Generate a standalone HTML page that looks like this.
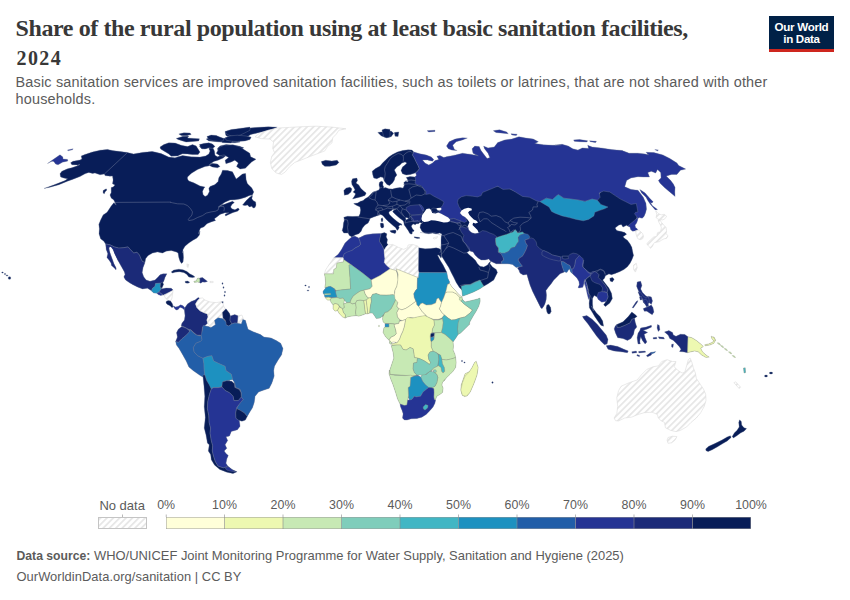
<!DOCTYPE html>
<html><head><meta charset="utf-8">
<style>
html,body{margin:0;padding:0;background:#fff;}
body{width:850px;height:600px;position:relative;overflow:hidden;font-family:"Liberation Sans",sans-serif;}
.t{position:absolute;white-space:nowrap;}
#title{left:15.500px;top:15.200px;font-family:"Liberation Serif",serif;font-weight:bold;font-size:24px;line-height:26px;color:#383838;letter-spacing:-0.4px;}
#title2{left:16.500px;top:46.750px;font-family:"Liberation Serif",serif;font-weight:bold;font-size:20px;line-height:22px;color:#383838;letter-spacing:1.4px;}
#sub{left:15.500px;top:74.200px;font-size:14.45px;line-height:17.3px;color:#5b5b5b;letter-spacing:0.18px;}
#logo{position:absolute;left:769px;top:16px;width:65px;height:33px;background:#002147;border-bottom:3px solid #ce261e;color:#fff;font-weight:bold;font-size:11.6px;line-height:12.1px;text-align:center;}
#logo div{margin-top:4.500px;letter-spacing:-0.3px}
.lg{position:absolute;font-size:12.4px;line-height:15px;color:#5b5b5b;top:498.300px;white-space:nowrap;}
.ft{position:absolute;left:16.500px;font-size:12.9px;line-height:15px;color:#5b5b5b;white-space:nowrap;}
</style></head><body>
<div id="title" class="t">Share of the rural population using at least basic sanitation facilities,</div>
<div id="title2" class="t">2024</div>
<div id="sub" class="t">Basic sanitation services are improved sanitation facilities, such as toilets or latrines, that are not shared with other<br>households.</div>
<div id="logo"><div>Our World<br>in Data</div></div>
<svg width="850" height="600" viewBox="0 0 850 600" style="position:absolute;left:0;top:0">
<defs>
<pattern id="h" width="4.5" height="4.5" patternUnits="userSpaceOnUse" patternTransform="rotate(45)"><rect width="4.5" height="4.5" fill="#fff"/><rect x="0" y="0" width="1.7" height="4.5" fill="#e6e6e6"/></pattern>
</defs>
<g id="map">
<path d="M769.4,373.0 770.2,373.8 771.8,373.8 772.6,373.0 771.8,372.2 770.2,372.2ZM764.6,376.0 765.3,376.9 766.7,376.9 767.4,376.0 766.7,375.1 765.3,375.1ZM732.4,436.6 733.4,437.8 736.8,435.6 736.8,435.6 740.4,432.9 740.4,432.9 740.5,432.8 743.9,431.2 746.3,428.7 744.1,427.9 744.0,427.9 744.0,427.8 743.9,427.8 743.8,427.7 743.8,427.7 741.7,425.3 741.7,425.3 741.6,425.2 741.6,425.1 741.6,425.1 741.5,425.0 741.5,424.9 741.2,421.7 739.7,420.1 738.9,422.4 739.3,426.7 739.3,426.7 739.3,426.8 739.3,426.9 739.3,427.0 739.3,427.0 739.2,427.1 739.2,427.2 737.1,430.4 737.0,430.5 737.0,430.5 734.4,433.1ZM743.7,368.1 744.1,372.8 745.4,372.5 745.1,367.9ZM705.9,449.0 706.1,450.6 708.1,451.4 712.1,449.7 712.1,449.7 717.4,446.7 717.4,446.7 722.7,443.5 722.7,443.5 727.1,440.9 727.1,440.9 727.1,440.9 730.9,437.5 730.3,435.9 727.3,437.0 727.3,437.0 727.3,437.0 722.0,440.2 721.9,440.2 714.9,443.7 714.8,443.7 708.8,446.4ZM704.8,344.9 705.3,345.6 709.6,345.0 709.6,345.0 709.6,345.0 713.7,343.3 715.2,340.6 715.2,340.6 715.3,340.5 715.3,340.4 715.4,340.4 715.4,340.4 715.4,340.3 715.4,340.2 715.4,340.2 713.9,337.1 712.9,337.1 712.9,337.1 712.8,337.1 712.7,337.1 712.7,337.1 712.6,337.1 711.4,336.5 711.9,338.4 713.5,340.3 713.5,340.4 713.5,340.5 713.6,340.5 713.6,340.6 713.6,340.7 713.6,340.8 713.6,340.8 713.6,340.9 713.6,341.0 713.6,341.1 713.6,341.1 713.5,341.2 713.0,342.0 713.0,342.1 712.9,342.1 712.9,342.2 712.8,342.2 712.8,342.3 712.7,342.3 708.8,344.0 708.7,344.0 708.7,344.1ZM664.8,332.1 668.1,334.9 668.2,335.0 668.2,335.0 668.3,335.1 668.3,335.1 669.9,338.5 673.4,340.2 673.4,340.3 673.5,340.3 673.6,340.4 676.1,342.9 676.1,342.9 679.3,346.4 679.3,346.4 679.4,346.5 680.9,348.8 680.9,348.9 681.0,348.9 681.0,349.0 681.0,349.1 681.0,349.1 681.0,349.2 681.0,349.3 681.0,349.3 681.0,349.4 681.0,349.5 680.9,349.6 680.9,349.6 679.8,351.4 683.1,351.6 683.2,351.7 687.5,352.5 691.0,351.7 691.0,351.7 694.4,350.9 694.5,350.9 694.6,350.9 694.6,350.9 694.7,350.9 694.8,350.9 698.0,351.6 698.1,351.6 698.1,351.7 698.2,351.7 698.3,351.7 698.3,351.8 701.7,354.9 701.7,354.9 701.7,354.9 706.0,357.3 708.8,357.0 706.0,355.2 705.9,355.1 705.9,355.1 702.5,352.0 702.4,351.9 702.4,351.9 702.4,351.8 702.3,351.8 700.8,348.8 700.8,348.8 700.8,348.7 700.7,348.6 700.7,348.6 700.7,348.5 700.7,348.4 700.7,348.3 700.8,348.3 700.8,348.2 700.8,348.1 700.9,348.1 700.9,348.0 700.9,348.0 701.0,347.9 701.1,347.9 703.2,346.5 700.6,344.0 700.6,344.0 696.2,340.5 696.2,340.5 691.8,337.8 688.1,337.0 688.0,337.0 687.9,336.9 687.9,336.9 687.8,336.9 684.7,334.6 680.4,334.4 676.3,336.3 676.3,336.3 676.2,336.4 676.1,336.4 676.0,336.4 676.0,336.4 675.9,336.4 675.8,336.4 675.7,336.3 675.7,336.3 673.6,335.3 673.5,335.3 673.4,335.3 673.4,335.2 673.3,335.2 673.3,335.1 673.2,335.0 673.2,335.0 673.2,334.9 672.4,332.5 668.9,330.8ZM323.2,291.3 323.2,293.1 324.5,294.8 324.5,294.9 324.5,294.9 324.6,295.0 324.6,295.1 324.9,296.8 325.0,296.9 325.0,296.9 325.1,297.0 325.1,297.0 325.1,297.1 325.1,297.2 325.2,297.3 325.2,297.3 325.2,297.4 325.2,297.5 327.6,300.0 329.6,299.9 329.7,299.9 329.7,299.9 329.8,299.9 329.9,299.9 329.9,299.9 330.0,300.0 330.1,300.0 330.1,300.1 330.2,300.1 330.2,300.2 330.3,300.2 330.3,300.3 331.3,302.4 331.3,302.4 331.3,302.4 333.1,304.7 333.1,304.8 333.2,304.9 333.2,304.9 333.2,305.0 333.2,305.1 333.2,305.1 333.2,305.2 333.2,308.7 335.1,311.0 337.0,310.6 337.1,310.5 337.2,310.5 337.3,310.5 337.3,310.5 337.4,310.6 337.5,310.6 337.5,310.6 337.6,310.6 337.7,310.7 337.7,310.7 337.8,310.8 337.8,310.8 337.9,310.9 339.5,313.7 342.6,316.8 345.2,317.9 347.4,316.8 347.4,316.8 347.5,316.8 347.6,316.7 351.2,316.1 351.2,316.0 356.1,315.5 356.1,315.5 356.2,315.5 356.3,315.5 356.3,315.5 358.8,316.0 362.4,314.9 362.5,314.9 365.4,313.7 365.5,313.7 365.6,313.7 365.6,313.7 365.7,313.7 367.8,313.7 369.7,313.0 369.7,313.0 369.8,313.0 369.9,313.0 372.2,313.0 372.3,313.0 372.4,313.0 372.4,313.0 372.5,313.0 372.6,313.0 372.6,313.1 372.7,313.1 372.8,313.2 372.8,313.2 374.5,315.5 374.5,315.5 376.3,318.3 379.9,318.0 381.7,316.6 381.7,316.6 381.8,316.6 381.9,316.5 382.0,316.5 382.0,316.5 382.1,316.5 382.2,316.5 382.2,316.5 382.3,316.5 382.4,316.5 382.5,316.5 382.5,316.6 382.6,316.6 382.6,316.7 382.7,316.7 382.7,316.8 382.8,316.8 382.8,316.9 382.8,317.0 382.9,317.0 382.9,317.1 382.9,317.2 382.9,317.3 382.9,317.3 382.7,318.8 383.2,321.8 384.9,323.2 385.0,323.3 385.0,323.3 385.1,323.4 385.1,323.5 385.1,323.5 385.2,323.6 385.2,323.7 385.2,323.8 385.2,323.8 385.2,323.9 385.2,324.0 385.1,324.0 385.1,326.5 385.1,326.5 385.1,326.6 385.1,326.7 385.1,326.7 385.1,326.8 385.0,326.9 385.0,326.9 385.0,327.0 384.9,327.0 384.9,327.0 383.9,328.2 383.3,332.5 385.7,336.8 388.9,339.9 388.9,339.9 389.6,340.7 389.7,340.7 389.7,340.8 389.8,340.8 389.8,340.9 389.8,341.0 389.8,341.1 389.8,341.1 389.8,341.2 389.8,341.3 389.6,343.1 390.6,344.2 390.6,344.1 390.6,344.1 390.7,344.0 390.8,344.0 390.8,344.0 390.9,343.9 391.0,343.9 391.0,343.9 391.1,343.9 391.2,343.9 391.3,343.9 391.3,343.9 391.4,343.9 391.5,344.0 391.5,344.0 391.6,344.0 391.7,344.1 391.7,344.1 392.0,344.5 392.1,344.5 392.1,344.6 392.1,344.6 392.2,344.7 392.2,344.8 392.2,344.8 392.2,344.9 392.2,345.0 392.2,345.1 392.2,345.1 392.2,345.2 392.2,345.3 392.1,345.3 392.1,345.4 392.0,345.4 392.0,345.5 391.9,345.6 391.9,345.6 391.8,345.6 391.8,345.7 391.7,345.7 391.6,345.7 391.5,345.7 391.4,345.7 392.0,348.1 392.0,348.1 393.2,352.4 393.3,352.5 393.9,357.9 393.9,358.0 393.9,358.1 393.9,358.1 393.9,358.2 393.9,358.3 392.0,363.8 392.0,363.8 390.1,369.6 390.1,369.7 390.0,369.8 390.0,369.8 389.9,369.9 389.9,369.9 389.8,370.0 389.8,370.0 389.7,370.1 389.6,370.1 389.6,370.1 389.5,370.1 389.2,373.8 390.7,378.7 390.7,378.8 393.2,384.9 393.2,385.0 395.7,392.4 395.7,392.5 397.6,398.7 397.6,398.7 397.6,398.7 400.1,403.9 400.1,404.0 400.2,404.0 400.7,406.9 400.7,406.9 400.7,406.9 402.0,409.9 402.1,410.0 403.2,413.6 403.2,413.7 403.2,413.8 403.2,413.8 403.2,413.9 403.2,414.0 402.7,418.0 404.5,419.9 406.9,419.9 411.1,418.7 411.2,418.7 411.3,418.6 416.9,418.4 416.9,418.4 416.9,418.4 421.8,417.1 426.1,414.3 426.1,414.3 426.1,414.3 429.9,410.5 429.9,410.5 433.0,406.8 433.0,406.8 433.0,406.8 434.9,403.1 435.4,400.0 435.4,400.0 435.4,400.0 435.4,399.9 435.4,399.8 435.4,399.7 435.4,399.7 435.4,399.6 435.4,399.5 435.4,399.4 435.4,399.4 435.5,399.3 435.5,399.3 436.7,396.3 436.7,396.3 436.7,396.2 436.8,396.2 436.8,396.1 436.9,396.0 436.9,396.0 437.0,396.0 439.9,394.3 439.9,394.3 442.4,392.4 442.9,388.1 441.8,385.2 441.8,385.2 441.8,385.1 441.8,385.0 441.8,384.9 441.8,384.9 441.8,384.8 442.3,382.6 442.3,382.5 442.4,382.5 442.4,382.4 442.4,382.4 442.5,382.3 443.3,381.3 443.3,381.3 443.4,381.2 443.4,381.2 443.5,381.1 443.6,381.1 443.6,381.1 443.7,381.1 443.7,381.1 446.1,378.0 446.1,378.0 449.9,374.3 449.9,374.3 453.0,371.1 453.0,371.1 453.0,371.1 455.5,367.4 456.0,362.5 456.0,362.5 456.0,362.5 455.5,357.5 455.5,357.5 455.5,357.5 455.4,357.5 454.9,354.4 454.9,354.4 454.9,354.4 453.0,350.2 453.0,350.1 453.0,350.1 453.0,350.0 453.0,349.9 453.0,349.8 453.3,346.2 453.3,346.2 453.3,346.2 453.0,342.1 453.0,342.1 453.0,342.0 453.0,341.9 453.0,341.8 453.0,341.8 453.1,341.7 453.1,341.6 456.1,337.4 456.1,337.4 457.9,334.5 457.9,334.4 458.0,334.4 458.0,334.3 458.1,334.3 458.1,334.2 458.2,334.2 460.5,333.0 464.9,328.7 469.7,323.9 469.7,323.9 469.6,323.9 469.6,323.8 469.5,323.8 469.4,323.7 469.4,323.7 469.4,323.6 469.3,323.6 469.3,323.5 469.3,323.4 469.2,323.4 469.2,323.3 469.2,323.2 469.2,323.1 469.2,323.1 469.2,323.0 469.3,322.9 469.3,322.9 470.5,320.5 470.5,320.5 473.0,316.1 473.0,316.1 476.1,311.1 476.1,311.1 478.7,306.1 478.7,306.1 478.7,306.1 480.0,301.2 479.9,298.3 477.6,299.1 477.5,299.2 471.2,300.7 471.2,300.7 465.3,302.0 465.3,302.0 465.2,302.0 465.1,302.0 465.1,302.0 465.0,302.0 464.9,301.9 464.8,301.9 464.8,301.9 464.7,301.8 464.7,301.8 462.5,299.6 462.5,299.6 462.4,299.5 462.4,299.5 462.4,299.4 462.3,299.3 462.3,299.3 461.8,297.0 461.7,296.9 461.7,296.9 461.7,296.8 461.6,296.8 461.5,296.8 461.5,296.7 461.4,296.7 458.7,294.6 458.7,294.5 458.7,294.5 454.9,290.1 454.9,290.1 451.8,287.1 451.8,287.0 451.7,286.9 449.7,283.6 449.6,283.6 449.6,283.6 449.5,283.5 449.5,283.5 449.4,283.4 449.3,283.4 449.3,283.3 449.3,283.3 449.2,283.2 449.2,283.1 449.2,283.1 449.2,283.0 449.2,282.9 449.2,282.8 449.2,282.8 449.2,282.7 449.2,282.6 449.3,282.5 449.3,282.5 449.4,282.4 449.4,282.4 449.6,282.2 447.7,278.2 447.7,278.2 447.7,278.1 447.6,278.0 446.8,272.8 446.7,272.8 446.7,272.7 446.7,272.7 446.7,272.6 446.7,272.5 446.7,272.5 444.9,268.9 444.9,268.9 443.0,265.1 443.0,265.1 439.9,260.1 439.9,260.0 437.9,256.1 437.8,256.0 437.8,255.9 437.8,255.9 437.8,255.8 437.8,255.7 437.8,255.6 437.8,255.6 437.8,255.5 437.9,255.4 437.9,255.4 437.9,255.3 438.0,255.3 438.0,255.2 438.1,255.1 438.1,255.1 438.2,255.1 438.3,255.0 438.3,255.0 438.4,255.0 438.5,255.0 438.6,255.0 438.6,255.0 438.7,255.0 438.8,255.0 438.9,255.0 439.0,255.1 439.0,255.1 439.1,255.1 439.1,255.2 439.2,255.2 439.2,255.3 439.3,255.3 440.8,257.7 440.9,257.2 440.9,257.1 440.9,257.0 441.0,257.0 441.0,256.9 441.0,256.8 441.1,256.8 441.1,256.7 441.2,256.7 441.3,256.6 441.3,256.6 441.4,256.6 441.5,256.6 441.6,256.6 441.6,256.5 441.7,256.5 441.8,256.6 441.8,256.6 441.9,256.6 442.0,256.6 442.0,256.7 442.1,256.7 442.2,256.8 442.2,256.8 442.3,256.9 442.6,257.4 442.6,257.4 445.7,262.4 445.7,262.4 448.9,267.4 449.0,267.5 451.3,272.4 451.3,272.4 453.9,277.4 453.9,277.4 456.3,282.4 456.3,282.4 459.5,287.4 459.5,287.4 459.5,287.4 461.7,289.6 461.7,289.6 461.8,289.7 461.8,289.7 461.8,289.8 461.8,289.8 461.9,289.9 461.9,290.0 462.0,291.2 462.0,291.2 462.6,296.0 467.4,294.3 467.5,294.3 473.7,291.8 473.7,291.8 479.9,288.7 479.9,288.7 483.7,286.1 483.8,286.1 488.0,283.7 488.0,283.7 491.8,281.1 491.8,281.1 493.7,279.9 495.5,276.1 495.5,276.1 497.3,272.5 496.1,269.5 492.5,267.1 492.4,267.0 492.4,267.0 492.3,266.9 490.1,264.1 490.0,264.1 490.0,264.0 490.0,263.9 489.9,263.9 489.9,263.8 489.9,263.7 489.9,263.6 489.9,263.6 489.9,263.5 490.3,261.9 490.3,261.8 490.3,261.7 490.4,261.7 490.4,261.6 490.5,261.6 490.5,261.5 490.6,261.5 490.6,261.4 490.7,261.4 490.8,261.4 490.8,261.3 490.9,261.3 491.0,261.3 491.0,261.3 491.1,261.3 491.2,261.3 491.3,261.3 491.3,261.4 496.2,263.7 507.5,263.7 507.6,263.7 512.3,264.2 512.4,264.2 512.5,264.3 512.5,264.3 512.6,264.3 512.7,264.4 512.7,264.4 516.2,267.3 517.1,267.2 517.2,267.2 517.3,267.2 517.3,267.2 517.4,267.2 517.5,267.2 517.6,267.2 517.6,267.3 517.7,267.3 517.7,267.3 517.8,267.4 517.8,267.4 517.9,267.5 517.9,267.6 518.0,267.6 518.0,267.7 518.0,267.8 518.0,267.8 518.0,267.9 518.0,268.0 518.0,268.1 518.0,268.1 518.0,268.2 517.9,268.3 517.9,268.3 517.9,268.4 517.8,268.4 517.8,268.5 517.7,268.5 518.8,269.7 518.8,269.8 518.9,269.8 518.9,269.9 518.9,269.9 520.1,273.0 523.1,274.8 526.3,274.3 526.4,274.3 526.5,274.3 526.6,274.3 526.6,274.3 526.7,274.4 526.8,274.4 526.8,274.4 526.9,274.5 527.0,274.5 527.0,274.6 527.1,274.6 527.1,274.7 527.1,274.7 527.2,274.8 527.2,274.9 528.2,278.8 528.2,278.8 530.1,284.9 530.1,285.0 532.6,291.1 532.6,291.1 535.7,297.4 540.7,307.4 541.9,308.6 543.7,306.1 543.7,306.1 543.7,306.1 544.9,303.7 544.9,303.7 544.9,303.7 546.1,299.4 546.1,299.4 546.1,299.4 546.3,295.0 546.3,295.0 546.3,295.0 545.9,290.8 545.9,290.8 545.9,290.7 545.9,290.6 545.9,290.5 545.9,290.5 546.0,290.4 546.0,290.3 548.0,287.4 548.0,287.4 551.1,283.7 551.1,283.7 553.6,280.0 553.7,279.9 553.7,279.9 556.8,276.8 559.8,273.8 559.9,273.7 559.9,273.7 560.0,273.6 560.1,273.6 562.4,272.7 562.4,272.7 564.1,271.9 564.2,271.8 564.3,271.8 564.4,271.8 564.4,271.8 564.5,271.8 564.6,271.8 564.6,271.8 566.8,272.3 568.0,270.5 568.0,270.5 568.6,269.6 568.7,269.6 568.7,269.5 568.8,269.5 568.8,269.4 568.9,269.4 569.0,269.3 569.0,269.3 569.1,269.3 569.2,269.3 569.3,269.3 569.3,269.3 569.4,269.3 569.5,269.3 569.5,269.4 569.6,269.4 569.7,269.4 569.7,269.5 569.8,269.5 569.8,269.6 569.9,269.6 569.9,269.7 569.9,269.8 570.7,271.8 572.6,273.7 574.5,275.5 574.5,275.5 577.0,277.9 577.0,278.0 577.1,278.1 578.9,281.0 578.9,281.1 578.9,281.1 579.0,281.2 579.0,281.3 579.5,284.2 579.5,284.3 579.5,284.3 579.5,284.4 579.5,284.5 579.5,284.6 579.5,284.6 578.3,287.4 578.9,287.8 582.8,287.1 584.4,280.9 584.4,280.9 584.4,280.8 584.5,280.7 584.5,280.7 584.6,280.6 584.6,280.6 584.7,280.5 584.7,280.5 584.8,280.4 584.9,280.4 584.9,280.4 585.0,280.4 585.1,280.4 585.2,280.4 585.2,280.4 585.3,280.4 585.4,280.4 585.4,280.5 585.5,280.5 585.6,280.5 585.6,280.6 585.7,280.6 585.7,280.7 585.8,280.8 585.8,280.8 585.8,280.9 587.3,285.3 587.3,285.4 587.4,285.4 588.7,293.3 588.7,293.3 589.6,299.4 589.6,299.5 589.6,299.5 589.6,299.6 589.3,303.3 589.3,303.3 589.3,303.3 589.5,307.7 592.2,312.0 592.2,312.0 594.8,316.4 594.8,316.4 598.4,321.7 598.4,321.7 601.0,325.2 603.4,326.0 602.6,321.0 599.9,316.6 599.9,316.6 599.9,316.6 596.4,313.1 596.4,313.1 596.4,313.0 593.8,309.5 593.8,309.5 593.0,308.4 592.9,308.4 592.9,308.3 592.9,308.3 592.8,308.2 592.8,308.1 592.8,308.1 592.4,303.9 592.4,303.9 592.4,298.8 592.4,298.7 592.4,298.6 592.4,298.5 592.4,298.5 592.4,298.4 593.8,295.9 593.8,295.9 593.9,295.8 593.9,295.8 594.0,295.7 594.0,295.7 594.1,295.6 594.2,295.6 594.2,295.6 594.3,295.6 594.4,295.5 594.4,295.5 594.5,295.5 594.6,295.6 594.6,295.6 594.7,295.6 594.8,295.6 596.9,296.7 596.9,296.7 597.0,296.7 597.1,296.8 597.1,296.8 597.2,296.9 597.2,297.0 597.2,297.0 598.4,299.4 601.8,302.0 604.6,301.5 604.7,301.5 604.8,301.5 604.8,301.5 604.9,301.5 605.0,301.5 605.1,301.5 605.1,301.5 605.2,301.6 605.2,301.6 605.3,301.7 605.4,301.7 605.4,301.8 605.4,301.8 605.5,301.9 605.5,302.0 605.5,302.0 605.5,302.1 605.5,302.2 605.5,302.2 605.5,302.3 605.5,302.4 605.5,302.5 605.5,302.5 605.4,302.6 605.4,302.6 603.8,304.8 605.4,306.4 609.7,303.0 612.2,298.6 611.4,293.3 608.8,288.1 608.8,288.1 608.8,288.1 605.3,283.7 605.3,283.7 602.9,280.6 602.9,280.6 602.8,280.5 602.8,280.4 602.8,280.4 602.8,280.3 602.7,280.2 602.7,280.1 602.8,280.1 602.8,280.0 602.8,279.9 602.8,279.9 602.8,279.8 602.9,279.7 602.9,279.7 603.0,279.6 604.4,278.2 605.2,275.9 605.2,275.8 605.2,275.7 605.3,275.7 605.3,275.6 605.4,275.6 605.4,275.5 605.5,275.5 605.5,275.5 608.6,273.9 608.7,273.9 608.7,273.8 608.8,273.8 608.9,273.8 609.0,273.8 609.0,273.8 609.1,273.8 609.2,273.8 611.5,274.6 615.0,273.5 615.1,273.5 619.4,271.7 619.4,271.7 623.8,269.4 623.8,269.4 623.8,269.4 627.3,266.7 630.0,263.2 630.0,263.2 630.0,263.2 631.8,259.7 631.8,259.7 633.4,255.4 632.6,251.9 632.5,251.8 631.8,247.4 630.0,244.0 630.0,244.0 630.0,244.0 627.3,240.4 624.8,238.8 624.7,238.7 624.7,238.7 623.4,237.4 623.3,237.4 623.3,237.3 623.3,237.2 623.2,237.2 623.2,237.1 623.2,237.0 623.2,237.0 623.2,236.9 623.2,236.8 623.2,236.7 623.2,236.7 623.2,236.6 623.3,236.5 623.3,236.5 623.3,236.4 623.4,236.4 623.4,236.3 623.5,236.3 626.4,234.2 624.7,232.5 621.3,231.6 621.3,231.6 617.0,230.8 616.9,230.8 616.9,230.8 616.8,230.7 616.7,230.7 616.7,230.6 616.6,230.6 616.6,230.5 616.5,230.5 615.3,228.5 615.2,228.5 615.2,228.4 615.2,228.3 615.2,228.3 615.2,228.2 615.2,228.1 615.2,228.0 615.2,228.0 615.2,227.9 615.2,227.8 615.3,227.8 615.3,227.7 615.3,227.6 615.4,227.6 615.4,227.5 618.4,225.2 618.5,225.2 618.6,225.2 618.6,225.1 620.8,224.4 620.9,224.4 620.9,224.4 621.0,224.4 621.1,224.4 621.2,224.4 621.2,224.4 621.3,224.4 621.4,224.4 621.4,224.5 621.5,224.5 621.5,224.6 621.6,224.6 621.6,224.7 621.7,224.7 623.1,226.9 626.2,225.3 626.3,225.3 626.4,225.3 626.4,225.3 626.5,225.2 626.6,225.2 626.6,225.2 626.7,225.3 626.8,225.3 626.8,225.3 626.9,225.3 627.0,225.4 628.0,226.0 628.1,226.0 628.1,226.1 628.2,226.1 628.3,226.1 628.3,226.1 628.4,226.1 629.7,226.8 629.8,226.8 629.9,226.8 629.9,226.9 630.0,226.9 630.0,227.0 630.1,227.1 630.1,227.1 630.1,227.2 630.9,229.7 632.7,231.0 635.5,230.7 635.5,230.7 635.5,230.7 637.7,229.9 637.3,229.0 635.6,227.8 635.6,227.7 635.5,227.7 635.5,227.6 635.4,227.6 635.4,227.5 635.3,227.4 635.3,227.4 635.3,227.3 635.0,225.4 635.0,225.3 635.0,225.2 635.0,225.2 635.0,225.1 635.0,225.0 635.1,224.9 635.1,224.9 635.1,224.8 636.4,223.1 637.3,220.9 637.3,220.9 637.3,220.9 637.7,218.7 637.7,218.6 637.7,218.6 637.8,218.5 637.8,218.4 637.9,218.4 637.9,218.3 638.0,218.3 638.0,218.2 639.0,217.6 639.1,217.6 639.1,217.5 639.2,217.5 639.3,217.5 639.4,217.5 639.4,217.5 639.5,217.5 639.6,217.5 642.1,218.1 643.9,216.5 645.4,212.9 645.4,212.8 646.3,209.2 645.9,203.5 643.2,197.4 643.2,197.4 643.2,197.4 637.9,190.4 631.1,189.6 631.0,189.5 630.9,189.5 630.9,189.5 625.2,187.0 625.2,187.0 625.1,187.0 625.0,186.9 625.0,186.9 624.9,186.8 624.9,186.8 624.9,186.7 624.8,186.6 624.8,186.6 624.8,186.5 624.8,186.4 624.8,186.4 624.8,186.3 624.8,186.2 624.8,186.2 626.4,180.7 626.4,180.6 626.4,180.6 626.5,180.5 626.5,180.4 626.6,180.4 626.6,180.3 626.7,180.3 626.7,180.2 630.8,177.8 630.9,177.8 631.0,177.8 631.0,177.7 631.1,177.7 637.9,176.6 638.0,176.6 638.1,176.6 643.3,176.8 643.3,176.8 649.3,176.8 647.9,173.2 647.9,173.2 647.8,173.1 647.8,173.0 647.8,172.9 647.8,172.9 647.8,172.8 647.9,172.7 647.9,172.6 647.9,172.6 648.0,172.5 648.0,172.5 648.1,172.4 648.1,172.4 648.2,172.3 648.2,172.3 648.3,172.2 651.0,171.2 651.1,171.2 651.2,171.2 651.2,171.2 651.3,171.2 651.4,171.2 651.4,171.2 651.5,171.2 651.6,171.2 655.6,172.9 657.0,170.2 657.0,170.2 657.1,170.1 657.1,170.1 657.2,170.0 657.2,170.0 657.3,169.9 657.4,169.9 657.4,169.9 657.5,169.8 657.6,169.8 657.7,169.8 657.7,169.8 657.8,169.8 657.9,169.9 657.9,169.9 658.0,169.9 658.1,169.9 658.1,170.0 658.2,170.0 660.6,172.3 660.7,172.4 660.7,172.4 660.8,172.5 660.8,172.6 660.8,172.6 660.8,172.7 660.9,172.8 660.9,172.8 661.1,177.6 661.1,177.7 661.1,177.8 661.1,177.8 661.1,177.9 661.1,178.0 661.0,178.0 661.0,178.1 661.0,178.1 660.9,178.2 658.6,180.5 660.2,183.1 660.2,183.1 660.2,183.1 664.6,187.5 664.6,187.5 669.9,191.9 674.9,196.1 674.7,192.1 674.7,191.9 674.9,187.6 673.3,184.2 673.3,184.2 673.3,184.2 670.6,180.6 670.6,180.6 666.9,176.9 666.8,176.8 666.8,176.8 666.8,176.7 666.7,176.7 666.7,176.6 666.7,176.5 666.7,176.4 666.7,176.4 666.7,176.3 666.7,176.2 666.7,176.2 666.7,176.1 666.8,176.0 666.8,176.0 666.8,175.9 666.9,175.8 666.9,175.8 667.0,175.8 667.1,175.7 667.1,175.7 667.2,175.7 671.5,174.3 671.5,174.3 671.6,174.3 671.7,174.2 676.8,174.2 680.2,170.4 680.2,170.3 680.3,170.3 680.3,170.2 680.4,170.2 680.4,170.2 680.5,170.1 680.6,170.1 685.3,169.0 678.8,165.7 678.7,165.7 678.6,165.6 678.6,165.6 678.5,165.5 678.5,165.5 676.8,163.0 669.7,158.6 669.7,158.6 662.7,155.0 662.7,155.0 662.7,155.0 653.9,152.8 653.9,152.7 653.9,152.7 646.4,152.5 647.2,153.2 647.2,153.3 647.2,153.4 647.3,153.4 647.3,153.5 647.3,153.5 647.4,153.6 647.4,153.7 647.4,153.8 647.4,153.8 647.4,153.9 647.3,154.0 647.3,154.0 647.3,154.1 647.3,154.2 647.2,154.2 647.2,154.3 647.1,154.3 647.1,154.4 647.0,154.4 646.9,154.5 646.9,154.5 646.8,154.5 646.7,154.5 646.7,154.5 646.6,154.5 646.5,154.5 646.4,154.5 645.1,154.2 645.1,154.1 638.0,153.4 638.0,153.3 629.3,153.3 629.2,153.3 629.2,153.3 629.1,153.3 629.0,153.3 622.1,150.6 611.5,149.8 611.5,149.7 600.9,148.0 600.9,148.0 592.2,147.2 592.1,147.1 592.0,147.1 592.0,147.1 587.9,145.5 588.5,147.5 588.5,147.6 588.5,147.7 588.5,147.7 588.5,147.8 588.5,147.9 588.5,148.0 588.5,148.0 588.4,148.1 588.4,148.2 588.4,148.2 588.3,148.3 588.3,148.3 588.2,148.4 588.1,148.4 588.1,148.4 588.0,148.4 587.9,148.5 587.9,148.5 587.8,148.5 587.7,148.5 582.4,148.1 578.3,150.1 578.2,150.2 578.1,150.2 578.0,150.2 578.0,150.2 577.9,150.2 577.8,150.2 577.7,150.2 572.7,148.9 572.7,148.8 572.6,148.8 572.6,148.8 568.2,146.2 562.1,144.5 556.4,145.2 556.4,145.2 552.5,145.3 552.5,145.3 543.7,145.0 543.6,144.9 536.7,143.9 536.6,143.8 536.6,143.8 536.5,143.8 536.4,143.8 536.4,143.7 536.3,143.7 536.3,143.6 536.2,143.6 536.2,143.5 536.1,143.4 536.1,143.4 536.1,143.3 536.1,143.2 536.1,143.1 536.1,143.1 536.1,143.0 536.1,142.9 536.1,142.9 536.1,142.8 536.2,142.7 536.2,142.7 536.3,142.6 536.3,142.6 536.4,142.5 536.4,142.5 536.5,142.4 538.1,141.7 533.1,139.1 526.0,138.3 526.0,138.2 518.9,136.9 512.0,139.1 511.9,139.1 511.9,139.2 504.8,140.0 504.8,140.0 504.8,140.0 497.8,142.7 494.5,146.9 494.4,147.0 494.4,147.0 494.3,147.1 494.3,147.1 494.2,147.1 494.1,147.1 494.1,147.2 494.0,147.2 488.2,148.0 488.1,148.0 488.0,148.0 487.9,148.0 487.9,148.0 487.8,148.0 483.9,146.4 484.6,148.6 488.1,153.0 488.1,153.1 488.1,153.2 488.2,153.2 489.7,156.9 489.7,157.0 489.7,157.1 489.7,157.2 489.8,157.2 489.7,157.3 489.7,157.4 489.7,157.4 489.7,157.5 489.7,157.6 489.6,157.6 489.6,157.7 489.5,157.8 489.5,157.8 489.4,157.8 489.4,157.9 489.3,157.9 489.2,157.9 487.6,158.5 487.5,158.5 487.4,158.5 487.3,158.5 487.3,158.5 487.2,158.5 487.1,158.5 487.1,158.5 487.0,158.5 486.9,158.4 486.9,158.4 486.8,158.4 486.8,158.3 486.7,158.3 483.5,154.1 483.5,154.1 480.9,150.6 480.9,150.6 480.8,150.5 479.1,146.7 474.9,146.3 472.3,148.8 473.1,153.1 474.3,153.7 474.3,153.7 474.4,153.7 474.5,153.8 474.5,153.8 474.5,153.9 474.6,154.0 474.6,154.0 474.6,154.1 474.7,154.2 474.7,154.2 474.7,154.3 474.7,154.4 474.7,154.5 474.7,154.5 474.6,154.6 474.6,154.7 474.6,154.7 474.5,154.8 474.5,154.9 474.4,154.9 474.4,154.9 474.3,155.0 474.2,155.0 474.2,155.0 474.1,155.1 474.0,155.1 473.9,155.1 473.9,155.1 473.8,155.1 471.2,154.5 471.2,154.5 462.4,153.4 453.7,155.5 453.6,155.6 446.5,156.8 446.5,156.8 444.1,157.6 444.0,157.6 443.9,157.6 443.9,157.6 443.8,157.6 443.7,157.6 443.7,157.6 443.6,157.6 443.5,157.5 440.0,155.8 437.1,156.3 438.5,158.7 438.6,158.7 438.6,158.8 438.6,158.9 438.6,159.0 438.6,159.0 438.6,159.1 438.6,159.2 438.6,159.3 438.6,159.3 438.6,159.4 438.5,159.5 438.5,159.5 438.4,159.6 438.4,159.6 438.3,159.7 438.3,159.7 438.2,159.7 438.1,159.8 435.1,160.7 432.7,163.1 432.6,163.2 432.6,163.2 432.5,163.3 429.1,165.0 429.1,165.0 429.0,165.0 428.9,165.1 428.9,165.1 428.8,165.1 428.7,165.1 428.7,165.1 428.6,165.0 428.5,165.0 428.5,165.0 425.0,163.3 425.0,163.3 424.9,163.2 424.9,163.2 424.8,163.1 423.2,161.1 423.1,161.0 423.1,160.9 423.1,160.9 423.0,160.8 423.0,160.7 423.0,160.7 423.0,160.6 423.0,160.5 423.0,160.4 423.0,160.4 423.1,160.3 423.1,160.2 423.1,160.2 423.2,160.1 423.2,160.1 423.3,160.0 423.3,160.0 423.4,159.9 423.5,159.9 423.5,159.9 423.6,159.9 423.7,159.9 423.8,159.8 427.4,159.8 427.5,159.9 427.6,159.9 432.4,161.0 433.6,159.4 431.1,157.0 426.2,155.1 426.2,155.1 426.2,155.1 420.0,154.0 419.9,153.9 413.9,152.1 413.8,152.1 413.8,152.0 413.7,152.0 413.6,151.9 413.6,151.9 411.8,150.1 408.1,150.0 408.1,150.0 408.1,150.0 402.5,150.7 402.5,150.8 397.6,152.0 397.6,152.0 397.5,152.0 392.6,154.5 392.6,154.5 388.9,157.0 388.9,157.0 388.9,157.0 385.7,160.1 385.7,160.1 382.6,163.2 382.6,163.2 380.2,166.0 380.1,166.1 380.1,166.1 380.0,166.2 375.7,168.6 375.7,168.6 375.7,168.6 372.4,171.3 372.9,175.0 372.9,175.0 372.9,175.0 373.9,178.0 376.9,178.6 380.3,176.9 380.4,176.8 380.5,176.8 380.5,176.8 380.6,176.8 380.7,176.8 380.8,176.8 380.9,176.8 382.8,177.3 382.9,177.3 383.0,177.3 383.0,177.4 383.1,177.4 383.1,177.5 383.2,177.5 383.2,177.6 383.3,177.6 383.3,177.7 383.3,177.8 384.5,181.1 387.0,184.3 389.4,185.4 392.4,183.0 394.3,179.9 394.8,177.6 394.8,177.5 394.9,177.4 394.9,177.4 395.0,177.3 396.7,175.0 395.5,172.6 395.5,172.6 394.4,170.4 394.4,170.3 394.4,170.3 394.4,170.2 394.4,170.1 394.4,170.0 394.4,170.0 394.4,169.9 394.4,169.8 394.4,169.7 394.5,169.7 394.5,169.6 396.7,166.9 396.8,166.8 396.8,166.8 396.9,166.7 399.9,164.9 399.9,164.9 399.9,164.9 401.7,163.1 401.8,163.0 401.8,163.0 401.9,162.9 402.0,162.9 404.7,161.9 404.7,161.8 404.8,161.8 404.9,161.8 405.0,161.8 405.0,161.8 405.1,161.8 405.2,161.9 405.3,161.9 405.3,161.9 406.3,162.6 406.4,162.6 406.5,162.7 406.5,162.7 406.6,162.8 406.6,162.8 406.6,162.9 406.7,163.0 406.7,163.0 406.7,163.1 406.7,163.2 406.7,163.3 406.7,163.3 406.7,163.4 406.6,163.5 406.6,163.6 406.6,163.6 406.5,163.7 406.5,163.7 405.1,165.1 405.1,165.1 402.6,167.0 401.2,170.6 402.6,173.7 406.2,174.8 410.6,174.3 410.6,174.3 410.6,174.3 414.9,173.0 414.9,173.0 415.0,172.9 415.1,172.9 415.2,172.9 415.2,172.9 415.3,172.9 415.4,172.9 415.5,173.0 415.5,173.0 415.6,173.0 415.7,173.1 415.7,173.1 415.8,173.2 415.8,173.2 415.8,173.3 415.9,173.4 416.5,174.8 416.5,174.9 416.5,174.9 416.5,175.0 416.5,175.1 416.5,175.2 416.5,175.2 416.5,175.3 416.5,175.4 416.5,175.5 416.4,175.5 416.4,175.6 415.3,176.8 415.3,176.8 415.2,176.9 415.1,176.9 415.1,177.0 415.0,177.0 414.9,177.0 414.8,177.0 414.8,177.0 414.7,177.0 410.0,176.7 406.4,177.6 407.6,179.2 407.6,179.3 407.6,179.3 407.7,179.4 407.7,179.5 408.0,180.9 408.0,180.9 408.0,181.0 408.0,181.1 408.0,181.2 408.0,181.2 408.0,181.3 408.0,181.4 407.9,181.4 407.9,181.5 407.8,181.6 407.8,181.6 407.7,181.7 407.7,181.7 407.6,181.7 407.5,181.8 407.4,181.8 407.4,181.8 407.3,181.8 407.2,181.8 407.1,181.8 407.1,181.8 405.6,181.4 404.0,182.6 404.5,184.8 404.5,184.9 404.5,184.9 404.5,185.0 404.5,185.1 404.5,185.2 404.5,185.2 403.4,187.7 403.4,187.8 403.4,187.8 403.3,187.9 403.3,187.9 403.2,188.0 403.2,188.0 403.1,188.1 403.0,188.1 403.0,188.1 402.9,188.2 402.8,188.2 402.7,188.2 402.7,188.2 402.6,188.2 400.0,187.7 396.2,188.2 396.2,188.2 392.6,189.1 392.5,189.1 392.5,189.1 392.4,189.1 388.9,189.0 388.8,188.9 388.7,188.9 388.7,188.9 385.6,187.7 384.5,187.9 384.4,187.9 384.4,187.9 384.3,187.9 384.2,187.9 384.1,187.9 384.1,187.9 384.0,187.9 383.9,187.8 383.9,187.8 383.8,187.7 383.8,187.7 383.7,187.6 383.7,187.6 383.6,187.5 383.6,187.4 383.6,187.4 383.6,187.3 383.6,187.2 383.6,187.1 383.6,187.1 383.6,187.0 383.6,186.9 383.6,186.9 382.8,185.2 382.7,185.2 382.7,185.1 382.7,185.0 382.7,185.0 382.7,184.9 382.7,184.8 382.9,182.0 381.2,181.4 379.5,182.6 379.2,185.0 379.9,187.8 379.9,187.9 379.9,188.0 379.9,188.0 379.9,188.1 379.9,188.2 379.9,188.2 379.9,188.3 379.8,188.4 379.0,189.9 379.0,189.9 379.0,190.0 378.9,190.1 378.8,190.1 378.8,190.2 378.7,190.2 378.6,190.2 375.7,191.3 375.6,191.4 373.2,192.0 371.3,193.9 368.3,197.0 368.2,197.0 368.1,197.1 365.1,198.9 365.1,198.9 365.1,198.9 363.3,200.6 363.3,200.6 363.2,200.7 363.1,200.7 363.1,200.8 363.0,200.8 360.7,201.3 357.7,203.2 357.6,203.2 357.6,203.2 357.5,203.2 357.4,203.3 357.4,203.3 353.9,203.6 353.9,203.7 357.0,205.5 357.0,205.5 359.8,206.6 359.8,206.7 359.9,206.7 360.0,206.8 360.0,206.8 360.1,206.9 360.1,206.9 360.1,207.0 360.2,207.0 360.2,207.1 360.2,207.2 360.7,209.9 360.7,209.9 360.7,210.0 360.7,210.1 360.7,210.1 360.2,213.7 360.1,213.8 360.1,213.9 360.1,214.0 359.1,216.0 359.1,216.0 359.0,216.1 359.0,216.1 358.9,216.2 358.9,216.2 358.8,216.3 358.7,216.3 358.7,216.3 358.6,216.3 358.5,216.4 358.5,216.4 352.5,216.6 352.5,216.6 347.5,216.4 344.0,217.3 344.5,219.8 344.5,219.9 344.5,220.0 344.5,220.0 344.5,220.1 344.5,220.2 343.6,223.1 343.6,223.1 343.6,223.1 343.3,226.9 343.2,227.0 342.4,230.6 343.9,232.9 347.7,232.9 347.8,233.0 347.9,233.0 348.0,233.0 348.0,233.0 348.1,233.0 348.2,233.1 348.2,233.1 348.3,233.2 348.3,233.2 348.4,233.3 348.4,233.4 349.5,235.5 351.2,236.3 351.2,236.4 351.3,236.4 351.3,236.5 351.4,236.5 351.4,236.6 351.5,236.7 351.5,236.7 351.5,236.8 351.5,236.9 351.6,236.9 351.6,237.0 351.6,237.1 351.5,237.2 351.5,237.2 351.5,237.3 351.5,237.4 351.4,237.4 351.4,237.5 351.3,237.5 351.3,237.6 348.9,239.5 348.9,239.5 345.1,243.2 342.0,248.9 342.0,248.9 341.3,250.1 341.3,250.1 338.3,254.4 338.2,254.5 338.2,254.5 338.1,254.6 334.2,257.7 342.6,257.7 342.7,257.7 342.8,257.7 342.8,257.7 342.9,257.7 343.0,257.7 343.0,257.8 343.1,257.8 343.1,257.9 343.2,257.9 343.2,258.0 343.3,258.0 343.3,258.1 343.3,258.2 343.4,258.2 343.6,259.3 343.6,259.4 343.6,259.5 343.6,261.4 343.6,261.5 343.6,261.5 343.6,261.6 343.6,261.7 343.6,261.8 343.5,261.8 343.5,261.9 343.4,261.9 343.4,262.0 343.3,262.0 343.2,262.1 343.2,262.1 343.1,262.1 343.0,262.1 340.0,262.6 340.0,262.6 337.0,263.2 336.4,267.8 336.4,267.9 336.4,268.0 336.3,268.0 336.3,268.1 336.3,268.1 336.2,268.2 336.2,268.3 336.1,268.3 336.1,268.3 336.0,268.4 333.9,269.5 333.7,273.3 333.7,273.3 333.7,273.4 333.6,273.5 333.6,273.5 333.6,273.6 333.5,273.7 333.5,273.7 333.4,273.8 333.4,273.8 333.3,273.9 333.2,273.9 333.2,273.9 333.1,273.9 333.0,273.9 332.9,273.9 324.6,273.9 325.3,278.0 325.4,278.1 325.7,283.0 325.7,283.1 325.7,283.1 325.7,283.2 325.0,287.4 325.0,287.4 325.1,287.4 325.1,287.4 325.2,287.4 325.3,287.5 325.3,287.5 325.4,287.6 325.4,287.6 325.5,287.7 325.5,287.8 325.5,287.8 325.5,287.9 325.6,288.0 325.6,288.0 325.6,288.1 325.6,288.2 325.6,288.2 325.5,288.3 325.5,288.4 325.5,288.4 325.5,288.5 325.4,288.6ZM470.1,250.9 472.9,251.7 473.0,251.7 473.0,251.7 473.1,251.8 473.2,251.8 473.2,251.9 473.3,251.9 473.3,252.0 473.3,252.0 475.1,254.9 475.1,254.9 475.1,254.9 478.2,258.0 478.2,258.0 478.2,258.0 481.2,259.9 485.0,259.9 488.4,259.0 488.5,258.9 488.5,258.9 488.6,258.9 488.7,258.9 488.7,258.9 488.8,259.0 488.9,259.0 488.9,259.0 489.0,259.1 489.1,259.1 489.1,259.2 489.2,259.2 490.4,260.7 490.4,260.8 490.5,260.8 490.5,260.9 490.5,260.9 490.5,261.0 490.5,261.1 490.6,261.2 490.5,261.2 490.5,261.3 490.5,261.4 490.5,261.4 490.5,261.5 490.4,261.6 490.4,261.6 490.3,261.7 488.9,263.2 488.9,263.2 488.9,263.2 487.7,265.0 487.7,265.0 487.6,265.1 487.6,265.1 487.5,265.2 487.4,265.2 484.1,266.9 484.0,267.0 483.9,267.0 483.9,267.0 483.8,267.0 483.7,267.0 483.6,267.0 483.6,267.0 480.1,266.4 480.1,266.4 480.0,266.3 479.9,266.3 479.9,266.3 479.8,266.2 479.8,266.2 477.5,264.0 477.4,263.9 477.4,263.9 477.3,263.8 475.5,260.7 472.4,257.6 472.4,257.6 469.3,255.1 469.3,255.1 467.3,253.1 467.2,253.1 467.2,253.0 467.2,252.9 467.1,252.9 467.1,252.8 467.1,252.7 467.1,252.7 467.1,252.6 467.1,252.5 467.1,252.4 467.1,252.4 467.1,252.3 467.2,252.2 467.2,252.2 467.2,252.1 467.3,252.1 467.3,252.0 467.4,252.0 469.1,250.7 469.1,250.7 469.2,250.7 469.3,250.6 469.3,250.6 469.4,250.6 469.5,250.6 469.5,250.6 469.6,250.6 469.7,250.6 469.8,250.6 469.8,250.7 469.9,250.7 469.9,250.7 470.0,250.8 470.1,250.8ZM354.9,236.3 354.9,236.3 354.8,236.3 354.8,236.3 354.7,236.2 354.7,236.2 354.6,236.1 354.5,236.1 354.5,236.0 354.5,236.0 354.4,235.9 354.4,235.8 354.4,235.7 354.4,235.7 354.4,235.6 354.4,235.5 354.4,235.4 354.4,235.4 354.5,235.3 354.5,235.2 354.5,235.2 354.6,235.1 354.6,235.1 354.7,235.0 354.7,235.0 354.9,234.9 354.9,234.9 355.0,234.8 358.7,233.7 361.1,231.1 362.3,228.1 362.4,228.1 362.4,228.0 362.4,227.9 364.8,225.0 364.9,224.9 364.9,224.9 365.0,224.8 368.0,223.0 369.3,220.5 369.3,220.5 369.3,220.5 369.8,218.7 369.8,218.7 369.8,218.6 369.9,218.5 369.9,218.5 370.0,218.4 370.0,218.4 370.1,218.3 370.1,218.3 370.2,218.3 373.7,216.8 373.8,216.8 373.8,216.7 374.9,216.5 375.0,216.5 377.7,215.5 377.8,215.5 380.3,214.5 380.4,214.4 380.4,214.4 380.5,214.4 380.6,214.4 380.6,214.4 380.7,214.4 380.8,214.4 380.8,214.5 380.9,214.5 382.8,215.4 382.8,215.5 382.9,215.5 382.9,215.5 383.0,215.6 384.6,217.3 384.6,217.3 386.4,219.4 386.4,219.4 388.5,221.5 388.5,221.5 391.0,223.6 391.0,223.6 393.4,225.7 393.4,225.7 395.5,227.4 395.6,227.5 395.6,227.5 395.6,227.6 395.7,227.6 396.6,229.2 396.6,229.2 396.6,229.2 397.1,229.8 397.2,229.9 397.2,230.0 397.3,230.0 397.3,230.1 397.4,230.2 398.5,228.8 399.1,227.2 398.7,226.8 398.7,226.7 398.6,226.7 398.6,226.6 398.6,226.5 398.6,226.5 398.5,226.4 398.5,226.3 398.5,226.2 398.5,226.2 398.6,226.1 398.6,226.0 398.6,226.0 398.6,225.9 398.7,225.8 398.7,225.8 398.8,225.7 398.8,225.7 399.8,225.0 399.8,224.9 399.9,224.9 400.0,224.8 400.0,224.8 400.1,224.8 400.2,224.8 400.3,224.8 400.3,224.8 400.4,224.8 401.6,225.1 401.6,224.2 399.3,223.2 399.2,223.1 399.2,223.1 397.1,221.7 397.1,221.7 395.0,219.9 395.0,219.9 392.9,218.2 392.9,218.2 391.1,216.4 391.1,216.4 389.5,214.7 389.4,214.6 389.4,214.6 389.3,214.5 389.3,214.5 388.8,213.1 388.7,213.0 388.7,213.0 388.7,212.9 388.7,212.8 388.7,212.8 388.7,212.7 388.7,212.6 388.8,212.6 388.8,212.5 389.3,211.5 389.3,211.5 389.3,211.4 389.4,211.4 389.4,211.3 389.5,211.3 389.5,211.2 389.6,211.2 389.7,211.2 391.5,210.5 392.5,209.7 392.6,209.6 392.6,209.6 392.7,209.5 392.8,209.5 392.8,209.5 392.9,209.5 393.0,209.5 393.1,209.5 393.1,209.5 393.2,209.5 393.3,209.5 393.3,209.6 393.4,209.6 393.5,209.6 393.5,209.7 393.6,209.7 393.6,209.8 393.6,209.9 393.7,209.9 393.7,210.0 393.7,210.1 393.7,210.1 393.7,210.2 393.7,210.3 393.7,210.4 393.7,210.4 393.7,210.5 393.7,210.6 393.6,210.6 393.6,210.7 392.8,211.7 394.5,213.4 394.5,213.4 396.3,215.1 396.3,215.1 398.4,216.9 400.5,218.7 400.5,218.7 402.5,220.0 402.6,220.1 402.6,220.1 402.7,220.2 403.6,221.4 403.7,221.4 403.7,221.5 403.7,221.6 403.8,221.7 403.8,221.7 404.0,223.3 404.0,223.3 404.4,225.0 405.8,226.8 405.8,226.8 407.2,228.9 408.6,231.0 408.6,231.1 409.7,233.1 411.3,234.1 412.2,233.2 412.1,232.4 412.1,232.3 412.1,232.3 412.1,232.2 412.1,232.1 412.1,232.1 412.1,232.0 412.1,231.9 412.2,231.9 412.2,231.8 412.3,231.7 412.3,231.7 412.4,231.6 412.4,231.6 412.5,231.6 412.6,231.5 412.7,231.5 413.4,231.4 414.0,230.4 412.8,229.5 412.8,229.4 412.7,229.4 412.6,229.3 412.6,229.2 412.0,228.0 412.0,228.0 411.3,226.5 411.3,226.5 411.2,226.4 411.2,226.3 411.2,226.3 411.2,226.2 411.2,226.1 411.2,226.1 411.3,226.0 411.3,225.9 411.3,225.9 411.9,224.9 411.9,224.8 412.0,224.8 412.0,224.7 412.1,224.7 412.1,224.6 412.2,224.6 413.2,224.1 413.3,224.1 413.3,224.0 413.4,224.0 413.5,224.0 413.5,224.0 413.6,224.0 413.7,224.0 413.7,224.0 413.8,224.1 415.2,224.6 416.3,223.7 416.4,223.7 416.5,223.6 416.5,223.6 416.6,223.6 416.7,223.6 416.7,223.6 416.8,223.5 418.3,223.5 419.5,222.7 419.5,222.6 419.6,222.6 419.7,222.5 419.7,222.5 419.8,222.5 419.9,222.5 420.0,222.5 420.0,222.5 420.1,222.5 421.0,222.7 421.0,222.7 421.1,222.7 421.2,222.8 421.2,222.8 421.3,222.9 421.3,222.9 421.4,223.0 421.4,223.0 421.5,223.1 421.5,223.2 421.5,223.2 421.5,223.3 421.5,223.4 421.5,223.5 421.5,223.5 421.5,223.6 421.5,223.7 421.5,223.8 421.4,223.8 421.4,223.9 421.3,223.9 421.3,224.0 420.7,224.5 420.2,227.5 422.0,231.1 424.5,233.0 428.8,233.6 432.3,233.0 432.4,233.0 432.5,233.0 432.6,233.0 432.7,233.0 436.2,233.8 439.6,233.0 439.6,233.0 439.7,233.0 439.8,233.0 439.8,233.0 439.9,233.0 440.0,233.0 440.0,233.0 441.5,233.7 441.6,233.7 441.6,233.7 441.7,233.8 441.7,233.8 441.8,233.9 441.8,234.0 441.9,234.0 441.9,234.1 441.9,234.2 441.9,234.2 441.9,234.3 441.9,234.4 441.9,234.5 441.9,234.5 441.3,236.9 441.3,236.9 441.3,236.9 441.2,240.0 441.2,240.0 441.3,248.7 441.3,248.8 441.3,248.9 441.2,248.9 441.2,249.0 441.2,249.1 441.2,249.1 441.1,249.2 441.1,249.3 441.0,249.3 441.0,249.4 440.9,249.4 440.8,249.4 440.8,249.5 440.7,249.5 440.6,249.5 440.5,249.5 440.5,249.5 440.4,249.5 440.3,249.5 440.3,249.4 440.2,249.4 440.1,249.4 438.9,248.6 436.2,248.0 431.2,248.6 431.2,248.7 425.1,248.9 425.0,248.9 424.9,248.9 418.9,248.0 418.7,270.0 418.7,270.0 418.7,270.0 419.1,272.4 419.1,272.5 419.1,272.5 419.1,272.6 418.7,277.0 418.7,277.1 418.7,277.2 418.7,277.2 418.6,277.3 418.6,277.4 418.6,277.4 418.5,277.5 418.5,277.5 418.4,277.6 418.3,277.6 418.3,277.6 418.2,277.7 418.1,277.7 418.1,277.7 418.0,277.7 417.9,277.7 417.8,277.7 417.8,277.7 417.7,277.6 396.4,269.1 396.6,269.7 396.7,269.7 396.7,269.8 396.7,269.9 396.7,270.0 396.7,270.0 396.7,270.1 396.6,270.2 396.6,270.2 396.6,270.3 396.5,270.4 396.5,270.4 396.4,270.5 396.4,270.5 396.3,270.6 396.2,270.6 396.2,270.6 396.1,270.6 396.0,270.6 396.0,270.6 395.9,270.6 395.8,270.6 395.7,270.6 390.4,269.1 390.3,269.0 390.3,269.0 390.2,269.0 390.1,268.9 390.1,268.9 390.0,268.8 390.0,268.8 389.9,268.7 389.9,268.6 389.9,268.6 389.9,268.5 389.9,268.4 389.9,268.3 389.9,268.2 386.9,265.8 386.8,265.7 386.7,265.6 384.5,262.8 384.4,262.7 384.4,262.7 384.3,262.6 384.3,262.6 384.3,262.5 384.3,262.4 384.3,262.4 384.3,262.3 384.3,262.2 384.8,258.8 384.3,253.8 383.9,250.6 383.9,250.6 383.9,250.5 383.9,250.4 383.9,250.4 383.9,250.3 383.9,250.2 384.0,250.2 384.0,250.1 384.1,250.0 384.1,250.0 384.2,249.9 384.3,249.9 384.3,249.9 386.0,246.9 386.1,246.8 386.1,246.8 386.1,246.7 387.9,245.0 386.9,243.4 386.9,243.3 386.8,243.2 386.8,243.2 386.8,243.1 386.8,243.0 386.8,242.9 386.8,242.9 387.3,239.4 386.2,237.2 386.1,237.1 386.1,237.0 386.1,237.0 386.1,236.9 386.1,236.8 386.1,236.7 386.1,236.7 386.7,233.9 384.4,232.7 381.3,233.6 381.2,233.7 381.2,233.7 381.1,233.7 381.0,233.8 381.0,233.8 380.9,233.8 380.8,233.8 380.7,233.8 380.7,233.8 380.6,233.8 380.0,233.7 372.5,233.9 372.5,234.0 365.0,235.1 359.1,238.1 359.1,238.1 359.0,238.2 358.9,238.2 358.8,238.2 358.8,238.2 358.7,238.2 358.6,238.2 358.5,238.1 358.5,238.1 354.9,236.3 354.9,236.3ZM433.5,371.3 433.5,371.3 433.5,371.4 433.5,371.5 433.4,371.5 433.4,371.6 433.3,371.6 433.3,371.7 433.2,371.7 433.2,371.8 433.1,371.8 433.0,371.8 433.0,371.8 432.9,371.9 432.8,371.9 432.7,371.9 432.7,371.8 432.0,371.7 432.0,371.7 431.9,371.7 431.8,371.7 431.8,371.6 431.7,371.6 431.7,371.5 431.6,371.5 431.6,371.4 431.5,371.4 431.5,371.3 431.5,371.2 431.4,371.2 431.4,371.1 431.4,371.0 431.4,370.9 431.4,370.9 431.5,370.8 431.5,370.7 431.5,370.7 431.5,370.6 431.6,370.5 431.6,370.5 431.7,370.4 431.7,370.4 431.8,370.3 431.9,370.3 431.9,370.3 432.0,370.3 432.8,370.1 432.8,370.1 432.9,370.1 433.0,370.1 433.0,370.1 433.1,370.1 433.2,370.1 433.3,370.1 433.3,370.2 433.4,370.2 433.4,370.3 433.5,370.3 433.5,370.4 433.6,370.4 433.6,370.5 433.6,370.6 433.7,370.6 433.7,370.7 433.7,370.8 433.7,370.8 433.7,370.9 433.7,371.0 433.6,371.1 433.6,371.1 433.6,371.2ZM421.0,375.0 421.1,375.0 421.2,375.0 421.2,375.0 421.3,375.1 421.4,375.1 421.4,375.2 421.5,375.2 421.5,375.3 421.6,375.3 421.6,375.4 421.6,375.5 421.6,375.5 421.7,375.6 421.7,375.7 421.7,375.7 421.7,375.8 421.7,375.9 421.6,376.0 421.6,376.0 421.6,376.1 421.5,376.1 421.5,376.2 421.5,376.3 421.0,376.7 421.0,376.7 420.9,376.8 420.8,376.8 420.8,376.9 420.7,376.9 420.6,376.9 420.6,376.9 420.5,376.9 420.4,376.9 420.4,376.9 420.3,376.9 420.2,376.9 420.1,376.8 419.0,376.3 418.9,376.2 418.9,376.2 418.8,376.1 418.8,376.1 418.7,376.0 418.7,376.0 418.7,375.9 418.6,375.8 418.6,375.8 418.6,375.7 418.6,375.6 418.6,375.5 418.6,375.5 418.6,375.4 418.6,375.3 418.7,375.3 418.7,375.2 418.8,375.1 418.8,375.1 418.9,375.0 418.9,375.0 419.0,374.9 419.1,374.9 419.1,374.9 419.2,374.9 419.3,374.9 419.3,374.9 420.0,374.9 420.1,374.9ZM409.4,399.2 409.4,399.3 409.4,399.4 409.4,399.5 409.4,399.5 409.4,399.6 409.4,399.7 409.3,399.8 409.3,399.8 409.2,399.9 409.2,399.9 409.1,400.0 409.1,400.0 409.0,400.1 409.0,400.1 408.9,400.1 408.8,400.1 408.7,400.1 408.7,400.1 408.5,400.1 408.4,400.1 408.4,400.1 408.3,400.1 408.2,400.1 408.2,400.1 408.1,400.0 408.0,400.0 408.0,399.9 407.9,399.9 407.9,399.8 407.9,399.8 407.8,399.7 407.8,399.6 407.8,399.6 407.8,399.5 407.8,399.4 407.8,399.4 407.8,399.3 407.8,398.8 407.8,398.8 407.9,398.7 407.9,398.6 407.9,398.6 408.0,398.5 408.0,398.4 408.1,398.4 408.1,398.3 408.2,398.3 408.3,398.3 408.3,398.2 408.4,398.2 408.5,398.2 408.6,398.2 408.6,398.2 408.7,398.2 408.8,398.2 408.8,398.3 408.9,398.3 409.0,398.3 409.0,398.4 409.1,398.4 409.1,398.5 409.2,398.5 409.2,398.6 409.3,398.7 409.3,398.7 409.3,398.8ZM391.4,342.8 391.4,342.7 391.4,342.6 391.4,342.6 391.5,342.5 391.5,342.5 391.5,342.4 391.6,342.3 391.7,342.3 391.7,342.3 391.8,342.2 391.8,342.2 391.9,342.2 393.6,341.8 393.7,341.8 393.8,341.8 393.8,341.8 393.9,341.8 394.0,341.8 394.5,341.9 394.5,342.0 394.6,342.0 394.7,342.0 394.7,342.1 394.8,342.1 394.8,342.2 394.9,342.2 394.9,342.3 394.9,342.4 395.0,342.4 395.0,342.5 395.0,342.6 395.0,342.7 395.0,342.7 395.0,342.8 395.0,342.9 394.9,342.9 394.9,343.0 394.9,343.1 394.8,343.1 394.8,343.2 394.7,343.2 394.7,343.3 394.6,343.3 394.5,343.4 394.5,343.4 394.4,343.4 392.2,343.8 392.1,343.8 392.0,343.8 392.0,343.8 391.9,343.8 391.8,343.8 391.7,343.7 391.7,343.7 391.6,343.6 391.5,343.6 391.5,343.5 391.4,343.5 391.4,343.4 391.4,343.4 391.3,343.3 391.3,343.2 391.3,343.1 391.3,343.1 391.3,343.0 391.3,342.9 391.3,342.8 391.3,342.8 391.4,342.8ZM346.4,302.0 346.4,302.1 346.5,302.1 346.5,302.2 346.5,302.3 346.6,302.3 346.6,302.4 346.6,302.5 346.6,302.6 346.6,302.6 346.6,302.7 346.5,302.8 346.5,302.8 346.5,302.9 346.4,303.0 346.4,303.0 346.3,303.1 346.3,303.1 346.2,303.2 346.1,303.2 346.1,303.2 344.8,303.6 344.7,303.7 344.6,303.7 344.6,303.7 344.5,303.7 344.4,303.7 344.3,303.7 344.3,303.6 344.2,303.6 344.1,303.6 344.1,303.5 344.0,303.5 344.0,303.4 343.9,303.4 343.9,303.3 343.9,303.2 343.8,303.2 343.8,303.1 343.8,303.0 343.8,303.0 343.8,302.9 343.8,302.8 344.1,301.2 344.1,301.2 344.1,301.1 344.1,301.0 344.2,301.0 344.2,300.9 344.2,300.8 344.3,300.8 344.4,300.7 344.4,300.7 344.5,300.7 344.5,300.6 344.6,300.6 344.7,300.6 344.8,300.6 344.8,300.6 344.9,300.6 345.0,300.6 345.1,300.6 345.1,300.7 345.2,300.7 345.2,300.7 345.3,300.8 345.4,300.8ZM671.8,344.5 671.8,346.8 672.9,347.2 673.2,344.1ZM658.6,337.0 659.3,338.5 664.2,338.9 663.5,337.4ZM657.3,328.0 658.4,331.2 659.6,329.8 659.1,325.4 657.6,324.7ZM640.2,189.8 641.7,192.8 646.0,197.1 646.1,197.2 646.1,197.2 646.2,197.3 647.9,200.5 647.9,200.5 650.2,203.8 650.2,203.8 653.0,207.1 653.0,207.1 655.4,209.7 657.2,209.5 655.7,208.3 655.7,208.3 652.5,206.0 652.4,205.9 652.4,205.9 652.4,205.8 652.3,205.8 651.1,204.0 651.1,203.9 651.0,203.8 651.0,203.8 651.0,203.7 651.0,203.6 651.0,203.5 651.0,203.5 651.0,203.4 651.0,203.3 651.0,203.3 651.1,203.2 651.1,203.1 651.1,203.1 651.2,203.0 651.2,203.0 651.3,202.9 651.4,202.9 651.4,202.9 651.5,202.8 651.6,202.8 651.6,202.8 651.7,202.8 651.8,202.8 651.9,202.8 651.9,202.8 652.0,202.8 652.9,201.8 651.9,200.7 651.9,200.7 650.3,199.2 650.3,199.2 645.0,193.0ZM653.2,337.8 653.5,338.9 656.7,338.7 656.5,337.5ZM646.5,355.7 647.7,356.6 651.2,354.9 651.4,354.2 651.4,354.1 651.5,354.1 651.5,354.0 651.5,354.0 651.6,353.9 651.6,353.9 651.7,353.8 651.8,353.8 651.8,353.7 654.7,352.6 655.3,351.7 652.6,352.4 652.5,352.4 652.4,352.4 652.3,352.4 652.3,352.4 652.2,352.4 652.2,352.4 650.5,352.8ZM636.8,286.3 638.1,289.7 638.1,289.7 638.7,290.9 638.7,290.9 638.8,291.0 638.8,291.1 638.8,291.1 638.8,291.2 638.8,291.3 638.8,291.4 638.8,291.4 638.7,291.5 638.7,291.6 638.7,291.6 638.6,291.7 638.6,291.7 638.5,291.8 638.5,291.8 638.4,291.9 638.3,291.9 638.3,291.9 638.2,291.9 639.9,296.1 639.9,296.2 640.0,296.2 640.0,296.3 640.0,296.4 640.0,296.4 640.0,296.5 639.9,296.6 639.9,296.6 639.9,296.7 639.9,296.8 639.8,296.8 639.8,296.9 639.7,296.9 639.7,297.0 640.3,299.9 641.8,299.6 641.9,299.6 641.9,299.6 641.9,299.5 642.0,299.5 642.1,299.5 642.2,299.5 642.2,299.5 642.3,299.5 642.4,299.5 642.5,299.6 642.5,299.6 642.6,299.6 642.6,299.7 642.7,299.7 642.7,299.8 642.8,299.9 642.8,299.9 642.8,300.0 642.9,300.1 643.4,302.3 645.1,303.9 645.2,304.0 645.2,304.0 645.2,304.1 646.5,306.5 646.6,306.6 646.6,306.7 646.6,306.8 646.6,306.8 646.6,306.9 646.6,307.0 646.6,307.0 646.6,307.1 646.6,307.2 646.5,307.3 646.5,307.3 646.5,307.4 646.4,307.4 646.3,307.5 646.3,307.5 646.2,307.6 646.2,307.6 643.5,308.7 644.3,311.1 646.7,311.1 646.8,311.1 646.9,311.1 646.9,311.1 647.0,311.1 647.1,311.1 647.1,311.2 649.6,312.9 649.6,312.9 652.2,314.5 653.7,312.1 652.9,307.8 651.2,305.1 651.2,305.1 651.2,305.2 651.1,305.2 651.1,305.3 651.0,305.3 651.0,305.3 649.5,306.1 649.4,306.1 649.4,306.1 649.3,306.1 649.2,306.2 649.1,306.2 649.1,306.1 649.0,306.1 648.9,306.1 648.9,306.1 648.8,306.1 648.7,306.0 648.7,306.0 648.6,305.9 648.6,305.9 648.5,305.8 648.5,305.8 648.5,305.7 648.4,305.6 648.4,305.6 648.1,304.0 648.1,303.9 648.1,303.9 648.1,303.8 648.1,303.7 648.1,303.6 648.1,303.6 648.2,303.5 648.2,303.4 648.3,303.4 648.3,303.3 648.4,303.3 648.4,303.2 648.5,303.2 648.5,303.2 648.6,303.2 648.6,303.1 649.3,302.9 649.4,302.9 649.5,302.9 649.5,302.9 649.6,302.9 649.7,302.9 649.8,302.9 649.8,302.9 649.9,302.9 650.0,303.0 650.0,303.0 650.1,303.1 651.2,304.1 651.2,304.2 651.2,304.2 652.3,300.9 651.2,297.0 648.4,296.4 648.4,296.4 648.3,296.5 648.3,296.5 648.2,296.6 648.2,296.6 648.1,296.7 648.1,296.7 648.0,296.7 647.9,296.8 647.9,296.8 647.8,296.8 647.7,296.8 647.6,296.8 647.6,296.8 647.5,296.8 647.4,296.7 646.1,296.2 646.0,296.2 645.9,296.1 645.9,296.1 645.8,296.0 642.5,292.7 642.4,292.6 642.4,292.5 642.3,292.5 640.7,289.2 640.6,289.1 640.6,289.1 640.6,289.0 640.6,288.9 640.6,288.8 640.6,288.8 640.6,288.7 640.6,288.6 641.7,285.4 640.6,281.5 637.3,282.0ZM637.3,337.7 638.1,343.8 640.1,343.8 639.7,341.3 639.7,341.3 639.7,341.2 639.7,341.1 639.7,341.1 640.2,338.5 640.2,338.5 640.2,338.4 640.3,338.3 640.3,338.3 640.4,338.2 640.4,338.1 640.5,338.1 640.5,338.1 640.6,338.0 640.7,338.0 640.7,338.0 640.8,337.9 640.9,337.9 640.9,337.9 641.0,337.9 641.1,338.0 641.2,338.0 641.2,338.0 641.3,338.0 641.4,338.1 641.4,338.1 641.5,338.2 641.5,338.2 641.6,338.3 641.6,338.4 642.5,340.3 642.5,340.3 642.5,340.3 645.1,343.7 646.7,342.1 645.0,337.8 644.9,337.7 644.2,334.7 644.2,334.6 644.2,334.6 644.2,334.5 644.2,334.4 644.2,334.3 644.2,334.3 644.2,334.2 644.2,334.1 644.3,334.1 644.3,334.0 644.4,334.0 644.4,333.9 644.5,333.9 644.6,333.8 647.4,332.4 644.6,331.1 644.6,331.1 644.5,331.0 644.4,331.0 644.4,330.9 644.3,330.9 644.3,330.8 644.3,330.7 644.2,330.7 644.2,330.6 644.2,330.5 644.2,330.4 644.2,330.4 644.2,330.3 644.2,330.2 644.3,330.1 644.3,330.1 644.3,330.0 644.4,330.0 644.4,329.9 644.5,329.8 644.5,329.8 644.6,329.8 644.7,329.7 644.7,329.7 646.8,329.1 646.9,329.1 651.4,327.0 651.2,325.5 646.1,327.2 646.0,327.2 646.0,327.3 640.8,328.1 640.0,330.6 639.9,330.6 639.9,330.7 639.9,330.7 638.1,333.4ZM638.8,351.6 639.0,352.7 645.4,352.1 645.0,351.2ZM632.4,307.6 633.2,307.8 637.0,302.6 637.0,302.6 637.0,302.6 637.7,300.9 636.4,301.6ZM614.4,328.9 615.7,333.2 615.7,333.3 617.8,337.6 623.0,338.4 623.0,338.5 623.1,338.5 627.4,340.2 630.9,338.5 633.5,334.1 634.3,329.9 634.3,329.8 634.4,329.8 634.4,329.7 634.4,329.6 634.5,329.6 636.6,327.1 635.3,322.8 635.2,322.7 634.4,318.7 634.4,318.6 634.4,318.6 634.4,318.5 634.4,318.4 634.4,318.4 634.5,318.3 634.5,318.2 634.5,318.2 634.6,318.1 634.6,318.0 634.7,318.0 634.7,318.0 636.9,316.5 635.3,314.8 635.3,314.8 635.3,314.8 631.8,312.3 628.4,316.6 628.4,316.6 623.2,321.8 623.1,321.9 623.1,321.9 623.0,322.0 623.0,322.0 616.9,324.6 615.2,326.3ZM632.0,351.9 632.3,353.1 636.6,352.6 636.2,351.2ZM606.4,345.8 608.1,349.1 614.2,350.9 614.2,350.9 614.2,350.9 621.2,351.6 621.2,351.7 627.3,352.5 628.1,351.1 623.8,349.3 623.8,349.3 617.7,346.6 617.7,346.6 617.7,346.6 610.6,345.3ZM610.0,278.4 610.2,280.9 612.3,281.7 614.0,279.2 612.4,277.6ZM582.6,316.6 584.2,319.1 584.2,319.1 587.8,323.5 587.8,323.5 592.2,329.7 596.6,335.8 596.6,335.8 601.0,341.1 601.0,341.1 604.5,344.6 607.0,343.8 607.8,339.5 606.1,335.2 601.7,329.9 597.3,324.6 597.3,324.6 592.0,319.3 592.0,319.3 592.0,319.3 586.8,315.8ZM589.9,141.0 590.4,141.6 595.5,142.4 596.2,141.4ZM573.8,140.0 574.5,141.2 579.7,141.5 579.7,141.6 586.7,141.8 587.4,140.9 579.7,139.7 579.7,139.7 579.7,139.7ZM546.4,308.1 547.0,311.8 548.2,313.8 549.9,313.7 551.0,311.2 550.5,307.6 548.7,304.6 547.0,305.1ZM511.3,133.9 512.0,134.9 516.2,135.3 516.9,134.3ZM493.7,130.8 496.1,132.4 503.0,133.1 507.9,133.5 506.5,132.1 499.5,129.9ZM461.0,390.0 461.5,391.8 461.5,391.9 462.0,394.3 462.2,394.5 462.3,394.5 462.3,394.6 462.4,394.6 462.4,394.7 462.4,394.8 462.4,394.8 462.6,395.4 463.3,395.5 463.4,395.5 463.4,395.5 463.5,395.6 463.6,395.6 463.6,395.7 464.4,396.3 465.6,396.0 465.6,396.0 465.7,396.0 465.8,396.0 465.8,396.0 465.9,396.0 466.2,396.0 466.3,395.9 466.4,395.8 466.4,395.8 466.5,395.8 466.6,395.7 466.6,395.7 467.4,395.5 468.7,393.6 468.7,393.6 468.8,393.5 469.9,392.4 473.7,383.8 473.7,383.7 476.9,375.0 476.9,375.0 476.9,375.0 478.0,367.5 476.1,361.4 474.6,362.6 472.1,367.5 472.1,367.6 469.7,371.4 469.6,371.5 469.6,371.6 469.5,371.6 469.4,371.7 469.4,371.7 465.1,373.9 463.9,377.5 463.9,377.6 461.3,385.0 461.2,388.9 461.2,388.9 461.2,389.0ZM446.7,146.1 448.4,148.6 451.8,150.0 456.0,150.3 454.7,149.8 454.6,149.8 454.6,149.8 454.5,149.7 454.5,149.7 454.4,149.6 454.4,149.6 454.3,149.5 454.3,149.5 454.3,149.4 452.7,145.6 452.7,145.6 452.7,145.5 452.7,145.4 452.7,145.3 452.7,145.3 452.7,145.2 452.7,145.1 452.7,145.1 452.7,145.0 452.8,144.9 452.8,144.9 452.9,144.8 456.0,141.7 456.0,141.7 456.1,141.6 456.2,141.6 456.2,141.5 456.3,141.5 462.3,139.8 462.4,139.8 466.6,138.2 462.4,138.0 462.4,138.0 462.4,138.0 455.3,139.1 449.3,141.8ZM396.0,230.9 395.1,230.3 392.6,230.4 392.6,230.5 390.1,230.9 391.0,232.1 393.0,232.8 395.0,233.4 395.7,232.4ZM427.5,130.8 428.8,131.8 434.9,131.3 434.9,130.4ZM414.4,237.0 414.6,237.7 417.3,238.3 419.6,238.2 419.4,237.6 416.6,237.2 416.6,237.2ZM378.1,132.5 381.4,135.8 383.5,136.5 383.6,136.5 383.7,136.6 383.7,136.6 383.8,136.7 383.8,136.7 383.9,136.8 383.9,136.8 386.9,137.6 388.6,137.1 388.7,137.1 391.0,136.7 393.4,133.4 393.5,133.4 393.5,133.3 393.5,133.3 393.5,133.3 393.4,133.2 393.4,133.2 393.3,133.2 391.0,131.2 390.7,131.2 390.6,131.2 390.5,131.2 390.4,131.2 390.4,131.2 390.3,131.1 390.2,131.1 390.2,131.1 390.1,131.0 390.1,131.0 390.0,130.9 390.0,130.9 389.9,130.8 389.9,130.7 389.9,130.7 389.9,130.6 389.9,130.5 389.9,130.4 389.9,129.5 385.0,129.0 382.1,130.1 382.4,131.1 382.4,131.2 382.4,131.3 382.4,131.3 382.4,131.4 382.4,131.5 382.3,131.6 382.3,131.6 382.3,131.7 382.2,131.8 382.2,131.8 382.1,131.9 382.1,131.9 382.0,132.0 381.9,132.0 381.9,132.0 381.8,132.0 381.7,132.1ZM394.3,133.2 394.3,133.2 394.4,133.2 394.5,133.3 394.5,133.3 394.6,133.4 394.6,133.4 394.7,133.5 394.7,133.6 394.7,133.6 394.7,133.7 394.8,133.8 395.1,136.1 398.0,136.3 398.6,132.1 394.6,132.6 394.6,132.7 394.5,132.7 394.5,132.8 394.5,132.9 394.5,132.9 394.4,133.0 394.4,133.1 394.4,133.1 394.3,133.2ZM380.5,223.4 380.7,226.2 381.5,227.8 383.0,227.8 383.6,226.2 383.4,223.8 382.1,223.2ZM381.2,218.9 381.5,221.4 382.5,221.4 382.7,219.5 382.3,218.0ZM351.7,181.2 352.0,184.3 353.9,187.4 353.9,187.5 355.0,189.6 355.0,189.6 355.0,189.7 355.0,189.8 355.0,189.8 355.0,189.9 355.0,190.0 355.0,190.0 355.0,190.1 355.0,190.2 354.9,190.2 354.9,190.3 354.9,190.4 354.8,190.4 353.3,191.9 355.3,193.4 355.4,193.4 355.4,193.5 355.4,193.5 355.5,193.6 355.5,193.7 355.6,193.7 355.6,193.8 355.6,193.9 355.6,194.0 355.6,194.0 355.6,194.1 355.6,194.2 355.5,194.2 355.5,194.3 354.6,196.2 354.5,196.3 352.8,198.8 356.2,198.0 356.2,198.0 360.6,196.8 360.6,196.8 364.9,195.5 366.0,193.1 363.0,190.7 363.0,190.7 360.5,188.3 360.5,188.2 360.5,188.2 360.4,188.1 358.7,185.1 356.4,183.5 356.3,183.5 356.3,183.4 356.2,183.4 356.2,183.3 356.1,183.3 356.1,183.2 356.1,183.1 356.1,183.0 356.1,183.0 356.1,182.9 356.1,182.8 356.1,182.7 356.1,182.7 356.1,182.6 356.2,182.5 357.3,180.6 356.8,178.3 352.6,178.9ZM344.0,190.7 344.5,195.0 348.0,194.3 350.9,191.8 351.7,188.9 350.0,187.4 346.3,188.2ZM321.5,161.6 322.3,164.1 324.9,166.2 330.1,166.2 330.1,166.1 330.1,166.1 336.2,165.0 338.7,162.4 337.1,160.5 332.0,161.1 331.9,161.1 331.8,161.1 325.7,160.5ZM166.2,302.9 167.6,304.4 170.0,305.6 170.1,305.7 170.1,305.7 170.2,305.7 171.9,307.4 173.0,306.9 173.1,306.8 173.2,306.8 173.2,306.8 173.3,306.8 173.4,306.8 173.4,306.8 173.5,306.8 173.6,306.8 173.7,306.9 173.7,306.9 173.8,306.9 173.8,307.0 173.9,307.0 173.9,307.1 174.0,307.1 174.0,307.2 174.5,308.1 176.2,309.9 178.0,309.4 179.6,307.4 179.7,307.4 179.7,307.3 179.8,307.3 179.8,307.3 179.9,307.2 180.0,307.2 180.0,307.2 180.1,307.2 180.2,307.2 180.3,307.2 180.3,307.2 180.4,307.2 180.5,307.2 182.4,308.0 182.5,308.0 182.6,308.1 182.6,308.1 182.7,308.2 184.4,309.8 184.4,309.9 184.4,310.0 184.5,310.0 184.5,310.1 184.5,310.2 184.6,310.2 184.6,310.3 185.1,315.7 185.1,315.8 185.1,315.9 184.6,320.0 184.6,320.0 184.5,320.1 184.5,320.2 184.5,320.2 184.5,320.3 184.4,320.3 182.0,323.3 181.4,325.7 181.4,325.7 181.4,325.8 181.5,325.8 181.6,325.9 181.6,325.9 181.6,326.0 181.7,326.0 181.7,326.1 181.7,326.2 181.7,326.3 181.7,326.3 181.7,326.4 181.7,326.5 181.7,326.5 181.7,326.6 181.7,326.7 181.6,326.7 181.6,326.8 181.6,326.9 181.5,326.9 181.5,327.0 178.4,329.3 176.7,332.7 177.5,336.9 177.5,337.0 177.5,337.0 177.5,337.1 177.5,337.2 177.5,337.3 177.5,337.3 175.8,341.5 176.6,345.0 179.2,348.5 179.2,348.6 182.8,354.7 182.8,354.7 186.3,360.9 186.3,361.0 189.0,367.0 193.4,370.6 193.4,370.6 199.6,375.0 199.6,375.0 202.9,376.9 202.9,376.9 203.0,377.0 203.0,377.0 203.1,377.1 203.1,377.1 203.1,377.2 203.2,377.3 203.2,377.3 203.2,377.4 203.2,377.5 204.0,385.6 204.0,385.6 204.9,396.1 204.9,396.3 204.4,406.8 204.4,406.8 204.4,406.8 205.4,417.3 205.4,417.4 205.4,417.5 204.4,428.0 206.1,435.0 206.2,435.1 207.5,442.9 209.1,444.5 209.1,444.5 209.2,444.6 209.2,444.7 209.3,444.7 209.3,444.8 209.3,444.9 209.3,445.0 209.3,445.0 209.3,445.1 208.5,451.0 210.6,454.3 210.7,454.4 210.7,454.4 210.7,454.5 210.8,454.6 210.8,454.6 211.4,459.7 214.6,465.0 219.9,469.4 226.8,472.1 226.9,472.1 233.0,473.4 236.7,471.8 232.1,469.7 232.0,469.6 231.9,469.6 227.7,466.2 227.6,466.1 227.6,466.1 227.5,466.0 226.0,463.6 226.0,463.5 225.9,463.5 225.9,463.4 225.9,463.3 225.9,463.3 225.9,463.2 225.9,463.1 225.9,463.0 226.6,458.9 226.7,458.9 226.7,458.8 228.1,455.4 226.0,453.8 225.9,453.7 225.9,453.7 225.8,453.6 224.4,451.5 224.3,451.4 224.3,451.4 224.3,451.3 224.2,451.2 224.2,451.1 224.2,451.1 224.2,451.0 224.2,450.9 224.3,450.9 224.3,450.8 224.3,450.7 224.3,450.7 224.4,450.6 224.4,450.5 226.6,448.3 225.1,445.2 225.1,445.1 225.1,445.0 225.0,444.9 225.0,444.9 225.0,444.8 225.0,444.7 225.1,444.7 225.1,444.6 225.1,444.5 225.1,444.4 227.5,440.4 226.2,437.5 226.2,437.5 226.1,437.4 226.1,437.3 226.1,437.3 226.1,437.2 226.1,437.1 226.1,437.0 226.2,437.0 226.2,436.9 226.2,436.8 226.3,436.8 226.3,436.7 226.4,436.7 226.4,436.6 226.5,436.6 226.6,436.5 226.6,436.5 226.7,436.5 229.4,435.9 231.1,431.7 231.1,431.7 231.1,431.6 231.2,431.5 231.2,431.5 231.3,431.4 231.3,431.4 231.4,431.3 231.5,431.3 231.5,431.3 237.3,429.7 239.9,426.2 239.2,421.4 239.2,421.3 239.2,421.3 239.2,421.2 239.3,421.1 239.3,421.0 239.3,421.0 239.3,420.9 239.4,420.9 239.4,420.8 239.5,420.7 239.5,420.7 239.6,420.7 239.7,420.6 239.7,420.6 239.8,420.6 239.9,420.6 239.9,420.5 240.0,420.5 240.1,420.5 240.1,420.6 240.2,420.6 241.9,421.1 245.3,420.0 247.1,416.5 247.1,416.4 249.7,412.0 249.7,412.0 252.4,407.6 252.4,407.6 252.4,407.6 254.1,402.5 254.1,402.5 254.1,402.5 254.9,396.4 254.9,396.4 255.0,396.3 255.0,396.2 255.0,396.1 255.1,396.1 258.4,391.9 258.4,391.9 258.5,391.8 258.5,391.8 258.6,391.8 258.7,391.7 258.7,391.7 263.9,390.0 269.1,388.2 271.8,382.9 271.8,382.9 271.8,382.9 274.0,376.0 273.6,370.8 273.6,370.7 273.6,370.7 273.6,370.6 274.3,366.4 274.3,366.3 274.4,366.3 274.4,366.2 274.4,366.1 278.0,360.0 278.0,360.0 281.5,354.7 282.8,348.6 280.6,343.4 276.2,340.7 276.2,340.7 271.0,338.1 264.0,337.3 264.0,337.3 263.9,337.2 263.8,337.2 263.7,337.2 263.7,337.1 260.3,334.6 253.3,332.0 253.2,331.9 248.2,329.5 248.1,329.4 248.0,329.4 248.0,329.3 247.9,329.3 247.9,329.2 247.8,329.1 247.8,329.1 247.8,329.0 247.1,326.5 247.1,326.5 245.3,320.4 242.8,319.6 241.6,323.4 241.6,323.5 241.5,323.6 241.5,323.6 241.5,323.7 241.4,323.7 241.4,323.8 241.3,323.8 241.2,323.9 241.2,323.9 241.1,323.9 241.0,324.0 241.0,324.0 240.9,324.0 240.8,324.0 240.8,324.0 238.3,323.5 238.2,323.5 238.2,323.5 238.1,323.5 238.0,323.4 238.0,323.4 237.9,323.3 237.9,323.3 237.8,323.2 237.8,323.2 237.8,323.1 237.7,323.0 237.7,323.0 237.7,322.9 237.7,322.8 237.7,322.7 238.1,316.0 234.8,314.7 231.0,315.9 230.9,315.9 230.9,315.9 230.8,315.9 230.7,315.9 230.6,315.9 230.6,315.9 230.5,315.9 230.4,315.8 230.4,315.8 230.3,315.7 230.3,315.7 230.2,315.6 230.2,315.6 230.1,315.5 230.1,315.5 230.1,315.4 229.4,313.4 226.0,309.0 222.6,312.5 223.1,317.7 223.1,317.7 223.2,317.7 223.2,317.8 223.2,317.9 223.2,317.9 223.2,318.0 223.2,318.1 223.2,318.2 223.2,318.2 223.2,318.3 223.1,318.4 223.1,318.4 223.1,318.5 223.0,318.5 223.0,318.6 222.9,318.6 222.8,318.7 222.8,318.7 222.7,318.7 222.6,318.7 222.6,318.8 222.5,318.8 222.4,318.8 222.3,318.7 218.0,317.9 214.7,320.4 215.5,324.3 215.5,324.3 215.5,324.4 215.5,324.5 215.5,324.5 215.4,324.6 215.4,324.7 215.4,324.7 215.4,324.8 215.3,324.9 215.3,324.9 215.2,325.0 215.2,325.0 215.1,325.0 211.2,327.4 211.2,327.4 211.1,327.4 211.0,327.5 210.9,327.5 210.9,327.5 210.8,327.5 210.7,327.5 210.7,327.5 210.6,327.5 208.3,326.6 208.3,326.6 208.3,326.6 205.9,326.2 205.8,326.2 205.8,326.2 205.7,326.2 205.6,326.1 205.6,326.1 205.5,326.0 205.5,326.0 205.4,325.9 205.4,325.9 205.4,325.8 205.3,325.7 205.3,325.7 205.3,325.6 205.3,325.5 205.3,325.4 205.3,325.4 205.3,325.3 205.3,325.2 205.4,325.2 205.4,325.1 205.5,325.0 205.5,325.0 207.3,323.2 206.8,320.3 206.8,320.2 206.8,320.2 206.8,320.1 206.8,320.0 206.8,320.0 206.8,319.9 207.9,317.0 207.4,314.0 203.8,312.8 203.7,312.7 200.0,311.0 200.0,311.0 199.9,310.9 199.9,310.9 199.8,310.8 196.9,307.8 196.8,307.7 196.8,307.7 196.7,307.6 196.7,307.5 195.6,304.2 195.5,304.1 195.5,304.1 195.5,304.0 195.5,303.9 195.5,303.9 195.5,303.8 195.6,303.7 195.6,303.6 195.6,303.6 197.3,300.8 197.4,300.7 197.4,300.7 199.5,298.3 198.1,297.8 195.2,300.2 195.1,300.2 195.1,300.2 195.0,300.3 194.9,300.3 191.3,301.5 187.6,304.0 185.4,307.3 185.4,307.3 185.3,307.4 185.3,307.4 185.2,307.5 185.1,307.5 185.1,307.5 185.0,307.6 184.9,307.6 184.9,307.6 184.8,307.6 184.7,307.6 184.7,307.6 184.6,307.6 184.5,307.5 184.4,307.5 184.4,307.5 184.3,307.4 184.3,307.4 184.2,307.3 183.0,305.9 180.6,305.0 178.3,306.5 178.2,306.5 178.1,306.5 178.0,306.6 175.8,307.1 175.8,307.1 175.7,307.1 175.6,307.1 175.6,307.1 175.5,307.1 175.4,307.1 175.3,307.0 173.1,305.9 173.0,305.9 172.9,305.9 172.9,305.8 172.8,305.8 172.8,305.7 172.7,305.6 172.7,305.6 172.7,305.5 172.6,305.4 172.4,304.0 170.5,301.1 168.1,300.7 166.3,301.5ZM231.7,381.3 230.5,381.2 230.4,381.2 230.3,381.2 230.3,381.2 230.2,381.1 230.1,381.1 230.1,381.1 230.0,381.0 230.0,380.9 229.9,380.9 229.9,380.8 229.9,380.8 229.8,380.7 229.8,380.6 229.8,380.5 229.8,380.5 229.8,380.4 229.8,380.3 229.8,380.3 229.9,380.2 229.9,380.1 229.9,380.1 230.0,380.0 230.0,379.9 230.1,379.9 230.2,379.8 230.2,379.8 230.3,379.8 230.4,379.8 230.4,379.7 232.1,379.4 232.2,379.4 232.2,379.4 232.3,379.4 232.4,379.4 232.4,379.4 232.5,379.5 232.6,379.5 232.6,379.5 232.7,379.6 232.8,379.6 232.8,379.7 232.8,379.8 234.1,381.7 234.1,381.7 234.2,381.8 234.2,381.9 234.2,381.9 234.2,382.0 234.2,382.1 234.2,382.2 234.2,382.2 234.2,382.3 234.2,382.4 234.1,382.4 234.1,382.5 234.0,382.6 234.0,382.6 233.9,382.7 233.9,382.7 233.8,382.7 233.8,382.8 233.7,382.8 233.6,382.8 233.5,382.8 233.5,382.8 233.4,382.8 233.3,382.8 233.2,382.8 233.2,382.8 233.1,382.7 233.0,382.7 233.0,382.6 232.9,382.6ZM206.5,139.1 208.9,140.8 215.0,141.4 215.0,141.4 220.0,141.9 220.0,142.0 221.8,142.0 221.9,142.1 221.9,142.1 222.0,142.1 222.1,142.1 222.1,142.1 222.2,142.2 222.2,142.2 222.3,142.3 222.5,142.5 231.1,142.9 231.2,142.8 231.3,142.8 231.3,142.7 231.4,142.7 231.4,142.6 231.5,142.6 231.6,142.6 231.6,142.5 231.7,142.5 231.8,142.5 231.9,142.5 235.0,142.6 235.0,142.6 235.0,142.6 239.8,142.0 239.8,141.9 239.8,141.9 239.8,141.8 239.8,141.7 239.8,141.6 239.9,141.6 239.9,141.5 239.9,141.4 240.0,141.4 240.0,141.3 240.1,141.3 240.1,141.2 240.2,141.2 240.3,141.2 240.3,141.1 240.4,141.1 240.5,141.1 245.0,140.8 245.0,140.8 245.0,140.8 249.9,139.5 251.0,137.2 249.3,136.9 249.2,136.9 249.2,136.8 249.1,136.8 249.0,136.8 249.0,136.7 248.9,136.7 248.9,136.6 248.8,136.6 248.8,136.5 248.8,136.4 248.7,136.4 248.7,136.3 248.7,136.2 248.7,136.1 248.7,136.1 248.7,136.0 248.7,135.9 248.8,135.9 248.8,135.8 248.8,135.7 248.9,135.7 248.9,135.6 249.0,135.6 249.0,135.5 250.5,134.5 250.6,134.5 250.7,134.5 250.8,134.4 261.3,131.9 271.8,129.2 271.9,129.2 276.5,127.3 268.3,126.9 268.3,126.9 256.0,127.6 250.7,128.0 250.6,128.0 250.5,128.0 250.4,128.0 250.4,128.0 250.3,128.0 250.2,127.9 250.2,127.9 250.1,127.9 250.1,127.8 250.0,127.8 250.0,127.7 249.9,127.6 249.9,127.6 249.9,127.5 249.9,127.4 249.9,127.4 249.8,127.3 249.8,127.3 240.0,128.5 231.2,129.7 231.2,129.7 231.2,129.7 225.2,131.6 225.2,131.6 225.2,131.7 225.3,131.7 225.3,131.8 225.3,131.9 225.3,131.9 225.3,132.0 226.0,135.4 227.0,135.9 227.0,135.9 227.1,135.9 227.2,136.0 227.2,136.0 227.2,136.1 227.3,136.2 227.3,136.2 227.4,136.3 227.4,136.4 227.4,136.4 227.4,136.5 227.4,136.6 227.4,136.6 227.4,136.7 227.4,136.8 227.3,136.8 227.3,136.9 227.3,137.0 227.2,137.0 227.2,137.1 227.1,137.1 227.0,137.2 227.0,137.2 226.9,137.2 225.1,137.9 225.1,138.0 225.1,138.0 225.0,138.1 225.0,138.1 225.0,138.2 224.9,138.3 224.8,138.3 224.8,138.3 224.7,138.4 224.6,138.4 224.6,138.4 224.5,138.4 223.9,138.5 223.8,138.5 223.8,138.5 223.7,138.5 223.6,138.5 223.6,138.5 220.0,137.2 219.9,137.2 216.2,135.6 211.2,135.2 207.1,136.6 207.8,137.7 207.8,137.7 207.9,137.8 207.9,137.9 207.9,138.0 207.9,138.0 207.9,138.1 207.9,138.2 207.9,138.3 207.9,138.3 207.8,138.4 207.8,138.5 207.8,138.5 207.7,138.6 207.6,138.6 207.6,138.7 207.5,138.7 207.5,138.8 207.4,138.8ZM46.0,187.9 50.0,187.1 50.0,187.1 58.7,184.7 58.8,184.7 67.4,181.1 67.5,181.1 72.4,179.3 72.4,179.3 79.9,176.4 79.9,176.4 84.9,173.7 84.9,173.7 85.0,173.6 88.6,172.4 88.6,172.4 88.7,172.4 88.8,172.4 88.9,172.4 88.9,172.4 89.0,172.4 92.5,173.3 94.8,173.0 94.9,173.0 95.0,173.0 95.0,173.0 95.1,173.0 95.2,173.0 100.0,174.6 103.9,173.9 104.0,173.9 104.0,173.9 104.1,173.9 104.2,173.9 104.2,174.0 104.3,174.0 104.4,174.0 104.4,174.1 104.5,174.1 104.6,174.2 104.6,174.2 104.7,174.3 104.7,174.3 104.7,174.4 105.1,175.5 110.0,176.0 110.0,176.0 110.0,176.0 111.9,175.9 112.0,175.9 112.1,175.9 112.2,175.9 112.2,175.9 112.3,176.0 112.4,176.0 112.4,176.0 112.5,176.1 112.5,176.1 112.6,176.2 112.6,176.3 112.7,176.3 112.7,176.4 112.7,176.5 112.7,176.5 113.2,179.9 113.2,180.0 113.2,180.0 113.2,180.1 112.7,183.7 114.3,184.5 114.4,184.5 114.4,184.6 114.5,184.6 114.5,184.7 114.6,184.7 114.6,184.8 114.7,184.9 114.7,184.9 114.7,185.0 114.7,185.1 114.7,185.2 114.7,185.2 114.7,185.3 114.7,185.4 114.7,185.5 114.6,185.5 114.6,185.6 114.6,185.6 114.5,185.7 113.3,186.9 113.3,187.0 113.2,187.0 113.1,187.0 113.1,187.1 113.0,187.1 111.4,187.6 111.4,192.4 111.3,192.4 111.3,192.5 111.3,192.6 111.3,192.6 111.3,192.7 110.2,195.0 111.3,198.0 113.8,199.8 113.8,199.8 113.9,199.9 113.9,199.9 114.0,200.0 114.0,200.1 115.0,202.1 115.0,202.2 115.0,202.3 115.1,202.3 115.1,202.4 115.1,202.5 115.1,202.6 115.0,202.6 115.0,202.7 115.0,202.8 115.0,202.8 114.9,202.9 114.9,203.0 114.8,203.0 114.8,203.1 114.7,203.1 114.6,203.1 114.6,203.2 114.5,203.2 114.4,203.2 114.3,203.2 114.3,203.2 114.2,203.2 114.1,203.2 114.1,203.2 114.0,203.1 113.9,203.1 113.9,203.1 113.8,203.0 111.1,206.4 111.1,206.4 107.3,212.2 107.2,212.2 107.2,212.3 107.1,212.3 107.1,212.4 103.2,215.1 100.7,220.1 100.7,220.1 99.0,224.4 99.5,228.7 99.5,228.8 99.5,228.9 99.2,233.8 100.7,238.7 103.8,241.0 103.9,241.1 103.9,241.1 103.9,241.2 104.0,241.2 105.7,243.8 105.7,243.9 105.7,243.9 105.7,244.0 105.8,244.1 105.8,244.1 106.3,249.4 106.3,249.4 106.3,249.4 107.9,253.6 107.9,253.6 107.9,253.7 107.9,253.8 107.9,253.9 107.9,253.9 107.9,254.0 107.1,257.5 109.1,259.9 109.1,260.0 111.1,262.9 111.1,263.0 111.1,263.0 111.2,263.1 111.2,263.2 111.6,265.5 114.5,268.0 114.5,268.0 114.5,268.0 115.9,269.6 116.0,268.1 113.9,263.9 113.8,263.8 112.1,258.9 110.5,254.5 110.5,254.4 109.3,250.7 109.3,250.6 109.2,250.6 108.9,248.0 108.9,247.9 108.9,247.8 108.9,247.8 108.9,247.7 109.0,247.6 109.0,247.6 109.0,247.5 109.1,247.4 109.1,247.4 109.1,247.3 109.2,247.3 109.3,247.3 109.3,247.2 109.4,247.2 110.2,246.9 110.2,246.9 110.3,246.9 110.4,246.9 110.5,246.9 110.5,246.9 110.6,246.9 110.7,246.9 110.7,246.9 110.8,247.0 110.9,247.0 110.9,247.1 111.0,247.1 112.8,249.2 112.9,249.3 112.9,249.3 113.0,249.4 113.0,249.5 114.5,253.7 114.5,253.8 117.0,258.7 117.0,258.7 119.5,263.0 119.5,263.0 124.5,271.8 124.5,271.8 124.5,271.9 124.6,271.9 125.1,274.2 125.1,274.2 125.1,274.3 125.1,274.4 125.1,274.4 125.1,274.5 125.1,274.6 125.0,274.7 124.0,276.9 125.7,279.9 130.1,283.0 130.1,283.0 132.6,284.4 132.6,284.4 137.6,286.9 137.6,286.9 142.5,288.7 147.3,288.1 147.3,288.1 147.4,288.1 147.5,288.1 147.6,288.1 147.6,288.1 147.7,288.2 147.8,288.2 151.3,290.5 151.4,290.6 151.4,290.6 151.5,290.7 151.5,290.7 151.6,290.8 151.6,290.8 151.6,290.9 151.6,290.9 153.9,292.9 156.7,293.0 156.7,293.0 156.8,293.1 156.9,293.1 156.9,293.1 157.0,293.1 157.1,293.2 157.1,293.2 157.2,293.3 158.2,294.4 160.6,295.3 162.7,295.0 162.7,295.0 162.8,294.9 162.8,294.9 162.9,294.8 163.0,294.8 163.0,294.8 163.1,294.7 163.2,294.7 163.3,294.7 163.3,294.7 163.4,294.7 163.5,294.8 163.5,294.8 163.6,294.8 163.7,294.8 163.8,294.9 166.1,293.8 169.9,291.9 169.9,291.9 172.9,290.1 171.1,288.3 166.2,288.2 166.2,288.2 166.2,288.2 162.8,288.8 162.7,288.8 162.6,288.8 162.5,288.8 162.5,288.8 162.4,288.7 162.3,288.7 162.3,288.7 162.2,288.7 162.1,288.6 162.1,288.6 162.0,288.5 162.0,288.4 162.0,288.4 161.9,288.3 161.9,288.2 161.9,288.2 161.9,288.1 161.9,288.0 161.9,287.9 161.9,287.9 161.9,287.8 161.9,287.7 163.3,284.5 162.8,282.7 162.8,282.6 162.8,282.5 162.8,282.5 162.8,282.4 162.8,282.3 162.8,282.2 162.9,282.2 162.9,282.1 162.9,282.1 163.0,282.0 163.7,281.1 164.8,277.5 164.9,277.4 164.9,277.4 166.7,273.9 163.1,273.9 160.1,274.9 158.2,277.0 158.2,277.0 155.2,280.0 155.2,280.0 155.1,280.1 155.1,280.1 155.0,280.1 154.9,280.2 154.9,280.2 150.2,281.3 150.1,281.3 150.1,281.3 150.0,281.3 149.9,281.3 149.9,281.3 149.8,281.3 146.3,280.2 146.3,280.2 146.2,280.1 146.1,280.1 146.1,280.1 146.0,280.0 146.0,279.9 143.7,277.1 143.7,277.0 143.7,276.9 143.6,276.9 142.1,272.7 142.1,272.6 142.1,272.6 142.1,272.5 142.1,272.4 142.1,272.3 142.9,267.5 143.0,267.5 143.0,267.4 144.9,262.5 144.9,262.5 145.4,258.9 145.4,258.9 145.5,258.8 145.5,258.7 145.5,258.6 145.6,258.6 147.9,255.6 148.0,255.5 148.0,255.5 148.1,255.5 148.1,255.4 152.4,253.0 152.4,253.0 152.5,253.0 152.5,252.9 157.3,251.8 157.4,251.8 157.5,251.8 157.5,251.8 157.6,251.8 157.7,251.8 162.5,252.9 166.0,251.1 166.1,251.1 166.2,251.1 166.2,251.0 166.3,251.0 171.1,250.5 171.1,250.5 171.2,250.5 171.3,250.5 171.3,250.5 176.1,251.7 176.2,251.8 176.3,251.8 176.4,251.8 178.0,252.8 178.0,252.9 178.1,252.9 178.1,253.0 178.2,253.0 178.2,253.1 178.2,253.1 178.3,253.2 178.3,253.3 178.3,253.3 178.9,257.5 178.9,257.5 178.9,257.5 180.1,261.1 181.5,263.3 183.0,261.8 183.3,257.5 183.3,257.5 183.3,257.5 183.0,251.3 182.9,251.2 182.9,251.2 182.8,251.1 182.8,251.1 182.8,251.0 182.8,250.9 182.7,250.8 182.7,250.8 182.7,250.7 182.7,250.6 182.9,249.5 182.9,249.4 183.0,249.4 183.0,249.3 183.0,249.2 184.8,246.2 184.9,246.2 184.9,246.1 184.9,246.1 185.0,246.0 188.7,243.0 188.7,243.0 192.4,240.5 192.4,240.5 196.8,238.0 199.3,234.9 199.8,231.3 199.8,231.3 199.7,231.3 199.7,231.2 199.6,231.2 199.5,231.1 199.5,231.1 199.4,231.0 199.4,231.0 199.4,230.9 199.4,230.8 199.3,230.8 199.3,230.7 199.3,230.6 199.3,230.6 199.3,230.5 199.3,230.4 199.4,230.3 199.4,230.3 200.4,228.3 200.4,228.2 200.4,228.1 200.5,228.1 200.5,228.0 200.6,228.0 200.6,227.9 200.7,227.9 200.8,227.9 203.7,226.8 206.7,223.8 206.8,223.7 206.8,223.7 206.9,223.6 206.9,223.6 211.1,221.8 211.2,221.7 215.4,220.5 214.6,219.4 214.5,219.3 214.5,219.2 214.5,219.1 214.5,219.1 214.5,219.0 214.5,218.9 214.5,218.8 214.5,218.8 214.5,218.7 214.5,218.6 214.6,218.6 214.6,218.5 214.6,218.4 214.7,218.4 214.8,218.3 216.8,216.8 216.8,216.8 219.8,214.4 219.9,214.3 219.9,214.3 220.0,214.2 220.1,214.2 224.9,212.7 224.9,212.7 225.0,212.7 225.1,212.7 225.8,212.7 225.9,212.7 226.0,212.7 226.0,212.7 226.1,212.7 226.2,212.7 226.2,212.8 226.3,212.8 226.4,212.9 226.4,212.9 226.5,213.0 226.5,213.0 226.5,213.1 226.5,213.2 226.6,213.3 226.6,213.3 226.6,213.4 226.6,213.5 226.6,213.5 226.5,213.6 226.5,213.7 226.5,213.8 226.5,213.8 226.4,213.9 226.4,213.9 226.3,214.0 226.2,214.0 226.2,214.1 226.1,214.1 225.2,214.5 225.7,215.8 228.7,214.3 228.8,214.3 232.4,212.7 232.5,212.6 237.4,211.1 239.2,209.4 238.1,208.3 235.3,209.8 235.2,209.8 235.2,209.9 235.1,209.9 235.0,209.9 234.9,209.9 234.9,209.9 234.8,209.9 234.7,209.9 232.0,209.0 232.0,209.0 231.9,209.0 231.9,208.9 231.8,208.9 231.8,208.8 231.7,208.8 231.7,208.7 230.7,207.3 230.6,207.2 230.6,207.2 230.6,207.1 230.6,207.0 230.6,206.9 230.5,206.9 230.6,206.8 230.6,206.7 230.6,206.6 230.6,206.6 230.6,206.5 231.7,204.5 231.7,204.4 231.8,204.3 231.9,204.3 231.9,204.2 234.1,202.5 232.5,201.4 223.7,204.7 223.6,204.7 223.5,204.8 223.4,204.8 223.4,204.8 223.3,204.8 223.2,204.8 223.2,204.7 223.1,204.7 223.0,204.7 223.0,204.6 222.9,204.6 222.9,204.5 222.8,204.5 222.8,204.4 222.7,204.4 222.7,204.3 222.7,204.2 222.7,204.2 222.6,204.1 222.6,204.0 222.6,203.9 222.7,203.9 222.7,203.8 222.7,203.7 222.7,203.7 222.8,203.6 222.8,203.5 222.9,203.5 222.9,203.4 223.0,203.4 224.9,202.1 224.9,202.1 225.0,202.0 229.8,199.9 229.9,199.9 230.0,199.9 230.0,199.9 230.1,199.8 235.0,199.7 235.0,199.6 240.0,198.9 240.0,198.8 244.9,197.4 245.0,197.4 249.3,195.5 249.4,195.5 249.4,195.4 250.4,195.2 250.5,195.2 250.6,195.2 250.6,195.2 250.7,195.2 250.8,195.2 250.8,195.2 250.9,195.2 251.0,195.3 251.0,195.3 251.1,195.3 251.2,195.4 251.2,195.4 251.2,195.5 251.3,195.6 251.3,195.6 251.3,195.7 251.3,195.8 251.4,195.9 251.4,195.9 251.4,196.0 251.3,196.1 251.3,196.1 251.3,196.2 251.3,196.3 251.2,196.3 251.2,196.4 251.1,196.4 251.1,196.5 251.0,196.5 251.0,196.6 250.1,197.0 246.3,200.7 246.3,200.7 242.8,204.9 245.0,205.4 247.1,204.9 247.2,204.9 247.3,204.9 247.4,204.9 247.4,204.9 247.5,204.9 247.6,205.0 247.7,205.0 247.7,205.0 247.8,205.1 247.8,205.1 249.4,206.7 251.4,206.2 251.5,206.2 251.6,206.2 251.6,206.1 251.7,206.2 251.8,206.2 251.9,206.2 251.9,206.2 252.0,206.2 252.1,206.3 252.1,206.3 252.2,206.4 252.2,206.4 252.3,206.5 253.2,207.9 254.9,207.4 255.8,205.0 255.5,202.0 253.2,200.8 253.1,200.8 253.0,200.7 253.0,200.7 252.9,200.6 252.9,200.6 251.9,199.1 251.9,199.0 251.8,199.0 251.8,198.9 251.8,198.8 251.8,198.7 251.8,198.7 251.8,198.6 251.8,198.5 252.3,195.6 252.3,195.6 252.3,195.5 252.2,195.4 252.2,195.4 252.2,195.3 252.2,195.2 252.2,195.1 252.2,195.1 252.2,195.0 252.2,194.9 252.3,194.9 252.3,194.8 252.4,194.7 252.4,194.7 253.6,191.9 251.8,188.2 247.5,184.0 247.4,184.0 247.4,183.9 247.4,183.8 247.3,183.8 247.3,183.7 246.1,180.1 246.1,180.0 246.0,179.9 245.5,173.6 242.6,174.1 236.9,178.7 236.8,178.7 236.7,178.7 236.7,178.8 236.6,178.8 236.5,178.8 236.5,178.8 236.4,178.8 236.3,178.8 236.2,178.8 236.2,178.8 236.1,178.8 236.0,178.7 236.0,178.7 235.9,178.6 235.9,178.6 235.8,178.5 235.8,178.5 235.7,178.4 232.4,171.9 227.5,170.6 227.5,170.6 227.5,170.6 222.6,170.4 221.4,174.0 221.3,174.1 221.3,174.1 218.9,177.9 218.3,181.3 218.3,181.4 218.2,181.5 218.2,181.6 218.2,181.6 218.1,181.7 218.1,181.7 215.2,184.6 215.1,184.7 215.1,184.7 215.0,184.8 214.9,184.8 210.1,186.6 209.0,188.4 209.5,191.3 209.5,191.3 209.5,191.4 209.5,191.5 209.5,191.6 209.5,191.6 209.5,191.7 209.4,191.8 207.7,195.1 207.7,195.2 207.6,195.2 207.6,195.3 207.5,195.3 207.5,195.4 207.4,195.4 205.5,196.4 205.4,196.5 205.3,196.5 205.3,196.5 205.2,196.5 205.1,196.5 205.0,196.5 205.0,196.5 204.9,196.5 204.8,196.5 204.8,196.4 204.7,196.4 204.6,196.3 204.6,196.3 203.1,194.8 203.1,194.8 203.0,194.7 203.0,194.7 203.0,194.6 202.9,194.5 202.9,194.4 202.4,191.7 202.4,191.6 202.4,191.6 202.4,191.5 202.4,191.4 202.4,191.3 202.4,191.3 203.6,188.4 203.6,188.4 203.7,188.3 203.7,188.3 203.8,188.2 204.7,187.2 200.0,186.1 199.9,186.0 199.9,186.0 193.7,182.9 193.7,182.9 188.9,181.1 188.9,181.1 188.8,181.0 188.7,181.0 188.7,180.9 188.6,180.9 188.6,180.8 187.5,179.2 187.4,179.2 187.4,179.1 187.4,179.0 187.4,179.0 187.4,178.9 187.3,178.8 187.3,177.3 187.4,177.3 187.4,177.2 187.4,177.1 187.4,177.1 187.4,177.0 187.5,176.9 187.5,176.9 187.6,176.8 191.0,173.3 191.1,173.3 191.2,173.2 197.4,169.5 197.4,169.5 197.5,169.4 204.9,166.4 205.0,166.4 205.0,166.3 208.7,165.8 208.7,165.8 208.8,165.7 208.8,165.6 208.9,165.6 208.9,165.5 209.0,165.5 209.0,165.5 209.1,165.4 209.2,165.4 209.3,165.4 209.3,165.4 209.4,165.4 209.5,165.4 209.6,165.4 209.6,165.5 209.7,165.5 212.5,167.0 217.5,167.6 219.7,166.5 217.4,164.1 212.8,163.6 212.7,163.6 212.6,163.6 212.6,163.5 212.5,163.5 212.4,163.5 212.4,163.4 212.3,163.4 212.3,163.3 212.2,163.2 212.2,163.2 212.2,163.1 212.1,163.0 212.1,163.0 212.1,162.9 212.1,162.8 212.1,162.8 212.1,162.7 212.1,162.6 212.2,162.5 212.2,162.5 212.2,162.4 212.3,162.4 212.3,162.3 212.4,162.3 212.4,162.2 213.6,161.4 213.7,161.4 213.8,161.4 213.8,161.3 218.0,160.1 218.1,160.1 223.0,157.9 225.3,156.0 225.4,156.0 225.4,155.9 225.5,155.9 225.6,155.9 225.6,155.8 225.7,155.8 225.8,155.8 225.8,155.8 225.9,155.8 226.0,155.8 226.0,155.9 226.1,155.9 226.2,155.9 227.9,157.0 228.0,157.0 228.0,157.1 228.1,157.1 228.1,157.2 228.2,157.3 228.2,157.3 228.2,157.4 228.3,157.5 228.3,157.5 228.3,157.6 228.3,157.7 228.3,157.8 228.3,157.8 228.2,157.9 228.2,158.0 228.2,158.0 228.1,158.1 228.1,158.2 228.0,158.2 228.0,158.2 225.3,160.3 226.0,163.6 231.1,161.9 231.2,161.9 234.4,160.2 234.5,160.2 234.5,160.2 234.6,160.2 234.7,160.2 234.8,160.2 234.8,160.2 234.9,160.2 235.0,160.2 235.1,160.2 235.1,160.3 235.2,160.3 238.0,162.5 238.1,162.5 238.1,162.6 238.2,162.6 238.2,162.7 238.2,162.8 238.3,162.8 238.3,162.9 238.3,163.0 238.3,163.1 238.3,163.1 238.3,163.2 238.3,163.3 238.2,163.3 238.2,163.4 236.7,166.4 240.1,168.9 245.3,168.1 247.9,165.4 247.9,165.4 251.4,161.9 251.5,161.9 251.6,161.8 255.7,159.3 250.9,157.0 250.8,156.9 250.8,156.9 250.7,156.8 250.7,156.8 250.6,156.7 250.6,156.7 250.5,156.6 250.5,156.5 250.5,156.5 249.7,153.3 245.3,150.6 245.3,150.6 243.2,149.2 243.1,149.2 243.0,149.1 243.0,149.1 243.0,149.0 242.9,148.9 242.9,148.9 242.9,148.8 242.8,148.7 242.8,148.6 242.8,148.6 242.8,148.5 242.8,148.4 242.9,148.3 242.9,148.3 242.9,148.2 243.0,148.1 243.0,148.1 243.1,148.0 243.1,148.0 243.2,147.9 243.2,147.9 243.4,147.8 238.8,146.0 235.3,145.7 235.3,145.7 235.2,145.6 233.0,145.0 229.9,145.1 229.8,145.1 226.2,144.8 220.1,146.0 217.7,148.5 218.0,150.4 218.0,150.5 218.0,150.6 218.0,150.6 218.0,150.7 218.0,150.8 217.9,150.8 217.9,150.9 217.9,151.0 216.4,153.2 219.1,155.1 219.2,155.2 219.2,155.2 219.3,155.3 219.3,155.3 219.4,155.4 219.4,155.5 219.4,155.5 219.4,155.6 219.4,155.7 219.4,155.8 219.4,155.8 219.4,155.9 219.4,156.0 219.4,156.0 219.3,156.1 219.3,156.2 219.2,156.2 219.2,156.3 219.1,156.3 219.1,156.4 219.0,156.4 218.9,156.4 217.8,156.8 217.8,156.9 217.7,156.9 217.6,156.9 217.5,156.9 217.5,156.9 217.4,156.9 217.3,156.8 217.2,156.8 217.2,156.8 215.2,155.5 215.1,155.4 215.0,155.4 215.0,155.3 214.9,155.3 214.9,155.2 214.9,155.2 214.8,155.1 214.8,155.0 214.8,154.9 214.3,150.9 213.1,148.6 213.0,148.5 213.0,148.4 213.0,148.3 213.0,148.3 213.0,148.2 213.0,148.1 213.0,148.0 213.0,148.0 213.0,147.9 213.1,147.8 213.1,147.8 213.2,147.7 213.2,147.7 213.3,147.6 214.8,146.5 212.4,144.1 208.8,143.0 203.8,143.5 203.8,143.6 199.6,144.7 200.0,145.5 200.0,145.6 200.1,145.7 200.1,145.7 200.1,145.8 200.1,145.9 200.1,145.9 200.1,146.0 200.0,146.1 200.0,146.2 200.0,146.2 199.9,146.3 199.9,146.3 199.8,146.4 199.8,146.4 199.7,146.5 199.7,146.5 200.8,147.5 200.9,147.5 200.9,147.6 201.0,147.6 201.0,147.7 201.1,147.7 201.3,148.3 201.8,148.3 201.8,148.4 201.9,148.4 202.0,148.4 202.0,148.4 202.1,148.5 202.5,148.8 203.6,148.7 203.7,148.7 203.8,148.7 203.9,148.7 205.0,148.8 208.0,147.9 208.1,147.9 208.2,147.9 208.2,147.9 208.3,147.9 208.4,147.9 208.4,147.9 208.5,147.9 208.6,147.9 208.6,148.0 208.7,148.0 208.8,148.1 208.8,148.1 208.9,148.2 208.9,148.2 208.9,148.3 208.9,148.4 210.0,150.6 210.1,150.7 210.1,150.7 210.1,150.8 210.1,150.9 210.1,151.0 210.1,151.0 210.1,151.1 210.0,151.2 209.0,153.9 209.0,153.9 209.0,154.0 208.9,154.0 208.9,154.1 208.8,154.2 208.8,154.2 208.7,154.2 205.8,156.0 205.7,156.0 205.6,156.0 205.5,156.1 200.1,157.2 200.0,157.2 199.9,157.2 191.2,157.0 191.1,156.9 182.5,155.7 179.0,156.7 178.9,156.7 178.9,156.8 178.8,156.8 178.7,156.8 178.6,156.7 178.6,156.7 178.5,156.7 178.4,156.7 178.4,156.6 178.3,156.6 178.3,156.5 178.2,156.5 178.2,156.4 178.1,156.4 178.1,156.3 178.1,156.2 178.0,156.2 178.0,156.1 178.0,156.0 178.0,155.9 178.0,155.9 178.1,155.8 178.1,155.7 178.1,155.7 178.2,155.6 178.2,155.5 178.2,155.5 178.3,155.4 178.4,155.4 178.4,155.4 178.5,155.3 182.3,153.7 182.4,153.7 182.5,153.7 182.6,153.7 182.6,153.7 187.5,153.8 187.5,153.9 192.5,154.4 192.5,154.4 198.0,154.4 199.8,152.1 196.1,146.0 192.5,144.8 187.7,146.6 187.6,146.6 187.6,146.6 187.5,146.6 187.4,146.6 187.4,146.6 187.3,146.6 181.2,145.4 181.1,145.3 175.0,143.1 168.8,143.0 163.9,144.7 163.9,144.7 163.9,144.7 160.2,147.2 160.7,148.9 163.9,150.8 163.9,150.8 168.8,153.8 168.9,153.9 168.9,153.9 171.3,156.1 171.3,156.0 171.4,156.0 177.1,155.8 177.2,155.8 177.2,155.8 177.3,155.8 177.4,155.8 177.5,155.8 177.5,155.9 177.6,155.9 177.6,156.0 177.7,156.0 177.7,156.1 177.8,156.1 177.8,156.2 177.8,156.3 177.9,156.4 177.9,156.4 177.9,156.5 177.9,156.6 177.9,156.6 177.9,156.7 177.8,156.8 177.8,156.9 177.8,156.9 177.7,157.0 177.7,157.0 177.6,157.1 177.6,157.1 177.5,157.2 177.4,157.2 177.4,157.2 175.2,157.9 175.1,157.9 175.0,157.9 174.9,157.9 174.9,157.9 171.3,157.5 171.3,157.5 171.2,157.5 171.1,157.5 171.1,157.5 171.1,157.5 171.0,157.5 170.9,157.5 170.8,157.5 168.9,157.3 168.8,157.2 168.7,157.2 168.6,157.2 161.2,153.7 161.2,153.7 161.1,153.7 155.0,152.2 152.1,151.6 142.4,152.5 142.4,152.5 133.7,154.0 133.7,154.0 133.6,154.0 133.5,154.0 133.4,154.0 127.5,152.7 127.5,152.6 120.0,151.6 120.0,151.6 112.5,150.8 112.4,150.7 107.5,149.6 100.0,150.3 100.0,150.4 92.6,152.0 92.5,152.0 85.1,154.5 85.0,154.5 81.4,156.1 81.9,158.5 82.0,158.6 82.0,158.7 82.0,158.7 81.9,158.8 81.9,158.9 81.9,159.0 81.9,159.0 81.8,159.1 81.8,159.2 81.7,159.2 81.7,159.3 81.6,159.3 81.6,159.3 80.2,160.1 80.1,160.1 80.0,160.1 79.9,160.2 73.2,161.3 70.8,162.8 72.0,164.7 76.4,164.8 76.5,164.8 76.5,164.8 76.6,164.9 76.7,164.9 76.7,164.9 76.8,165.0 76.9,165.0 76.9,165.1 77.0,165.1 77.0,165.2 77.0,165.2 77.1,165.3 77.1,165.4 77.1,165.5 77.1,165.5 77.1,165.6 77.1,165.7 77.1,165.7 77.1,165.8 77.0,165.9 77.0,166.0 77.0,166.0 76.9,166.1 76.8,166.1 76.8,166.2 76.7,166.2 76.7,166.2 76.6,166.3 72.6,167.6 72.5,167.7 67.6,168.9 67.5,168.9 67.5,168.9 62.0,171.3 60.2,173.8 60.7,176.8 63.8,178.0 63.8,178.0 63.8,178.0 66.2,178.4 66.2,178.4 66.3,178.4 66.4,178.5 66.4,178.5 66.5,178.5 66.5,178.6 66.6,178.6 66.6,178.7 66.7,178.8 66.7,178.8 66.7,178.9 66.7,179.0 66.8,179.0 66.8,179.1 66.8,179.2 66.8,179.3 66.7,179.3 66.7,179.4 66.7,179.5 66.7,179.5 66.6,179.6 66.6,179.6 66.5,179.7 66.5,179.7 65.2,180.7 65.1,180.7 65.0,180.7 65.0,180.8 55.1,184.5 55.1,184.5ZM194.0,281.5 194.5,282.2 197.4,281.9 197.4,281.9 197.5,281.9 197.6,281.9 197.7,281.9 199.7,282.4 199.8,282.4 199.9,282.5 199.9,282.5 200.0,282.6 200.6,283.0 202.3,282.0 202.3,281.9 202.4,281.9 202.4,281.9 202.5,281.9 202.6,281.9 202.6,281.9 202.7,281.9 205.0,282.0 207.2,281.3 202.5,277.8 199.8,278.1 199.8,278.1 199.8,278.2 199.8,278.2 199.7,278.2 199.6,278.2 199.5,278.2 199.5,278.2 199.4,278.2 199.4,278.2 197.6,278.3 196.5,280.6 196.4,280.7 196.4,280.7 196.3,280.8 196.3,280.8 196.2,280.9 196.2,280.9 196.1,281.0 196.0,281.0 196.0,281.0ZM176.6,138.4 178.2,139.5 182.5,140.8 182.6,140.8 186.2,141.9 198.7,140.8 199.2,138.9 193.8,138.5 188.6,138.2 188.5,138.2 188.4,138.2 188.4,138.2 188.3,138.1 188.2,138.1 188.2,138.1 188.1,138.0 188.1,138.0 188.0,137.9 188.0,137.9 187.9,137.8 187.9,137.7 187.9,137.7 187.9,137.6 187.9,137.5 187.9,137.4 187.9,137.4 187.9,137.3 187.9,137.2 187.9,137.2 188.0,137.1 188.0,137.0 188.6,136.3 188.5,136.2 188.5,136.2 188.4,136.1 188.4,136.1 188.3,136.0 188.3,136.0 188.2,135.9 188.2,135.8 188.2,135.8 188.2,135.7 188.2,135.6 188.2,135.5 188.2,135.5 188.2,135.4 188.2,135.3 188.3,135.3 188.3,135.2 188.4,135.1 188.4,135.1 188.5,135.0 188.5,135.0 188.6,134.9 188.7,134.9 188.7,134.9 188.8,134.9 190.9,134.5 189.9,133.1 183.8,133.0 179.2,134.1 181.2,135.3 181.7,135.3 181.8,135.4 181.9,135.4 182.0,135.4 182.0,135.4 182.1,135.4 182.2,135.5 182.2,135.5 182.3,135.6 182.3,135.6 182.4,135.7 182.4,135.7 182.4,135.8 182.5,135.9 182.5,136.0 182.5,136.0 182.5,136.1 182.5,136.2 182.5,136.2 182.5,136.3 182.4,136.4 182.4,136.5 182.4,136.5 182.3,136.6 182.3,136.6 182.2,136.7 182.2,136.7 182.1,136.8 182.0,136.8 182.0,136.8ZM171.5,272.0 172.5,272.8 174.9,272.1 175.0,272.1 175.1,272.0 179.3,271.7 179.4,271.7 179.4,271.7 179.5,271.7 183.7,272.4 183.8,272.4 183.8,272.5 183.9,272.5 184.0,272.5 186.9,274.3 186.9,274.4 187.0,274.4 187.0,274.4 187.1,274.5 188.9,276.9 192.5,277.4 194.7,276.9 193.0,275.6 193.0,275.6 193.0,275.6 190.0,274.1 189.9,274.0 189.9,274.0 186.8,271.5 183.1,269.9 178.8,269.4 173.9,270.2ZM185.2,281.5 185.7,282.9 188.1,283.0 189.5,282.2 187.5,281.2ZM103.2,190.7 103.2,193.0 104.3,193.6 104.8,192.0 104.8,191.9 104.9,191.9 104.9,191.8 104.9,191.7 105.0,191.7 106.7,190.0 106.1,189.0ZM49.5,162.3 51.7,161.2 51.7,161.1 51.8,161.1 51.8,161.1 51.9,161.1 52.0,161.1 52.1,161.1 52.1,161.1 53.6,161.3 53.6,161.3 53.7,161.4 53.8,161.4 53.9,161.4 53.9,161.5 54.0,161.5 54.0,161.6 54.1,161.6 55.7,163.9 58.1,164.6 62.3,162.1 62.4,162.1 62.5,162.1 62.6,162.0 67.6,160.9 67.4,159.5 63.6,159.2 63.5,159.2 63.4,159.2 63.4,159.1 63.3,159.1 63.2,159.1 63.2,159.0 63.1,159.0 63.1,158.9 63.0,158.9 63.0,158.8 62.9,158.8 62.9,158.7 62.9,158.6 62.9,158.6 62.7,157.0 60.0,155.0 52.6,160.1ZM8.3,278.0 8.9,279.1 10.1,279.1 10.7,278.0 10.1,276.9 8.9,276.9Z" fill="#6d7892" fill-rule="evenodd"/>
<path d="M44,188.5 55,184.4 65,180.6 67.5,178.8 63.8,178.1 60.6,176.9 60,173.8 61.9,171.2 67.5,168.8 72.5,167.5 78.1,165.6 80,164.4 77.5,165 71.9,164.8 70.6,162.8 73.1,161.2 80,160 81.9,159 81.2,156 85,154.4 92.5,151.9 100,150.2 107.5,149.4 112.5,150.6 120,151.5 127.5,152.5 133.6,153.9 142.4,152.4 152.1,151.4 155,152.1 161.2,153.6 168.8,157.1 175,157.8 182.5,155.5 191.2,156.8 200,157.1 205.6,155.9 208.8,154 210,150.9 208.8,148.4 212.5,147.1 214.4,150.9 215,155.2 217.5,156.8 221.9,155.2 225,153.8 226.5,155.2 223.1,158 218.1,160.2 213.8,161.5 210,164 208.8,165.9 205,166.5 197.5,169.6 191.2,173.4 187.5,177.1 187.5,179 188.8,180.9 193.8,182.8 200,185.9 205,187.1 203.8,188.4 202.5,191.5 203.1,194.6 205,196.5 207.5,195.2 209.4,191.5 208.8,188.4 210,186.5 215,184.6 218.1,181.5 218.8,177.8 221.2,174 222.5,170.2 227.5,170.5 232.5,171.8 236.2,179 242.5,174 245.6,173.4 246.2,180 247.5,183.8 251.9,188.1 253.8,191.9 252.5,194.8 249.4,195.6 245,197.5 240,199 235,199.8 230,200 225,202.2 220,205.6 218.1,207.2 222.5,205 227.5,203.1 232.5,201.2 234.4,202.5 231.9,204.4 230.6,206.9 231.9,208.8 235,209.8 238.1,208.1 239.4,209.4 237.5,211.2 232.5,212.8 228.8,214.4 225.6,216 225,214.4 228.8,212.8 225,212.8 220,214.4 216.9,216.9 214.4,218.8 215.6,220.6 211.2,221.9 206.9,223.8 203.8,226.9 200.6,228.1 199.4,230.6 198.5,233.8 200,231.2 199.4,235 196.9,238.1 192.5,240.6 188.8,243.1 185,246.2 183.1,249.4 182.5,253.1 183.1,251.2 183.5,257.5 183.1,261.9 181.5,263.5 180,261.2 178.8,257.5 178.1,253.1 176.2,251.9 171.2,250.6 166.2,251.2 162.5,253.1 157.5,251.9 152.5,253.1 148.1,255.6 145.6,258.8 145,262.5 142.5,261.5 141.2,259.4 139.4,255 136.9,252.2 133.8,253.1 131.2,250.6 128.1,246.9 123.1,247.8 118.8,248.1 114.4,246.9 110,244.8 105.6,244 103.8,241.2 100.6,238.8 99,233.8 99.4,228.8 98.8,224.4 100.6,220 103.1,215 107.1,212.2 111,206.3 113.8,202.8 116.2,205 115,202.5 113.8,200 111.2,198.1 110,195 111.2,192.5 111.2,187.5 113.1,186.9 115,185 112.5,183.8 113.1,180 112.5,176 110,176.2 105,175.6 104.4,174 100,174.8 95,173.1 92.5,173.5 88.8,172.5 85,173.8 80,176.5 72.5,179.4 67.5,181.2 58.8,184.8 50,187.2Z" fill="#081d58" stroke="#76819f" stroke-width="0.35" stroke-linejoin="round"/>
<path d="M242.5,205 246.2,200.6 250,196.9 252.5,195.6 251.9,198.8 253.1,200.6 255.6,201.9 256,205 255,207.5 253.1,208.1 251.9,206.2 249.4,206.9 247.5,205 245,205.6Z" fill="#081d58" stroke="#76819f" stroke-width="0.35" stroke-linejoin="round"/>
<path d="M103.1,190.6 106.2,188.8 106.9,190 105,191.9 104.4,193.8 103.1,193.1Z" fill="#081d58" stroke="#76819f" stroke-width="0.35" stroke-linejoin="round"/>
<path d="M160,147.1 163.8,144.6 168.8,142.8 175,143 181.2,145.2 187.5,146.5 192.5,144.6 196.2,145.9 198.1,149 200,152.1 198.1,154.6 192.5,154.6 187.5,154 182.5,153.8 177.5,155.9 171.2,156.2 168.8,154 163.8,150.9 160.6,149Z" fill="#081d58" stroke="#76819f" stroke-width="0.35" stroke-linejoin="round"/>
<path d="M176.2,138.4 182.5,136.5 188.8,136.2 187.5,138 193.8,138.4 199.4,138.8 198.8,140.9 192.5,141.5 186.2,142.1 182.5,140.9 178.1,139.6Z" fill="#081d58" stroke="#76819f" stroke-width="0.35" stroke-linejoin="round"/>
<path d="M199.4,146.5 202.5,144.6 207.5,144 211.2,144.6 210,147.1 206.2,148.4 202.5,149Z" fill="#081d58" stroke="#76819f" stroke-width="0.35" stroke-linejoin="round"/>
<path d="M206.2,139 210,137.8 215,138.4 220,139 225,139.6 230,140.2 237.5,140.9 240,142.1 235,142.8 227.5,142.5 220,142.1 215,141.5 208.8,140.9Z" fill="#081d58" stroke="#76819f" stroke-width="0.35" stroke-linejoin="round"/>
<path d="M208.8,165.2 212.5,163.4 217.5,164 220,166.5 217.5,167.8 212.5,167.1Z" fill="#081d58" stroke="#76819f" stroke-width="0.35" stroke-linejoin="round"/>
<path d="M217.5,148.4 220,145.9 226.2,144.6 232.5,145.2 238.8,145.9 243.8,147.8 237.5,150.9 233.8,153.4 230,153.4 226.2,155.2 222.5,156.5 220,155.2 218.1,152.1Z" fill="#081d58" stroke="#76819f" stroke-width="0.35" stroke-linejoin="round"/>
<path d="M218,147.9 224.2,145.2 233,144.8 240.1,147 245.4,150.5 249.8,153.2 250.7,156.7 256,159.3 251.6,162 248,165.5 245.4,168.2 240.1,169.1 236.5,166.4 238.3,162.9 234.8,160.2 231.2,162 225.9,163.8 225.1,160.2 228.6,157.6 224.2,154.9 219.8,155.8 216.2,153.2 218,150.5Z" fill="#081d58" stroke="#76819f" stroke-width="0.35" stroke-linejoin="round"/>
<path d="M225.1,132 233,130.2 243.6,128.4 256,127.5 268.3,126.7 277.2,127.2 271.9,129.3 261.3,132 250.7,134.6 245.4,138.1 240.1,140.8 233,141.7 227.7,140.8 231.2,138.1 225.9,135.5Z" fill="#081d58" stroke="#76819f" stroke-width="0.35" stroke-linejoin="round"/>
<path d="M218.9,139 225.9,138.1 233,140.8 231.2,143.1 222.4,142.6Z" fill="#081d58" stroke="#76819f" stroke-width="0.35" stroke-linejoin="round"/>
<path d="M225,131.5 231.2,129.6 240,128.4 250,127.1 250,130.2 245,132.8 240,135.2 235,136.5 231.2,135.9 227.5,134.6Z" fill="#081d58" stroke="#76819f" stroke-width="0.35" stroke-linejoin="round"/>
<path d="M47.5,163.5 52.5,160 60,154.8 62.8,156.9 63.1,159 67.5,159.4 67.8,161 62.5,162.2 58.1,164.8 55.6,164 53.8,161.5 51.9,161.2Z" fill="#253494" stroke="#76819f" stroke-width="0.35" stroke-linejoin="round"/>
<path d="M67.5,150 73.1,148.8 72.5,149.8 68.1,150.8Z" fill="#253494" stroke="#76819f" stroke-width="0.35" stroke-linejoin="round"/>
<path d="M127.5,152.5 104.4,174" fill="none" stroke="#7a85a1" stroke-width="0.45" stroke-linejoin="round"/>
<path d="M114.1,202.4 170.7,202.1" fill="none" stroke="#7a85a1" stroke-width="0.45" stroke-linejoin="round"/>
<path d="M170,202.2 172.5,202.8 177.5,203.8 183.8,204 187.5,205.6 190.6,208.8 192.5,211.9 191.9,215 190,217.5 188.1,219.4 188.8,220.6 193.1,219.8 197.5,217.5 202.5,215.6 206.2,213.1 211.2,211.9 215.6,211.2 218.1,210 218.8,207.2 220.6,206.5 223.8,206.5 224.4,208.8 223.8,211.2" fill="none" stroke="#7a85a1" stroke-width="0.45" stroke-linejoin="round"/>
<path d="M255,136.8 259.4,133.3 268.3,130.2 278,128 289.5,127.4 301.8,126.7 316,126.2 331.9,127.1 346,128.8 338.9,130.2 336.3,134.1 332.8,137.7 331.9,143 327.5,146.5 324.8,150.9 317.7,153.6 310.7,156.2 301.8,159.8 294.8,162.4 289.5,166.8 285.1,172.1 281.5,174.4 276.2,173 271.8,168.6 270.4,162.4 271.8,156.2 274.5,152.7 272.7,148.3 273.6,142.1 270,139.1 261.2,138.6Z" fill="url(#h)" stroke="#dcdcdc" stroke-width="0.6" stroke-linejoin="round"/>
<path d="M321.3,161.5 325.7,160.3 331.9,161 337.2,160.3 338.9,162.4 336.3,165.1 330.1,166.3 324.8,166.3 322.2,164.2Z" fill="#081d58" stroke="#76819f" stroke-width="0.35" stroke-linejoin="round"/>
<path d="M377.8,132.4 384.9,131.5 391.1,131 393.7,133.3 391.1,136.8 386.6,137.7 381.3,135.9Z" fill="#081d58" stroke="#76819f" stroke-width="0.35" stroke-linejoin="round"/>
<path d="M105.6,244 110,244.8 114.4,246.9 118.8,248.1 123.1,247.8 128.1,246.9 131.2,250.6 133.8,253.1 136.9,252.2 139.4,255 141.2,259.4 142.5,261.5 145,262.5 143.1,267.5 142.2,272.5 143.8,276.9 146.2,280 150,281.2 155,280 158.1,276.9 160,274.8 163.1,273.8 166.9,273.8 165,277.5 163.8,281.2 162.2,283.2 160.6,283.2 155.6,283.5 155,286.4 152.5,288.2 151.5,290.8 147.5,288.2 142.5,288.9 137.5,287 132.5,284.5 130,283.1 125.6,280 123.8,276.9 125,274.4 124.4,271.9 121.9,267.5 119.4,263.1 116.9,258.8 114.4,253.8 112.8,249.4 110.6,246.9 109,247.5 109.4,250.6 110.6,254.4 112.2,258.8 114,263.8 116.2,268.1 116,270 114.4,268.1 111.5,265.6 111,263.1 109,260 106.9,257.5 107.8,253.8 106.2,249.4Z" fill="#1b2a78" stroke="#76819f" stroke-width="0.35" stroke-linejoin="round"/>
<path d="M109.8,247.2 110.8,247 112.8,250 114.4,254 116.8,259 116.2,260 114,255.6 111.9,251.2 110.5,249.4Z" fill="#fff"/>
<path d="M155.6,283.5 160.6,283.2 160,287 161.2,288.9 159.4,291.4 156.9,293.2 153.8,293 151.5,291 152.5,288.2 155,286.4Z" fill="#1d91c0" stroke="#76819f" stroke-width="0.35" stroke-linejoin="round"/>
<path d="M160.6,283.2 162.8,282 163.5,284.5 161.9,288.2 160.2,287Z" fill="#081d58" stroke="#76819f" stroke-width="0.35" stroke-linejoin="round"/>
<path d="M161.2,288.9 166.2,288 171.2,288.2 173.1,290.1 170,292 166.2,293.9 163.8,295.1 161.9,293.9 160,293 159.4,291.4Z" fill="#1b2a78" stroke="#76819f" stroke-width="0.35" stroke-linejoin="round"/>
<path d="M156.9,293.2 159.4,292 161.2,293.9 162.8,295.1 160.6,295.5 158.1,294.5Z" fill="#253494" stroke="#76819f" stroke-width="0.35" stroke-linejoin="round"/>
<path d="M163.8,295.1 166.2,293.9 170,292 173.1,290.5 172.5,294.5 171.9,298.2 170.6,300.8 167.5,300.1 165.6,298.2Z" fill="url(#h)" stroke="#dcdcdc" stroke-width="0.6" stroke-linejoin="round"/>
<path d="M166.2,301.4 168.1,300.5 170.6,301 172.5,303.9 173.1,307 171.9,307.6 170,305.8 167.5,304.5 166,303Z" fill="#081d58" stroke="#76819f" stroke-width="0.35" stroke-linejoin="round"/>
<path d="M173.1,305.8 175.6,307 178.1,306.4 180.6,304.8 183.1,305.8 185,308 184.4,310.1 182.5,308.2 180,307.2 178.1,309.5 176.2,310.1 174.4,308.2Z" fill="#253494" stroke="#76819f" stroke-width="0.35" stroke-linejoin="round"/>
<path d="M171.2,272 173.8,270.1 178.8,269.2 183.1,269.8 186.9,271.4 190,273.9 193.1,275.5 195,277 192.5,277.6 188.8,277 186.9,274.5 183.8,272.6 179.4,271.8 175,272.2 172.5,273Z" fill="#081d58" stroke="#76819f" stroke-width="0.35" stroke-linejoin="round"/>
<path d="M185,281.4 187.5,281 189.8,282.2 188.1,283.2 185.6,283Z" fill="#081d58" stroke="#76819f" stroke-width="0.35" stroke-linejoin="round"/>
<path d="M193.8,281.4 196.2,280.8 197.5,278.2 199.4,278 200,280.1 199.8,282.6 197.5,282 194.4,282.4Z" fill="#c7e9b4" stroke="#8f937c" stroke-width="0.35" stroke-linejoin="round"/>
<path d="M199.8,278 202.5,277.6 205,279.5 207.5,281.4 205,282.2 202.5,282 200.6,283.2 199.8,282.6 200,280.1Z" fill="#1b2a78" stroke="#76819f" stroke-width="0.35" stroke-linejoin="round"/>
<path d="M210,281.4 213.1,281.4 213.1,282.6 210,282.6Z" fill="url(#h)" stroke="#dcdcdc" stroke-width="0.6" stroke-linejoin="round"/>
<path d="M221,302 223.1,301.4 223.1,303.2 221.2,303.5Z" fill="#081d58" stroke="#76819f" stroke-width="0.35" stroke-linejoin="round"/>
<path d="M186.9,263.9 188.8,264.5 188.1,267.6 187.2,267Z" fill="url(#h)" stroke="#dcdcdc" stroke-width="0.6" stroke-linejoin="round"/>
<path d="M184.4,310.1 185,307.6 187.5,303.9 191.2,301.4 195,300.1 198.1,297.6 199.8,298.2 197.5,300.8 195.6,303.9 196.9,307.6 200,310.8 203.8,312.6 207.5,313.9 208.1,317 206.9,320.1 207.5,323.2 205.6,325.1 202.5,327 201.9,332 202.2,335.8 200,335.1 196.9,335.1 193.8,332.6 191.2,330.1 188.1,328.9 184.4,327 181.2,325.8 181.9,323.2 184.4,320.1 185,315.8Z" fill="#1b2a78" stroke="#76819f" stroke-width="0.35" stroke-linejoin="round"/>
<path d="M199.8,298.2 202.5,298 205,300.1 210,302 216.2,302.6 221.2,301.8 223.1,303.9 223.8,306.4 225,308.2 222.5,311.4 221.9,314.5 223.1,317.6 220,318.9 216.2,319.5 214.4,320.8 215,324.5 213.1,327 210.6,327.6 208.1,323.2 206.9,320.1 208.1,317 207.5,313.9 203.8,312.6 200,310.8 196.9,307.6 195.6,303.9 197.5,300.8Z" fill="url(#h)" stroke="#dcdcdc" stroke-width="0.6" stroke-linejoin="round"/>
<path d="M222.4,312.4 226,308.8 229.5,313.3 230.4,315.9 230,320.3 231.8,323.9 228.6,326.1 226,324.7 225.4,320.3 223,317.7Z" fill="#081d58" stroke="#76819f" stroke-width="0.35" stroke-linejoin="round"/>
<path d="M230.4,315.9 234.8,314.5 238.3,315.9 237.8,323.3 234.8,323 231.8,323.9 230,320.3Z" fill="#1b2a78" stroke="#76819f" stroke-width="0.35" stroke-linejoin="round"/>
<path d="M238.3,315.9 241.9,315 243.6,319.4 241.3,323.9 237.8,323.3Z" fill="url(#h)" stroke="#dcdcdc" stroke-width="0.6" stroke-linejoin="round"/>
<path d="M176.5,332.7 178.3,329.2 181.8,326.5 186.2,328.3 189.7,330.9 188.9,332.7 186.2,335.3 181.8,338.9 178.3,342.4 175.6,341.5 177.4,337.1Z" fill="#1b2a78" stroke="#76819f" stroke-width="0.35" stroke-linejoin="round"/>
<path d="M175.6,341.5 178.3,342.4 181.8,338.9 186.2,335.3 189.7,331.4 190.1,329.5 193.3,332.7 196.3,335 199.5,335.9 201.2,335.3 202.1,339.8 200.3,341.5 195.9,343.3 193.3,347.7 194.2,352.1 197.7,355.7 203,358.3 203.9,363.6 204.2,369.8 204.8,375.1 203.9,377.7 199.5,375.1 193.3,370.7 188.9,367.1 186.2,361 182.7,354.8 179.1,348.6 176.5,345.1Z" fill="#225ea8" stroke="#76819f" stroke-width="0.35" stroke-linejoin="round"/>
<path d="M203,325.6 208.3,326.5 210.9,327.4 215.4,324.7 214.5,320.3 218,317.7 222.4,318.6 226,322.1 226,324.7 228.6,326.1 231.8,323.9 234.8,323 237.8,323.3 241.3,323.9 242.7,319.4 245.4,320.3 247.2,326.5 248,329.2 253.3,331.8 260.4,334.5 263.9,337.1 271,338 276.3,340.6 280.7,343.3 283,348.6 281.6,354.8 278.1,360.1 274.5,366.3 273.7,370.7 274.2,376 271.9,383 269.2,388.3 263.9,390.1 258.6,391.9 255.1,396.3 254.2,402.5 252.5,407.7 249.8,412.1 247.2,416.5 244.5,413 240.1,410.3 236.6,408.6 239.2,404.2 243.1,399.4 241.3,397.1 241.3,392.8 240.1,389.2 235.7,387.5 234.8,383 232.5,379.5 231.3,374.2 226,370.7 225.1,366.3 218.9,363.6 213.6,361 211.8,355.7 207.4,356.5 203,358.3 197.7,355.7 194.2,352.1 193.3,347.7 195.9,343.3 200.3,341.5 202.1,339.8 201.2,335.3 202.5,330Z" fill="#225ea8" stroke="#76819f" stroke-width="0.35" stroke-linejoin="round"/>
<path d="M203,358.3 207.4,356.5 211.8,355.7 213.6,361 218.9,363.6 225.1,366.3 226,370.7 231.3,374.2 232.5,379.5 227.7,380.4 223.3,381.3 221.5,386.6 218,387.5 212.7,387.5 210.9,389.2 208.3,384.8 206.5,380.4 204.8,375.1 204.2,369.8 203.9,363.6Z" fill="#1d91c0" stroke="#76819f" stroke-width="0.35" stroke-linejoin="round"/>
<path d="M222.4,382.1 226.8,380.7 231.8,381.2 234.3,383.8 234.8,387.4 239.2,389.5 241,392.7 241.3,397.1 238.3,400.6 233.9,400.6 233,396.2 229.5,392.7 225.1,390.5 221.9,387Z" fill="#081d58" stroke="#76819f" stroke-width="0.35" stroke-linejoin="round"/>
<path d="M203,376.8 203.9,385.6 204.8,396.2 204.2,406.8 205.3,417.4 204.2,428 206,435.1 207.4,443 209.2,444.8 208.3,451 210.6,454.5 211.3,459.8 214.5,465.1 219.8,469.5 226.8,472.2 233,473.6 237.1,471.8 232.1,469.5 227.7,466 226,466.9 223.3,467.8 218,466 215.4,461.6 213.6,456.3 212.3,451 212.7,445.7 211.3,440.4 210.1,433.3 210.6,428 209.2,422.7 208.8,415.6 207.4,408.6 207.8,401.5 209.5,394.4 211.3,389.1 209.2,384.7 206.5,380.3 204.8,375 203,375Z" fill="#081d58" stroke="#76819f" stroke-width="0.35" stroke-linejoin="round"/>
<path d="M211.3,389.1 213.6,387.7 218,387.7 221.9,387 225.1,390.5 229.5,392.7 233,396.2 233.9,400.6 238.3,400.6 241.3,397.1 243.1,399.4 239.2,404.2 236.6,407.7 235.7,413 236,418.3 239.2,420.1 240.1,426.2 237.4,429.8 231.3,431.5 229.5,436 226,436.8 227.7,440.4 225.1,444.8 226.8,448.3 224.2,451 226,453.6 228.3,455.4 226.8,458.9 226,463.3 227.7,466 226,466.9 223.3,467.8 218,466 215.4,461.6 213.6,456.3 212.3,451 212.7,445.7 211.3,440.4 210.1,433.3 210.6,428 209.2,422.7 208.8,415.6 207.4,408.6 207.8,401.5 209.5,394.4Z" fill="#253494" stroke="#76819f" stroke-width="0.35" stroke-linejoin="round"/>
<path d="M225.1,467.8 228.6,466.9 233,470.4 235.7,471.8 231.3,471.3 226.8,470.1Z" fill="#253494" stroke="#76819f" stroke-width="0.35" stroke-linejoin="round"/>
<path d="M236.6,408.6 240.1,410.3 244.5,413 247.2,416.5 245.4,420.1 241.9,421.3 238.3,420.1 236,418.3 235.7,413Z" fill="#081d58" stroke="#76819f" stroke-width="0.35" stroke-linejoin="round"/>
<path d="M353.8,203.5 357.5,203.1 360.6,201.2 363.1,200.6 365,198.8 368.1,196.9 371.2,193.8 373.1,191.9 375.6,191.2 378.8,190 379.8,188.1 379,185 379.4,182.5 381.2,181.2 383.1,181.9 382.8,185 383.8,186.9 383.1,188.1 385.6,187.5 388.8,188.8 392.5,189 396.2,188.1 400,187.5 403.1,188.1 404.4,185 403.8,182.5 405.6,181.2 408.1,181.9 407.5,179.4 406.2,177.5 410,176.5 415,176.9 420,177.5 427.5,185 437.5,191.2 458.9,194.7 473,193.8 490.7,185.8 504.8,186.7 518.9,192.9 536.6,198.2 543.7,194.7 557.8,192.9 565.6,192.9 581.5,196.4 597.4,196.4 602.7,189.4 613.3,192 629.2,200.9 636.3,201.7 638.8,206.3 638.8,213.8 636,219.5 633.2,226.1 628,226.2 626.6,225.3 623,227.1 621.3,224.4 618.6,225.3 615.1,228 616.8,230.6 621.3,231.5 624.8,232.4 626.6,234.2 623,236.8 624.8,238.6 627.4,240.3 630.1,243.9 631.9,247.4 632.7,251.8 633.6,255.4 631.9,259.8 630.1,263.3 627.4,266.8 623.9,269.5 619.5,271.8 615.1,273.6 611.5,274.8 608.9,273.9 605.4,275.7 602.7,279.2 602.7,284.5 604.5,291.6 602.7,297.8 597,296.9 594.2,295.5 592.5,298.6 592.5,303.9 593,308.4 593.5,311 591.2,305.9 593.9,309.4 596.5,313 600,316.5 602.7,320.9 603.6,326.2 600.9,325.3 598.3,321.8 594.7,316.5 592.1,312.1 589.4,307.7 589.1,303.3 589.5,299.5 588.6,293.3 587.2,285.4 585.4,280.1 581.5,272.1 577.1,263.3 573.8,258.1 562.5,258.1 552.5,257.5 543.8,253.8 537.5,248.8 532.5,242.5 526.9,237.5 518.8,250 507.5,258.8 495,255 482.5,252.5 471.2,249.4 466.9,252.5 469.4,255 472.5,257.5 475.6,260.6 477.5,263.8 480,266.2 483.8,266.9 487.5,265 488.8,263.1 490.6,261.2 490,263.8 492.5,266.9 496.2,269.4 497.5,272.5 495.6,276.2 493.8,280 493.8,280 491.9,281.2 488.1,283.8 483.8,286.2 481.9,285 476.2,286.9 470,288.5 465,289.4 461.9,290 459.4,287.5 456.2,282.5 453.8,277.5 451.2,272.5 448.8,267.5 445.6,262.5 442.5,257.5 440,253.8 442.2,258.1 441.2,253.8 441,240 441.2,236.9 441.9,234 439.8,233.1 436.2,234 432.5,233.1 428.8,233.8 424.4,233.1 421.9,231.2 420,227.5 420.6,224.4 423,222.3 421.6,223 419.8,222.6 418.4,223.7 416.6,223.7 415.2,224.8 413.5,224.1 412.1,224.8 411.3,226.2 412.1,227.9 412.8,229.3 414.2,230.4 413.5,231.5 412.1,231.8 412.4,233.2 411.3,234.3 409.6,233.2 408.5,231.1 407.1,229 405.7,226.9 404.3,225.1 403.9,223.3 403.6,221.6 402.5,220.2 400.4,218.8 398.3,217 396.2,215.2 394.4,213.5 392.6,211.7 393.7,210.3 396.2,208.9 393.3,209.2 391.6,210.6 389.5,211.4 388.8,212.8 389.5,214.5 391.2,216.3 393,218.1 395.1,219.8 397.2,221.6 399.3,223 401.7,224.1 401.8,225.3 400.1,224.9 398.4,226.2 399.3,227.2 398.6,228.9 397.4,230.4 396.5,229.3 395.5,227.6 393.3,225.8 390.9,223.7 388.4,221.6 386.3,219.5 384.5,217.4 382.8,215.6 380.6,214.5 377.8,215.6 375,216.6 373.8,216.9 370,218.5 369.4,220.6 368.1,223.1 365,225 362.5,228.1 361.2,231.2 358.8,233.8 355,235 351.9,236.9 349.4,235.6 348.1,233.1 343.8,233.1 342.2,230.6 343.1,226.9 343.5,223.1 344.4,220 343.8,217.2 347.5,216.2 352.5,216.5 358.8,216.2 360,213.8 360.6,210 360,206.9 356.9,205.6 353.8,203.8Z" fill="#081d58" stroke="#76819f" stroke-width="0.35" stroke-linejoin="round"/>
<path d="M372.2,171.2 372.8,175 373.8,178.1 376.9,178.8 380.6,176.9 383.1,177.5 384.4,181.2 386.9,184.4 389.4,185.6 392.5,183.1 394.4,180 395,177.5 396.9,175 395.6,172.5 394.4,170 396.9,166.9 400,165 401.9,163.1 405,161.9 406.9,163.1 405,165 402.5,166.9 401,170.6 402.5,173.8 406.2,175 410.6,174.4 415,173.1 417.5,171.2 419.4,168.8 418.1,165.6 416.2,161.9 414.4,158.1 412.5,155 413.8,151.9 411.9,150 408.1,149.8 402.5,150.6 397.5,151.9 392.5,154.4 388.8,156.9 385.6,160 382.5,163.1 380,166 375.6,168.5Z" fill="#081d58" stroke="#76819f" stroke-width="0.35" stroke-linejoin="round"/>
<path d="M352.5,178.8 356.9,178.1 357.5,180.6 356,183.1 358.8,185 360.6,188.1 363.1,190.6 366.2,193.1 365,195.6 360.6,196.9 356.2,198.1 352.5,199 354.4,196.2 355.6,193.8 353.1,191.9 355,190 353.8,187.5 351.9,184.4 351.5,181.2Z" fill="#081d58" stroke="#76819f" stroke-width="0.35" stroke-linejoin="round"/>
<path d="M343.8,190.6 346.2,188.1 350,187.2 351.9,188.8 351,191.9 348.1,194.4 344.4,195.2Z" fill="#081d58" stroke="#76819f" stroke-width="0.35" stroke-linejoin="round"/>
<path d="M381.9,130 385,128.8 390,129.4 390,136.9 386.9,137.8 383.8,136.9Z" fill="#081d58" stroke="#76819f" stroke-width="0.35" stroke-linejoin="round"/>
<path d="M394.4,132.5 398.8,131.9 398.1,136.5 395,136.2Z" fill="#081d58" stroke="#76819f" stroke-width="0.35" stroke-linejoin="round"/>
<path d="M389.8,230.8 392.6,230.3 395.1,230.1 396.2,230.8 395.8,232.5 395.1,233.6 393,232.9 390.9,232.2Z" fill="#081d58" stroke="#76819f" stroke-width="0.35" stroke-linejoin="round"/>
<path d="M380.3,223.3 382.1,223 383.5,223.7 383.8,226.2 383.1,227.9 381.4,227.9 380.6,226.2Z" fill="#081d58" stroke="#76819f" stroke-width="0.35" stroke-linejoin="round"/>
<path d="M381,218.8 382.4,217.7 382.9,219.5 382.6,221.6 381.4,221.6Z" fill="#081d58" stroke="#76819f" stroke-width="0.35" stroke-linejoin="round"/>
<path d="M414.2,236.8 416.6,237.1 419.5,237.5 419.8,238.3 417.3,238.5 414.5,237.8Z" fill="#081d58" stroke="#76819f" stroke-width="0.35" stroke-linejoin="round"/>
<path d="M433.1,238.1 437.5,236.5 436.9,238.1 434.4,239Z" fill="url(#h)" stroke="#dcdcdc" stroke-width="0.6" stroke-linejoin="round"/>
<path d="M406.2,207.5 410,205.6 415,205 418.8,204.8 421.2,207.5 423.1,210 422.5,213.8 420,214.4 415,215 411.2,214.8 408.1,212.5 406.2,210Z" fill="#1b2a78" stroke="#76819f" stroke-width="0.35" stroke-linejoin="round"/>
<path d="M419,204.4 421.2,205 423.5,208.1 424,211 422.5,210.6 421.2,207.5Z" fill="#253494" stroke="#76819f" stroke-width="0.35" stroke-linejoin="round"/>
<path d="M411.2,215.6 415,215.2 420,214.8 422.5,215 421.9,218.1 421.2,220 418.1,221.9 413.8,221.9 411.9,220.6 411,218.1Z" fill="#1b2a78" stroke="#76819f" stroke-width="0.35" stroke-linejoin="round"/>
<path d="M413.8,151.9 412.5,155 414.4,158.1 416.2,161.9 418.1,165.6 419.4,168.8 417.5,171.2 415.6,173.1 416.5,175.2 415,176.9 415.6,180 415,183.1 417.5,185 421.2,185.6 423.8,188.8 426.2,191.9 425.6,194.4 430,193.8 433.8,196.2 438.8,198.8 443.1,201.2 443.8,202.5 442.5,205.6 440.6,207.8 441.6,209 440.2,210.6 438.1,212.5 441.2,213.8 444.4,215.6 448.1,217.5 450,219 453.8,218.5 457.5,220 461.2,221.2 464.4,222.5 466.9,221.2 465,216.9 462.2,215.6 460,213.1 461.5,210.6 458.8,206.2 457.5,202.5 458.1,199.4 461.2,196.9 466.2,195.6 472.5,196.2 477.5,196.9 481.2,195.6 482.5,192.5 497.7,186.2 503,189.4 510.1,189 515.4,192 522.5,196.4 529.5,197.3 536.6,200.9 540.1,201.7 546.3,198.2 552.5,199.6 556.9,195.6 558.5,194.7 563.8,198.2 570.9,199.1 578,200 585,201.4 592.1,199.1 597.4,200.3 600.1,197.3 599.2,192.9 603.6,191.1 609.8,192 615.1,195.6 620.4,199.1 625.7,201.7 631,204.4 636.3,203.5 637.9,212 635.6,212.3 634.5,213.8 636.4,216.2 637.3,218 637.9,218.5 639.3,217.6 642.1,218.3 644,216.6 645.5,212.9 646.5,209.2 646,203.5 643.3,197.3 638,190.3 631,189.4 624.8,186.7 626.6,180.5 631,177.9 638,176.7 643.3,177 649.5,177 647.8,172.6 651.3,171.3 655.7,173.1 657.5,169.6 660.7,172.6 661,177.9 658.4,180.5 660.1,183.2 664.5,187.6 669.8,192 675.1,196.4 674.8,192 675.1,187.6 673.4,184.1 670.7,180.5 666.3,176.1 671.6,174.4 676.9,174.4 680.4,170.3 685.7,169.1 678.7,165.5 676.9,162.9 669.8,158.5 662.8,154.9 653.9,152.6 646,152.3 648.6,154.9 645.1,154 638,153.2 629.2,153.2 622.1,150.5 611.5,149.6 600.9,147.9 592.1,147 587.7,145.2 588.6,148.4 582.4,147.9 578,150.1 572.7,148.7 568.3,146.1 562.1,144.3 555,145.2 561.3,144.8 552.5,145.2 543.7,144.8 534.8,143.4 538.4,141.7 533.1,139 526,138.1 518.9,136.7 511.9,139 504.8,139.9 497.7,142.6 494.2,147 488,147.9 483.6,146.1 484.5,148.7 488,153.2 489.8,157.6 487.1,158.5 483.6,154 481,150.5 479.2,146.6 474.8,146.1 472.1,148.7 473,153.2 478.3,155.8 471.2,154.4 462.4,153.2 453.6,155.4 446.5,156.7 443.8,157.5 440,155.6 436.9,156.2 438.8,159.4 435,160.6 432.5,163.1 428.8,165 425,163.1 422.5,160 427.5,160 432.5,161.2 433.8,159.4 431.2,156.9 426.2,155 420,153.8Z" fill="#253494" stroke="#76819f" stroke-width="0.35" stroke-linejoin="round"/>
<path d="M446.5,146.1 449.2,141.7 455.3,139 462.4,137.8 467.3,138.1 462.4,139.9 456.2,141.7 452.7,145.2 454.5,149.6 457.1,150.5 451.8,150.1 448.3,148.7Z" fill="#253494" stroke="#76819f" stroke-width="0.35" stroke-linejoin="round"/>
<path d="M493.3,130.7 499.5,129.7 506.6,132 508.3,133.7 503,133.2 496,132.5Z" fill="#253494" stroke="#76819f" stroke-width="0.35" stroke-linejoin="round"/>
<path d="M511,133.7 517.2,134.2 516.3,135.5 511.9,135Z" fill="#253494" stroke="#76819f" stroke-width="0.35" stroke-linejoin="round"/>
<path d="M427.1,130.7 435,130.2 435,131.4 428.8,132Z" fill="#253494" stroke="#76819f" stroke-width="0.35" stroke-linejoin="round"/>
<path d="M573.6,139.9 579.7,139.5 587.7,140.8 586.8,142 579.7,141.7 574.4,141.3Z" fill="#253494" stroke="#76819f" stroke-width="0.35" stroke-linejoin="round"/>
<path d="M589.5,140.8 596.5,141.3 595.6,142.6 590.3,141.7Z" fill="#253494" stroke="#76819f" stroke-width="0.35" stroke-linejoin="round"/>
<path d="M654.8,149.6 658.4,150.1 657.5,150.9Z" fill="#253494" stroke="#76819f" stroke-width="0.35" stroke-linejoin="round"/>
<path d="M639.8,189.4 645.1,192.9 650.4,199.1 652,200.6 653.1,201.8 652,203 650.3,202.5 652.5,205.8 655.8,208.2 657.6,209.6 655.3,209.9 652.9,207.2 650.1,203.9 647.8,200.6 646,197.3 641.6,192.9Z" fill="#253494" stroke="#76819f" stroke-width="0.35" stroke-linejoin="round"/>
<path d="M540.1,201.7 546.3,198.2 552.5,199.6 556.9,195.6 558.5,194.7 563.8,198.2 570.9,199.1 578,200 585,201.4 592.1,199.1 597.4,200.3 600.9,204.4 608,207 604.5,208.8 599.2,210.6 594.8,212.3 593.9,215.9 588.6,219.4 583.3,220.8 576.2,219.4 569.1,217.6 562.1,215.9 555,213.2 551.6,211.5 549,207Z" fill="#1d91c0" stroke="#76819f" stroke-width="0.35" stroke-linejoin="round"/>
<path d="M637.9,218.5 637.4,220.9 636.5,223.2 635.1,225.1 635.5,227.5 637.4,228.9 637.9,230 635.5,230.8 632.7,231.2 630.8,229.8 629.9,227 628,226.1 629.4,224.6 632.2,222.3 635.1,219.9 637.4,218.1Z" fill="#253494" stroke="#76819f" stroke-width="0.35" stroke-linejoin="round"/>
<path d="M635.5,230.8 637.9,230 640.2,231.2 642.6,233.6 643.5,236.4 642.6,238.8 640.2,239.7 637.9,238.8 636.5,235.9 636,233.1Z" fill="url(#h)" stroke="#dcdcdc" stroke-width="0.6" stroke-linejoin="round"/>
<path d="M658.1,219.9 660,219.9 661.4,222.3 663.8,225.1 666.1,227.5 666.6,230.8 666.1,233.6 668,235.9 666.6,238.3 664.2,238.8 661.4,240.2 659.5,241.6 657.2,242.1 654.8,242.5 653.4,243.9 652.5,246.3 650.6,248.2 648.7,246.3 646.8,243.9 648.2,242.1 651.1,239.2 653.9,236.9 656.7,236.4 657.6,232.6 660.5,231.7 661.4,227.9 660.5,225.1 659.1,222.8Z" fill="url(#h)" stroke="#dcdcdc" stroke-width="0.6" stroke-linejoin="round"/>
<path d="M655.8,211 658.6,213.8 661.4,214.8 664.2,214.3 666.6,216.2 665.2,218.5 662.8,219.9 660,219.5 657.6,219 656.2,217.6 656.7,214.3Z" fill="url(#h)" stroke="#dcdcdc" stroke-width="0.6" stroke-linejoin="round"/>
<path d="M633.6,265.1 636.3,263.3 637.2,267.7 635.4,272.1 633.6,269.5Z" fill="url(#h)" stroke="#dcdcdc" stroke-width="0.6" stroke-linejoin="round"/>
<path d="M609.8,278.3 612.4,277.4 614.2,279.2 612.4,281.9 610.1,281Z" fill="#081d58" stroke="#76819f" stroke-width="0.35" stroke-linejoin="round"/>
<path d="M450,219.4 453.8,218.5 457.5,220 461.2,221.2 460,222.8 456.9,223.1 453.8,222.2 450.6,221.5Z" fill="#1b2a78" stroke="#76819f" stroke-width="0.35" stroke-linejoin="round"/>
<path d="M421.5,218.8 422.2,215 424.4,211.9 426.5,209 429.4,208.5 431.2,210 432.2,213.1 435.6,213.5 438.1,212.5 441.2,213.8 444.4,215.6 448.1,217.5 450,219.4 449.8,221.2 447.5,222.2 443.8,222.5 438.8,221.2 435,220.4 431.2,220.2 428.1,221.5 424.4,221.9 422.2,221Z" fill="#fff"/>
<path d="M435.2,209 437.5,208.1 440.6,207.8 441.6,209 440.2,210.6 437.5,211.2 435.6,210.6Z" fill="#fff"/>
<path d="M460,213.1 461.5,210.6 464.4,208.8 468.1,207.8 471.5,208.5 471.9,210.2 469.4,211 468.1,212.5 469.4,215 471.2,216.9 473.8,219.4 476.2,220.6 478.1,222.5 475.6,223.5 473.1,222.8 472.5,225 475,227.5 477.5,230 478.8,233.1 475,233.8 471.2,232.5 468.5,230 467.5,226.9 468.5,224.4 469.4,222.2 467.5,219.4 465,216.9 462.2,215.6Z" fill="#fff"/>
<path d="M459.4,227.5 462.5,226.9 466.2,228.1 468.1,226.9 468.8,230 471.2,232.5 475,233.8 478.5,233.1 482.5,230.6 486.2,231.2 490,233.1 493.8,234.4 496.9,236.9 495.6,241.2 496.2,245 498.5,248.1 498.1,251.9 501.2,253.8 503.1,257.5 503.8,260 501.2,261.9 501.9,263.8 496.2,263.8 490.6,261.2 488.8,259 485,260 481.2,260 478.1,258.1 475,255 473.1,251.9 470,251 467.5,247.5 465.6,243.8 463.1,241.2 462.8,238.1 463.8,235.6 461.2,231.9Z" fill="#1b2a78" stroke="#76819f" stroke-width="0.35" stroke-linejoin="round"/>
<path d="M495.6,238.1 498.1,236.9 502.5,235.6 506.2,234.4 510,233.1 513.1,231.9 515,229.4 516.9,231.2 517.5,233.1 522.5,231.9 524.4,233.5 520,235 518.1,237.5 518.8,241.2 516.9,243.8 515,246.9 511.2,248.1 508.8,251.2 505,253.1 501.2,253.1 498.5,252.2 498.5,248.1 496.2,245 495.6,241.2Z" fill="#41b6c4" stroke="#8f937c" stroke-width="0.35" stroke-linejoin="round"/>
<path d="M498.5,252.2 501.2,253.1 505,253.1 508.8,251.2 511.2,248.1 515,246.9 516.9,243.8 518.8,241.2 518.1,237.5 520,235 524.4,233.5 528.1,234.4 530,236.9 528.8,238.8 525,240 525.6,242.5 527.5,245.6 526.2,249.4 524.4,253.1 522.5,256.2 519.4,258.1 518.1,260 520,263.1 522.5,266.2 519.4,266.9 516.2,267.5 512.5,264.4 507.5,263.8 501.9,263.8 501.2,261.9 503.8,260 503.1,257.5 501.2,253.8Z" fill="#225ea8" stroke="#76819f" stroke-width="0.35" stroke-linejoin="round"/>
<path d="M525,240 528.8,238.8 531.2,237.9 533.8,238.8 536.2,241.9 536.9,245.6 540,248.8 543.1,250.6 543.8,250.6 548.1,252.5 552.5,255 557.5,256.2 560.6,256.9 561.2,256.9 562.5,256.2 568.1,256.2 570,254.4 573.1,253.1 576.9,253.8 579.4,255.6 577.5,257.5 575.6,260 575,264.4 573.8,268.1 571.9,269.4 570.6,268.1 570,265.6 567.5,264.4 563.8,261.9 561.2,261.5 561.9,265 563.1,268.8 564.4,271.9 562.5,272.8 560,273.8 556.9,276.9 553.8,280 551.2,283.8 548.1,287.5 546,290.6 546.5,295 546.2,299.4 545,303.8 543.8,306.2 541.9,308.8 540.6,307.5 538.1,302.5 535.6,297.5 532.5,291.2 530,285 528.1,278.8 526.9,274.4 523.1,275 520,273.1 518.8,270 519.4,270.6 517.5,268.5 519.4,266.9 522.5,266.2 520,263.1 518.1,260 519.4,258.1 522.5,256.2 524.4,253.1 526.2,249.4 527.5,245.6 525.6,242.5Z" fill="#1b2a78" stroke="#76819f" stroke-width="0.35" stroke-linejoin="round"/>
<path d="M541.9,251.9 543.8,250.6 548.1,252.5 552.5,255 557.5,256.2 560.6,256.9 560.6,260.6 558.8,261 553.8,260 549.4,258.8 545,256.9 541.9,255Z" fill="#1b2a78" stroke="#76819f" stroke-width="0.35" stroke-linejoin="round"/>
<path d="M562.5,256.2 568.1,256.2 568.5,258.5 565,259 562.5,258.5Z" fill="#081d58" stroke="#76819f" stroke-width="0.35" stroke-linejoin="round"/>
<path d="M561.2,261.5 563.8,261.9 567.5,264.4 570,265.6 570.6,268.1 571.9,269.4 572.5,273.8 570.6,271.9 569.4,268.8 568.1,270.6 566.9,272.5 564.4,271.9 563.1,268.8 561.9,265Z" fill="#225ea8" stroke="#76819f" stroke-width="0.35" stroke-linejoin="round"/>
<path d="M546.9,305 548.8,304.4 550.6,307.5 551.2,311.2 550,313.8 548.1,314 546.9,311.9 546.2,308.1Z" fill="#081d58" stroke="#76819f" stroke-width="0.35" stroke-linejoin="round"/>
<path d="M461.2,286.2 465,285 470,284.4 475,281.9 480,280 483.8,286.2 480,288.8 473.8,291.9 467.5,294.4 462.5,296.2 461.9,291.2Z" fill="#41b6c4" stroke="#8f937c" stroke-width="0.35" stroke-linejoin="round"/>
<path d="M575,264.4 575.6,260 577.5,257.5 579.4,255.6 581.2,256.9 583.1,258.8 583.5,263.1 582.5,266.9 586.2,270 590,273.1 592.5,273.8 590,276.2 587.5,277.5 585.6,280 584.2,282.7 585.9,288 587.2,294.2 588.6,299.5 589.5,296.9 588.2,291.6 586.8,284.5 585,279.2 582.9,287.2 578.9,288 578.1,287.5 579.4,284.4 578.8,281.2 576.9,278.1 574.4,275.6 572.5,273.8 571.9,269.4 573.8,268.1Z" fill="#253494" stroke="#76819f" stroke-width="0.35" stroke-linejoin="round"/>
<path d="M590.3,273 593,271.3 596.5,272.1 599.2,274.8 598.3,277.4 601.8,281 605.4,285.4 608,289.8 607.1,292.5 603.6,291.6 601.8,291.6 602.7,288 600.1,284.5 594.8,282.7 592.1,281 590.3,276.6Z" fill="#1b2a78" stroke="#76819f" stroke-width="0.35" stroke-linejoin="round"/>
<path d="M596.5,272.1 600.1,269.5 604.5,271.3 605.4,275.7 604.5,278.3 602.7,280.1 605.4,283.6 608.9,288 611.5,293.3 612.4,298.6 609.8,303.1 605.4,306.6 603.6,304.8 606.2,301.3 608,296.9 607.1,292.5 608,289.8 605.4,285.4 601.8,281 598.3,277.4 599.2,274.8Z" fill="#081d58" stroke="#76819f" stroke-width="0.35" stroke-linejoin="round"/>
<path d="M598.3,292.5 601.8,291.6 607.1,292.5 608,296.9 606.2,301.3 601.8,302.2 598.3,299.5 597,296.9Z" fill="#253494" stroke="#76819f" stroke-width="0.35" stroke-linejoin="round"/>
<path d="M637.2,281.9 640.7,281.3 641.9,285.4 640.7,288.9 642.5,292.5 646,296 650.4,297.8 651.3,301.3 648.6,300.4 645.1,298.6 642.5,296.9 639.8,293.3 638,289.8 636.6,286.3Z" fill="#1b2a78" stroke="#76819f" stroke-width="0.35" stroke-linejoin="round"/>
<path d="M638,291.8 640.7,292.7 643.3,296.2 646,298 647.7,297.1 650.4,298.8 651.3,302.4 648.6,303.3 646,305 643.3,302.4 642.4,298.8 639.8,296.2Z" fill="#1b2a78" stroke="#76819f" stroke-width="0.35" stroke-linejoin="round"/>
<path d="M643.3,308.6 647.7,306.8 651.3,305 653,307.7 653.9,312.1 652.2,314.7 649.5,313 646.9,311.2 644.2,311.2Z" fill="#1b2a78" stroke="#76819f" stroke-width="0.35" stroke-linejoin="round"/>
<path d="M632.2,307.7 636.3,301.5 638,300.6 637.1,302.7 633.3,308Z" fill="#1b2a78" stroke="#76819f" stroke-width="0.35" stroke-linejoin="round"/>
<path d="M582.4,316.5 586.8,315.6 592.1,319.2 597.4,324.5 601.8,329.8 606.2,335.1 608,339.5 607.1,343.9 604.5,344.8 600.9,341.2 596.5,335.9 592.1,329.8 587.7,323.6 584.1,319.2Z" fill="#1b2a78" stroke="#76819f" stroke-width="0.35" stroke-linejoin="round"/>
<path d="M606.2,345.7 610.6,345.1 617.7,346.5 623.9,349.2 628.3,351 627.4,352.7 621.2,351.8 614.2,351 608,349.2Z" fill="#1b2a78" stroke="#76819f" stroke-width="0.35" stroke-linejoin="round"/>
<path d="M631.8,351.8 636.3,351 636.8,352.7 632.2,353.3Z" fill="#1b2a78" stroke="#76819f" stroke-width="0.35" stroke-linejoin="round"/>
<path d="M638.6,351.5 645.1,351 645.6,352.2 638.9,352.9Z" fill="#1b2a78" stroke="#76819f" stroke-width="0.35" stroke-linejoin="round"/>
<path d="M637.1,354.5 639.8,355.4 639.3,356.8 636.8,355.7Z" fill="#1b2a78" stroke="#76819f" stroke-width="0.35" stroke-linejoin="round"/>
<path d="M646.3,355.7 650.4,352.7 652.2,352.2 651.3,355 647.7,356.8Z" fill="#1b2a78" stroke="#76819f" stroke-width="0.35" stroke-linejoin="round"/>
<path d="M650.4,352.7 655.7,351.5 654.8,352.7 651.6,354Z" fill="#225ea8" stroke="#76819f" stroke-width="0.35" stroke-linejoin="round"/>
<path d="M615.1,326.2 616.8,324.5 617.3,327.5 620.4,327.1 624.8,325.3 630.1,322.7 631.8,319.2 634.5,318.3 635.4,322.7 636.8,327.1 634.5,329.8 633.6,334.2 631,338.6 627.4,340.4 623,338.6 617.7,337.7 615.6,333.3 614.2,328.9Z" fill="#1b2a78" stroke="#76819f" stroke-width="0.35" stroke-linejoin="round"/>
<path d="M616.8,324.5 623,321.8 628.3,316.5 631.8,312.1 635.4,314.7 637.1,316.5 634.5,318.3 631.8,319.2 630.1,322.7 624.8,325.3 620.4,327.1 617.3,327.5Z" fill="#081d58" stroke="#76819f" stroke-width="0.35" stroke-linejoin="round"/>
<path d="M640.7,328 646,327.1 651.3,325.3 651.6,327.1 646.9,329.2 643.3,330.3 647.7,332.4 644.2,334.2 645.1,337.7 646.9,342.1 645.1,343.9 642.4,340.4 640.7,336.8 639.8,341.2 640.3,343.9 638,343.9 637.1,337.7 638,333.3 639.8,330.6Z" fill="#1b2a78" stroke="#76819f" stroke-width="0.35" stroke-linejoin="round"/>
<path d="M657.5,324.5 659.2,325.3 659.8,329.8 658.3,331.5 657.1,328Z" fill="#1b2a78" stroke="#76819f" stroke-width="0.35" stroke-linejoin="round"/>
<path d="M653,337.7 656.6,337.3 656.9,338.8 653.4,339.1Z" fill="#1b2a78" stroke="#76819f" stroke-width="0.35" stroke-linejoin="round"/>
<path d="M658.3,336.8 663.6,337.3 664.5,339.1 659.2,338.6Z" fill="#1b2a78" stroke="#76819f" stroke-width="0.35" stroke-linejoin="round"/>
<path d="M664.5,332 668.9,330.6 672.5,332.4 673.4,335.1 676,336.3 680.4,334.2 684.8,334.5 688,336.8 687.5,352.7 683.1,351.8 679.5,351.5 681,349.2 679.2,346.5 676,343 673.4,340.4 669.8,338.6 668.1,335.1Z" fill="#1b2a78" stroke="#76819f" stroke-width="0.35" stroke-linejoin="round"/>
<path d="M671.6,344.4 673.4,343.9 673,347.4 671.6,346.9Z" fill="#1b2a78" stroke="#76819f" stroke-width="0.35" stroke-linejoin="round"/>
<path d="M688,336.8 691.9,337.7 696.3,340.4 700.7,343.9 703.4,346.5 700.7,348.3 702.5,351.8 706,355 709.2,357.1 706,357.5 701.6,355 698.1,351.8 694.6,351 691,351.8 687.5,352.7Z" fill="#edf8b1" stroke="#8f937c" stroke-width="0.35" stroke-linejoin="round"/>
<path d="M704.6,344.8 708.7,343.9 712.8,342.1 714.2,339.8 712.8,337 714,337 715.6,340.2 713.8,343.4 709.6,345.1 705.2,345.8Z" fill="#edf8b1" stroke="#8f937c" stroke-width="0.35" stroke-linejoin="round"/>
<path d="M614.1,418 616.8,413.6 617.7,406.5 616.8,397.7 618.6,390.6 621.2,386.2 629.2,382.7 637.1,380 641.5,374.7 646.8,369.4 653,366.8 658.3,365.9 661.8,361.5 667.1,359.7 672.4,361.5 676,361.5 674.2,366.8 677.7,370.3 682.2,373 684.8,372.1 686.6,365.9 688.3,359.7 690.1,358 691.9,362.4 693.3,367.7 695.4,373 696.3,378.3 699.8,383.6 703.4,388.9 705.7,394.2 706,400.4 704.2,406.5 700.7,412.7 696.3,418 691,422.4 686.6,426.9 680.4,430.4 676,431.6 670.7,430.4 665.4,427.7 664.5,422.4 661,420.7 658.3,418 657.4,414.5 652.1,412.2 644.2,412.7 638,414.5 631.8,417.1 624.7,418 618.6,421 615.5,420.7Z" fill="url(#h)" stroke="#dcdcdc" stroke-width="0.6" stroke-linejoin="round"/>
<path d="M668,437.5 672.4,436.2 676.9,436.6 675.1,440.1 671.6,442.8 668,443.3 667.1,440.1Z" fill="url(#h)" stroke="#dcdcdc" stroke-width="0.6" stroke-linejoin="round"/>
<path d="M739.6,419.8 741.3,421.6 741.7,425.1 744,427.7 746.6,428.6 744,431.3 740.5,433 736.9,435.7 733.4,438 732.2,436.6 734.3,433 736.9,430.4 739.2,426.9 738.7,422.4Z" fill="#081d58" stroke="#76819f" stroke-width="0.35" stroke-linejoin="round"/>
<path d="M705.7,448.9 708.7,446.3 714.8,443.6 721.9,440.1 727.2,436.9 730.4,435.7 731.1,437.5 727.2,441 722.8,443.6 717.5,446.8 712.2,449.8 708.1,451.6 706,450.7Z" fill="#081d58" stroke="#76819f" stroke-width="0.35" stroke-linejoin="round"/>
<path d="M743.5,368 745.2,367.7 745.6,372.6 744,373Z" fill="#41b6c4" stroke="#8f937c" stroke-width="0.35" stroke-linejoin="round"/>
<path d="M733.9,382.7 735.7,381.8 740.5,387.1 739.2,388.5Z" fill="url(#h)" stroke="#dcdcdc" stroke-width="0.6" stroke-linejoin="round"/>
<path d="M351.9,236.9 355,236.2 358.8,238.1 360,241.2 360.6,244.4 358.8,246.2 355,248.1 351.9,250.6 347.5,252.5 344.4,253.8 343.1,256.9 343.1,257.8 333.8,257.8 338.1,254.4 341.2,250 341.9,248.8 345,243.1 348.8,239.4Z" fill="#253494" stroke="#76819f" stroke-width="0.35" stroke-linejoin="round"/>
<path d="M358.8,238.1 365,235 372.5,233.8 380,233.5 381.2,233.8 380.2,237.5 379.4,241.2 381.9,245 383.8,248.8 384.4,253.8 385,258.8 384.4,262.5 386.9,265.6 390,268.1 390,268.8 380,275.6 371.2,280 362.5,273.1 351.2,264.8 343.5,259.4 343.1,257.8 343.8,254.4 346.2,252.5 351.2,250.6 351.9,250.6 355,248.1 358.8,246.2 360.6,244.4 360,241.2Z" fill="#253494" stroke="#76819f" stroke-width="0.35" stroke-linejoin="round"/>
<path d="M381.2,233.5 384.4,232.5 386.9,233.8 386.2,236.9 387.5,239.4 386.9,243.1 388.1,245 386.2,246.9 384.4,250 383.8,248.8 381.9,245 379.4,241.2 380.2,237.5Z" fill="#081d58" stroke="#76819f" stroke-width="0.35" stroke-linejoin="round"/>
<path d="M388.1,245 392.5,244.4 398.8,247.5 403.8,249.4 407.5,247.5 408.1,245 412.5,244.4 418.1,246.2 418.8,250 418.5,270 419,272.5 418.5,277.8 396.2,268.8 396.2,270.6 390,268.8 390,268.1 386.9,265.6 384.4,262.5 385,258.8 384.4,253.8 384.4,250 386.2,246.9Z" fill="url(#h)" stroke="#dcdcdc" stroke-width="0.6" stroke-linejoin="round"/>
<path d="M418.8,247.8 425,248.8 431.2,248.5 436.2,247.8 439,248.5 441.1,249.8 441.5,254.4 440.9,258.1 439,255.2 437.5,255 440,260 443.1,265 445,268.8 446.9,272.5 419,272.5 418.5,270Z" fill="#081d58" stroke="#76819f" stroke-width="0.35" stroke-linejoin="round"/>
<path d="M324.4,273.8 325.6,270 328.8,265 331.9,260.6 333.8,257.8 343.1,257.8 343.5,261.9 340,262.5 336.9,263.1 336.2,268.1 333.8,269.4 333.5,273.8Z" fill="url(#h)" stroke="#dcdcdc" stroke-width="0.6" stroke-linejoin="round"/>
<path d="M324.4,273.8 333.5,273.8 333.8,269.4 336.2,268.1 336.9,263.1 340,262.5 343.5,261.9 343.5,259.4 351.2,264.8 349,265 350,277.5 350.6,289 342.5,289.8 336.2,290.6 334.4,288.8 330.6,286.5 327.5,286.9 324.8,287.5 325.6,283.1 325.2,278.1Z" fill="#c7e9b4" stroke="#8f937c" stroke-width="0.35" stroke-linejoin="round"/>
<path d="M349,265 351.2,264.8 362.5,273.1 371.2,280 372.2,286.2 370,288.8 363.8,290.2 360,291.2 356.2,293.8 353.1,296.2 351.2,299.4 350,302.5 346.9,302.8 344.4,300 343.1,298.1 340,298.5 336.9,297.5 335.6,292.5 336.2,290.6 342.5,289.8 350.6,289 350,277.5Z" fill="#7fcdbb" stroke="#8f937c" stroke-width="0.35" stroke-linejoin="round"/>
<path d="M371.2,280 380,275.6 390,268.8 396.2,270.6 397.5,274.4 398.1,280 396.9,286.2 395,290 394.4,293.1 395.6,295.2 392.5,294.8 386.2,295.2 380,295 376.2,293.5 372.5,294.4 371,297.5 368.8,298.1 366.9,296.9 365,293.8 363.8,290.2 370,288.8 372.2,286.2Z" fill="#ffffd9" stroke="#8f937c" stroke-width="0.35" stroke-linejoin="round"/>
<path d="M323.1,291.2 325.6,288.1 328.8,286.5 330.6,286.5 334.4,288.8 335.6,292.5 336.9,297.5 331.2,297.2 327.5,296.9 324.8,296.9 324.4,295 323.1,293.1Z" fill="#1d91c0" stroke="#76819f" stroke-width="0.35" stroke-linejoin="round"/>
<path d="M324.4,293.8 330.6,293.4 330.8,294.5 324.5,294.9Z" fill="#c7e9b4" stroke="#8f937c" stroke-width="0.35" stroke-linejoin="round"/>
<path d="M325,297.5 328.8,297.2 331.5,298.1 330,300 327.5,300.2Z" fill="#edf8b1" stroke="#8f937c" stroke-width="0.35" stroke-linejoin="round"/>
<path d="M330,300 331.5,298.1 336.9,297.5 340,298.5 343.1,298.1 344.4,300 343.8,303.8 344.4,307.5 342.5,308.8 340,306.9 338.1,304.4 335,303.5 333.1,305 331.2,302.5Z" fill="#c7e9b4" stroke="#8f937c" stroke-width="0.35" stroke-linejoin="round"/>
<path d="M333.1,305 335,303.5 338.1,304.4 339.4,306.9 337.5,310.6 335,311.2 333.1,308.8Z" fill="#edf8b1" stroke="#8f937c" stroke-width="0.35" stroke-linejoin="round"/>
<path d="M337.5,310.6 339.4,306.9 341.2,308.1 342.5,308.8 343.5,312.5 345.6,315 345.2,318.1 342.5,316.9 339.4,313.8Z" fill="#edf8b1" stroke="#8f937c" stroke-width="0.35" stroke-linejoin="round"/>
<path d="M344.4,307.5 343.8,303.8 346.9,302.8 350,302.5 352.5,303.8 355.6,303.1 356.2,307.5 355.6,312.5 356.2,315.6 351.2,316.2 347.5,316.9 345.2,318.1 345.6,315 343.5,312.5 342.5,308.8Z" fill="#c7e9b4" stroke="#8f937c" stroke-width="0.35" stroke-linejoin="round"/>
<path d="M351.2,299.4 353.1,296.2 356.2,293.8 360,291.2 363.8,290.2 365,293.8 366.9,296.9 368.8,298.1 366.2,300 363.8,300.6 360,300.2 356.9,300.6 355.6,303.1 352.5,303.8 350,302.5Z" fill="#c7e9b4" stroke="#8f937c" stroke-width="0.35" stroke-linejoin="round"/>
<path d="M355.6,303.1 356.9,300.6 360,300.2 363.8,300.6 364.4,305 365,310 365.6,313.8 362.5,315 358.8,316.2 356.2,315.6 355.6,312.5 356.2,307.5Z" fill="#c7e9b4" stroke="#8f937c" stroke-width="0.35" stroke-linejoin="round"/>
<path d="M363.8,300.6 366.2,300 366.9,305 367.5,310 367.8,313.8 365.6,313.8 365,310 364.4,305Z" fill="#edf8b1" stroke="#8f937c" stroke-width="0.35" stroke-linejoin="round"/>
<path d="M366.2,300 368.8,298.1 371,297.5 371.5,301.2 370.6,305 370,309.4 369.8,313.1 367.8,313.8 367.5,310 366.9,305Z" fill="#edf8b1" stroke="#8f937c" stroke-width="0.35" stroke-linejoin="round"/>
<path d="M371,297.5 372.5,294.4 376.2,293.5 380,295 386.2,295.2 392.5,294.8 395.6,295.2 396.2,298.8 393.8,303.8 391.2,308.8 387.5,311.9 385,312.5 382.5,316.2 380,318.1 376.2,318.5 374.4,315.6 372.5,313.1 369.8,313.1 370,309.4 370.6,305 371.5,301.2Z" fill="#7fcdbb" stroke="#8f937c" stroke-width="0.35" stroke-linejoin="round"/>
<path d="M395.6,295.2 397.5,300 397.8,302.5 396.9,306.2 398.8,308.8 396.9,312.5 397.5,316.9 400,320 399.4,321.2 398.8,323.5 395,324 390,323.5 385,323.5 383.1,321.9 382.5,318.8 383.1,315 383.1,316.2 385,312.5 387.5,311.9 391.2,308.8 393.8,303.8 396.2,298.8Z" fill="#c7e9b4" stroke="#8f937c" stroke-width="0.35" stroke-linejoin="round"/>
<path d="M396.2,268.8 418.5,277.8 417.5,278.1 417.2,288.8 415.6,290.6 413.8,293.8 414.4,297.5 416,301.2 412.5,303.8 408.8,306.5 405.6,308.5 401.9,309.8 398.8,308.8 396.9,306.2 397.8,302.5 395,298.8 394.4,295 395,290 396.9,286.2 397.8,280 398.1,274.4Z" fill="#ffffd9" stroke="#8f937c" stroke-width="0.35" stroke-linejoin="round"/>
<path d="M419,272.5 446.9,272.8 447.8,278.1 449.8,282.2 447.5,284.4 446.5,288.8 445.6,292.5 443.8,297.5 441.5,302.5 439.4,299.4 438.8,298.1 436.9,298.8 435.6,303.1 431.2,304.8 426.2,305 422.5,303.1 420.6,303.8 418.8,306.5 416.9,305 416,301.2 414.4,297.5 413.8,293.8 415.6,290.6 417.2,288.8 417.5,278.1 418.5,277.8Z" fill="#1d91c0" stroke="#76819f" stroke-width="0.35" stroke-linejoin="round"/>
<path d="M396.9,312.5 398.8,308.8 401.9,309.8 405.6,308.5 408.8,306.5 412.5,303.8 416,301.2 416.9,305 418.8,306.5 421.9,311.2 425.6,315 425,316.2 418.8,316.9 414.4,318.1 410,317.5 405.6,319.4 402.5,320.6 400,320 397.5,316.9Z" fill="#ffffd9" stroke="#8f937c" stroke-width="0.35" stroke-linejoin="round"/>
<path d="M418.8,306.5 420.6,303.8 422.5,303.1 426.2,305 431.2,304.8 435.6,303.1 436.9,298.8 438.8,298.1 439.4,299.4 441.5,302.5 440.6,306.2 439.4,308.8 441.9,312.5 444.4,315 441.9,318.1 438.1,319.4 433.8,319.4 430,318.1 427.5,316.9 425.6,315 421.9,311.2Z" fill="#ffffd9" stroke="#8f937c" stroke-width="0.35" stroke-linejoin="round"/>
<path d="M441.5,302.5 443.8,297.5 445.6,292.5 447.5,291.9 452.5,291.9 456.2,293.8 459.4,296.9 461.9,298.1 461.2,301.2 463.8,303.8 468.8,307.5 472.5,310 470,313.1 465,316.9 460,318.1 455,319.8 451.2,320 448.1,318.1 444.4,315 441.9,312.5 439.4,308.8 440.6,306.2Z" fill="#ffffd9" stroke="#8f937c" stroke-width="0.35" stroke-linejoin="round"/>
<path d="M446.5,288.8 447.5,284.4 449.8,283.5 451.9,286.9 455,290 458.8,294.4 461.9,296.9 461.9,298.1 459.4,296.9 456.2,293.8 452.5,291.9 447.5,291.9 445.6,292.5Z" fill="#ffffd9" stroke="#8f937c" stroke-width="0.35" stroke-linejoin="round"/>
<path d="M459.4,297.5 461.9,296.9 462.5,299.4 461.2,301.2 459.4,300Z" fill="#c7e9b4" stroke="#8f937c" stroke-width="0.35" stroke-linejoin="round"/>
<path d="M462.5,299.4 465,301.9 471.2,300.6 477.5,299 480,298.1 480.2,301.2 478.8,306.2 476.2,311.2 473.1,316.2 470.6,320.6 469,323.8 470,323.8 465,328.8 460.6,333.1 458.1,334.4 457.5,328.8 458.1,322.5 458.8,319.4 460,318.1 465,316.9 470,313.1 472.5,310 468.8,307.5 463.8,303.8 461.2,301.2Z" fill="#7fcdbb" stroke="#8f937c" stroke-width="0.35" stroke-linejoin="round"/>
<path d="M441.9,318.1 444.4,315 448.1,318.1 451.2,320 455,319.8 460,318.1 458.1,322.5 457.5,328.8 458.1,334.4 456.2,337.5 453.1,341.9 450,338.8 445,334.4 441.2,332.5 442.5,327.5 443.1,322.5 442.5,318.8Z" fill="#41b6c4" stroke="#8f937c" stroke-width="0.35" stroke-linejoin="round"/>
<path d="M433.8,320 438.1,320 442.5,318.8 443.1,322.5 442.5,327.5 441.2,332.5 435,332.8 431.9,332.5 432.5,328.8 434.4,325Z" fill="#c7e9b4" stroke="#8f937c" stroke-width="0.35" stroke-linejoin="round"/>
<path d="M430.6,333.8 433.8,333.1 434.4,335.6 431.9,337.2 430.2,336.2Z" fill="#081d58" stroke="#76819f" stroke-width="0.35" stroke-linejoin="round"/>
<path d="M430.6,337.5 433.8,336.9 434,339.4 432.2,341.5 430.6,340.6Z" fill="#1d91c0" stroke="#76819f" stroke-width="0.35" stroke-linejoin="round"/>
<path d="M435,332.8 441.2,332.5 445,334.4 450,338.8 453.1,341.9 453.5,346.2 453.1,350 455,354.4 455.6,357.5 451.9,358.8 446.2,360 441.9,359.4 440,355 436.2,352.5 433.1,351.2 431.2,346.9 431.2,341.9 434,339.4 434.4,335.6Z" fill="#c7e9b4" stroke="#8f937c" stroke-width="0.35" stroke-linejoin="round"/>
<path d="M405.6,319.4 407.5,317.5 412.5,318.1 417.5,316.9 421.2,316.2 425,315.6 430,318.1 433.8,320 434.4,325 432.5,328.8 431.9,332.5 430.6,333.8 430.2,336.2 430.6,340.6 431.2,341.9 431.2,346.9 433.1,351.2 430,351.9 428.1,355 428.8,359.4 430.6,362.5 429.4,364.4 426.9,362.5 423.8,360.6 420,358.8 417.5,358.1 414.4,357.5 413.8,353.1 413.1,348.8 410,347.5 406.2,350 403.1,349.4 401.2,346.2 400.6,345 396.9,345 392.5,345.2 391.2,343.8 396.9,342.8 399.4,339.4 401,335 402.8,331.2 404.4,326.2 405,322.5Z" fill="#edf8b1" stroke="#8f937c" stroke-width="0.35" stroke-linejoin="round"/>
<path d="M399.4,321.2 402.5,320.6 405.6,319.4 405,322.5 404.4,326.2 402.8,331.2 401,335 399.4,339.4 396.9,342.8 393.8,341.9 391.2,342.5 388.8,340 391.2,336.9 394.4,335.6 396.2,333.8 395.6,330 394.4,326.2 393.8,324.4 398.8,323.5Z" fill="#ffffd9" stroke="#8f937c" stroke-width="0.35" stroke-linejoin="round"/>
<path d="M388.8,323.5 394,324 394.4,326.2 395.6,330 396.2,333.8 394.4,335.6 391.2,336.9 388.8,340 385.6,336.9 383.1,332.5 383.8,328.1 384.8,326.9 388.8,326.9Z" fill="#c7e9b4" stroke="#8f937c" stroke-width="0.35" stroke-linejoin="round"/>
<path d="M385,324 388.8,324 388.8,326.9 385,326.9Z" fill="#1d91c0" stroke="#76819f" stroke-width="0.35" stroke-linejoin="round"/>
<path d="M391.2,345.6 396.9,345 400.6,345 401.2,346.2 403.1,349.4 406.2,350 410,347.5 413.1,348.8 413.8,353.1 414.4,357.5 417.5,358.1 416.9,362.5 413.5,363.1 413.1,368.8 414.4,372.5 416.9,375 412.5,376.2 407.5,375.6 400,375 393.8,374.8 390,374.4 389.8,370 391.9,363.8 393.8,358.1 393.1,352.5 391.9,348.1Z" fill="#c7e9b4" stroke="#8f937c" stroke-width="0.35" stroke-linejoin="round"/>
<path d="M389.8,340.6 391.5,342.8 390.6,344.4 389.4,343.1Z" fill="#c7e9b4" stroke="#8f937c" stroke-width="0.35" stroke-linejoin="round"/>
<path d="M413.5,363.1 416.9,362.5 417.5,358.1 420,358.8 423.8,360.6 426.9,362.5 429.4,364.4 430.6,362.5 428.8,359.4 428.1,355 430,351.9 433.1,351.2 436.2,352.5 438.5,355 438.8,360 438.1,363.8 437.5,366.2 433.8,368.1 431.2,370.6 427.5,373.1 424.4,375.6 420,375 416.9,375 414.4,372.5 413.1,368.8Z" fill="#7fcdbb" stroke="#8f937c" stroke-width="0.35" stroke-linejoin="round"/>
<path d="M438.5,354.4 440.6,355 441.9,359.4 442.5,363.8 444.4,367.5 444.8,371.2 443.1,373.1 441.5,371.2 441,367.5 438.1,365.6 438.5,362.5 439,358.8Z" fill="#41b6c4" stroke="#8f937c" stroke-width="0.35" stroke-linejoin="round"/>
<path d="M441.9,359.4 446.2,360 451.9,358.8 455.6,357.5 456.2,362.5 455.6,367.5 453.1,371.2 450,374.4 446.2,378.1 443.8,381.2 445,379.4 442.5,382.5 441.9,385 443.1,388.1 442.5,392.5 440,394.4 436.9,396.2 435.6,399.4 434.4,400 433.8,396.9 434,392.5 433.8,388.8 431.9,387.8 435,386.2 436.9,382.5 437.8,377.5 436.9,374.4 433.8,371.9 436.2,371.9 433.8,370 431.2,370.6 433.8,368.1 437.5,366.2 438.1,365.6 441,367.5 441.5,371.2 443.1,373.1 444.8,371.2 444.4,367.5 442.5,363.8Z" fill="#c7e9b4" stroke="#8f937c" stroke-width="0.35" stroke-linejoin="round"/>
<path d="M420.6,376.9 422.5,375 426.2,374.4 430,371.2 433.8,371.9 436.9,374.4 437.8,377.5 436.9,382.5 435,386.2 431.9,387.8 428.8,387.5 425.6,385 422.5,381.2Z" fill="#7fcdbb" stroke="#8f937c" stroke-width="0.35" stroke-linejoin="round"/>
<path d="M410.6,377.5 413.8,376.2 418.8,376 420.6,376.9 422.5,381.2 425.6,385 428.8,387.5 426.2,389.4 423.1,391.9 420.6,396.2 416.2,396.9 414.4,396.2 411.9,399.4 409.4,400 408.5,395.6 408.1,387.5 410,386.2Z" fill="#1d91c0" stroke="#76819f" stroke-width="0.35" stroke-linejoin="round"/>
<path d="M389.4,370 390,374.4 395,375.2 405,375.6 410.6,375.2 413.8,376 410.6,377.5 410,386.2 408.1,387.5 408.5,395.6 407.8,400 406.9,405 404.4,405.6 400,404 397.5,398.8 395.6,392.5 393.1,385 390.6,378.8 389,373.8Z" fill="#c7e9b4" stroke="#8f937c" stroke-width="0.35" stroke-linejoin="round"/>
<path d="M400,404 404.4,405.6 406.9,405 407.8,400 409.4,400 411.9,399.4 414.4,396.2 416.2,396.9 420.6,396.2 423.1,391.9 426.2,389.4 428.8,387.5 431.9,387.8 433.8,388.8 434,392.5 433.8,396.9 434.4,400 435.6,400 435,403.1 433.1,406.9 430,410.6 426.2,414.4 421.9,417.2 416.9,418.5 411.2,418.8 406.9,420 404.4,420 402.5,418.1 403.1,413.8 401.9,410 400.6,406.9Z" fill="#253494" stroke="#76819f" stroke-width="0.35" stroke-linejoin="round"/>
<path d="M423.1,406.9 425.6,404.4 428.1,405.6 427.5,408.1 425,410 423.5,409Z" fill="#41b6c4" stroke="#8f937c" stroke-width="0.35" stroke-linejoin="round"/>
<path d="M461.2,385 463.8,377.5 465,373.8 470,371.2 475,370 477.5,370 476.9,373.8 475,380 472.5,386.2 470,391.9 467.5,395.6 464.4,396.5 461.9,394.4 461,390Z" fill="#edf8b1" stroke="#8f937c" stroke-width="0.35" stroke-linejoin="round"/>
<path d="M476.2,361.2 478.2,367.5 477,375 473.8,383.8 470,392.5 466.2,396.2 462.5,395.5 460.8,390 462.5,382.5 465,376.2 468.8,372.5 472,367.5 474.5,362.5Z" fill="#edf8b1" stroke="#8f937c" stroke-width="0.35" stroke-linejoin="round"/>
<path d="M431.2,209 433.1,208.1 436.2,208.5 437.5,210.2 440,211 439,212.2 436.2,212 433.5,212.8 431.9,211.2Z" fill="#081d58" stroke="#76819f" stroke-width="0.35" stroke-linejoin="round"/>
<path d="M383.8,180.3 384.8,177.2 385.2,173.3 384.5,169.8 385.2,166.6 387.3,163.4 389.4,159.9 391.9,157.1 394.7,155.3 398.2,153.5 401.1,154.2 403.2,156 403.5,158.5 403.2,161.6" fill="none" stroke="#7a85a1" stroke-width="0.45" stroke-linejoin="round"/>
<path d="M403.2,156 405.3,153.5 408.1,151.8 410.9,151.4 412.3,152.8" fill="none" stroke="#7a85a1" stroke-width="0.45" stroke-linejoin="round"/>
<path d="M343.8,219.4 347.5,220 348.1,223.8 347.5,227.5 348.1,231.2 348.1,233.1" fill="none" stroke="#7a85a1" stroke-width="0.45" stroke-linejoin="round"/>
<path d="M357.5,216.9 365,218.1 370,218.8" fill="none" stroke="#7a85a1" stroke-width="0.45" stroke-linejoin="round"/>
<path d="M368.8,197.5 371.9,199.4 375,200 376.9,201.9 378.1,205 376.2,207.5 375.6,210 378.1,211.2 377.5,214.4 380,215" fill="none" stroke="#7a85a1" stroke-width="0.45" stroke-linejoin="round"/>
<path d="M368.8,197.5 371.9,195 373.1,192.5 376.2,191.2 375.6,196.2 375,200" fill="none" stroke="#7a85a1" stroke-width="0.45" stroke-linejoin="round"/>
<path d="M379.4,188.1 381.9,187.5" fill="none" stroke="#7a85a1" stroke-width="0.45" stroke-linejoin="round"/>
<path d="M390.6,190 391.2,193.8 391.9,196.9 388.1,200 390,203.1 387.5,205 382.5,205.6 378.1,205" fill="none" stroke="#7a85a1" stroke-width="0.45" stroke-linejoin="round"/>
<path d="M391.9,196.9 396.2,198.8 400,200 405,201.2 408.8,200 411.2,198.1 410,193.8 408.8,189.4" fill="none" stroke="#7a85a1" stroke-width="0.45" stroke-linejoin="round"/>
<path d="M388.1,200 392.5,201.9 396.9,201.2 400,200" fill="none" stroke="#7a85a1" stroke-width="0.45" stroke-linejoin="round"/>
<path d="M382.5,205.6 387.5,206.9 392.5,206.2 396.9,204.4 396.9,201.2" fill="none" stroke="#7a85a1" stroke-width="0.45" stroke-linejoin="round"/>
<path d="M396.9,204.4 400,205.6 405,205 408.8,201.9 405,201.2" fill="none" stroke="#7a85a1" stroke-width="0.45" stroke-linejoin="round"/>
<path d="M408.8,189.4 412.5,186.9 417.5,185.6 422.5,187.5 425,191.2 425,193.8 421.2,195.6 416.2,195 411.2,198.1" fill="none" stroke="#7a85a1" stroke-width="0.45" stroke-linejoin="round"/>
<path d="M403.1,184.4 408.8,183.8 415,184.4 418.1,185.6" fill="none" stroke="#7a85a1" stroke-width="0.45" stroke-linejoin="round"/>
<path d="M405.6,180.6 411.2,180 415.6,180.6" fill="none" stroke="#7a85a1" stroke-width="0.45" stroke-linejoin="round"/>
<path d="M408.8,200 410,201.9 408.8,204.4" fill="none" stroke="#7a85a1" stroke-width="0.45" stroke-linejoin="round"/>
<path d="M392.5,206.2 393.1,209.4 396.9,208.8 400,205.6" fill="none" stroke="#7a85a1" stroke-width="0.45" stroke-linejoin="round"/>
<path d="M380,215 378.1,211.2 382.5,210 387.5,208.1 392.5,208.8 393.1,210.6" fill="none" stroke="#7a85a1" stroke-width="0.45" stroke-linejoin="round"/>
<path d="M375.6,210 378.1,208.1 381.9,207.8 382.8,210" fill="none" stroke="#7a85a1" stroke-width="0.45" stroke-linejoin="round"/>
<path d="M405,223.1 408.8,221.9 413.8,221.2 418.1,220.6 420,222.5" fill="none" stroke="#7a85a1" stroke-width="0.45" stroke-linejoin="round"/>
<path d="M396.9,208.8 400,212.5 403.8,216.2 406.2,218.1 405,223.1" fill="none" stroke="#7a85a1" stroke-width="0.45" stroke-linejoin="round"/>
<path d="M400,205.6 402.5,208.8 406.2,210 408.8,212.5 410,216.2 408.8,218.8 406.2,218.1" fill="none" stroke="#7a85a1" stroke-width="0.45" stroke-linejoin="round"/>
<path d="M402.5,208.8 401.2,211.9 403.8,216.2" fill="none" stroke="#7a85a1" stroke-width="0.45" stroke-linejoin="round"/>
<path d="M410,216.2 412.5,218.1 413.8,221.2" fill="none" stroke="#7a85a1" stroke-width="0.45" stroke-linejoin="round"/>
<path d="M440.6,255 443.1,252.5 445.6,248.8 448.8,246.2 453.8,248.1 458.8,250.6 463.8,253.1 466.9,252.8" fill="none" stroke="#7a85a1" stroke-width="0.45" stroke-linejoin="round"/>
<path d="M443.8,235.6 448.1,233.8 453.1,232.5 461.2,236.2 463.1,241.2 468.8,247.5 470,251.5" fill="none" stroke="#7a85a1" stroke-width="0.45" stroke-linejoin="round"/>
<path d="M441.9,235.6 443.8,235.6 448.8,243.1 445.6,248.8" fill="none" stroke="#7a85a1" stroke-width="0.45" stroke-linejoin="round"/>
<path d="M440.6,245 445,244.4 448.8,243.1" fill="none" stroke="#7a85a1" stroke-width="0.45" stroke-linejoin="round"/>
<path d="M440,246.2 441,250 439.8,253.1" fill="none" stroke="#7a85a1" stroke-width="0.45" stroke-linejoin="round"/>
<path d="M460.2,285.6 465,284.4 470.6,285 475,282.5 480,280.6 481.9,280 487.5,278.1 488.5,272.5 485,271.2 480,270 478.8,266.9" fill="none" stroke="#7a85a1" stroke-width="0.45" stroke-linejoin="round"/>
<path d="M488.5,272.5 490,267.5 488.8,263.8" fill="none" stroke="#7a85a1" stroke-width="0.45" stroke-linejoin="round"/>
<path d="M420,232.5 427.5,233.1 435,232.8 441.9,235.6" fill="none" stroke="#7a85a1" stroke-width="0.45" stroke-linejoin="round"/>
<path d="M480,221.9 479.4,220 478.1,216.2 479.4,212.5 483.1,211.9 488.1,213.8 491.2,216.2 496.2,215.6 501.2,217.5 505,221.9 508.1,223.1 510,220.6 513.8,218.1 520,217.2 526.9,217.5 531.2,218.1 530.6,215.6 528.8,212.5 532.5,210 533.1,206.9 537.5,206.9 536.9,204.4 538.1,201.5" fill="none" stroke="#7a85a1" stroke-width="0.45" stroke-linejoin="round"/>
<path d="M480,221.9 483.8,218.8 487.5,218.8 491.2,222.5 496.2,225.6 501.2,228.8 505,230.6 506.2,231.9" fill="none" stroke="#7a85a1" stroke-width="0.45" stroke-linejoin="round"/>
<path d="M508.1,223.1 510,226.2 507.5,227.5 509.4,230 510,232.5" fill="none" stroke="#7a85a1" stroke-width="0.45" stroke-linejoin="round"/>
<path d="M510,220.6 513.8,222.5 517.5,223.1 515,225 511.2,224.4 510,226.2" fill="none" stroke="#7a85a1" stroke-width="0.45" stroke-linejoin="round"/>
<path d="M531.2,218.1 527.5,221.2 523.1,223.1 520,226.2 520.6,230 519.4,231.9" fill="none" stroke="#7a85a1" stroke-width="0.45" stroke-linejoin="round"/>
<path d="M510,232.5 513.8,230 517.5,232.5 519.4,231.9" fill="none" stroke="#7a85a1" stroke-width="0.45" stroke-linejoin="round"/>
<path d="M450.6,221.5 453.8,222.2 456.9,223.1 460,222.8 461.2,225 460,227.5 458.8,230" fill="none" stroke="#7a85a1" stroke-width="0.45" stroke-linejoin="round"/>
<path d="M456.9,223.1 458.8,225.6 462.5,226.2 465,225 467.5,226.9" fill="none" stroke="#7a85a1" stroke-width="0.45" stroke-linejoin="round"/>
<path d="M583.8,260 582.4,264.2 583.1,267.1 585.9,269.9 588,272.7 591.9,273.4 594.3,271.6 597.2,270.6 600.3,269.2 603.2,270.2 605.3,274.1" fill="none" stroke="#7a85a1" stroke-width="0.45" stroke-linejoin="round"/>
<path d="M585.2,285.4 584.1,281.9 585.9,279.1 589.1,276.6 590.8,274.8 591.9,273.4" fill="none" stroke="#7a85a1" stroke-width="0.45" stroke-linejoin="round"/>
<path d="M585.2,285.4 587.6,287.9 588.7,290.3 587.6,291.8 589.1,293.9 590.5,296 591.2,298.1 591.2,299.5" fill="none" stroke="#7a85a1" stroke-width="0.45" stroke-linejoin="round"/>
<path d="M225,137.8 230,135.9 237.5,135.2 245,135.9 251.2,137.1 250,139.6 245,140.9 237.5,141.5 231.2,141.2 226.2,140.2Z" fill="#081d58" stroke="#76819f" stroke-width="0.35" stroke-linejoin="round"/>
<path d="M206.9,136.5 211.2,135 216.2,135.5 220,137.1 223.8,138.4 223.1,140.9 218.8,141.5 213.8,140.9 208.8,139.6Z" fill="#081d58" stroke="#76819f" stroke-width="0.35" stroke-linejoin="round"/>
<path d="M199.4,144.6 203.8,143.4 208.8,142.8 212.5,144 215,146.5 212.5,148.4 208.8,147.8 205,149 201.2,148.4Z" fill="#081d58" stroke="#76819f" stroke-width="0.35" stroke-linejoin="round"/>
<path d="M178.8,134 183.8,132.8 190,133 191.2,134.6 186.2,135.5 181.2,135.5Z" fill="#081d58" stroke="#76819f" stroke-width="0.35" stroke-linejoin="round"/>
<path d="M1.6,272.5 2,271.9 3,271.9 3.4,272.5 3,273.1 2,273.1Z" fill="#081d58" stroke="#76819f" stroke-width="0.35" stroke-linejoin="round"/>
<path d="M4.1,274 4.5,273.4 5.5,273.4 5.9,274 5.5,274.6 4.5,274.6Z" fill="#081d58" stroke="#76819f" stroke-width="0.35" stroke-linejoin="round"/>
<path d="M6.1,275.5 6.5,274.9 7.5,274.9 7.9,275.5 7.5,276.1 6.5,276.1Z" fill="#081d58" stroke="#76819f" stroke-width="0.35" stroke-linejoin="round"/>
<path d="M8.1,278 8.8,276.8 10.2,276.8 10.9,278 10.2,279.2 8.8,279.2Z" fill="#081d58" stroke="#76819f" stroke-width="0.35" stroke-linejoin="round"/>
<path d="M221.9,283.5 222.2,282.7 222.8,282.7 223.1,283.5 222.8,284.3 222.2,284.3Z" fill="#081d58" stroke="#76819f" stroke-width="0.35" stroke-linejoin="round"/>
<path d="M222.9,287.5 223.2,286.7 223.8,286.7 224.1,287.5 223.8,288.3 223.2,288.3Z" fill="#081d58" stroke="#76819f" stroke-width="0.35" stroke-linejoin="round"/>
<path d="M224.4,292 224.7,291.2 225.3,291.2 225.6,292 225.3,292.8 224.7,292.8Z" fill="#081d58" stroke="#76819f" stroke-width="0.35" stroke-linejoin="round"/>
<path d="M223.9,295.5 224.2,294.7 224.8,294.7 225.1,295.5 224.8,296.3 224.2,296.3Z" fill="#081d58" stroke="#76819f" stroke-width="0.35" stroke-linejoin="round"/>
<path d="M304.7,285.5 305.1,284.9 305.9,284.9 306.3,285.5 305.9,286.1 305.1,286.1Z" fill="#081d58" stroke="#76819f" stroke-width="0.35" stroke-linejoin="round"/>
<path d="M308.2,287 308.6,286.4 309.4,286.4 309.8,287 309.4,287.6 308.6,287.6Z" fill="#081d58" stroke="#76819f" stroke-width="0.35" stroke-linejoin="round"/>
<path d="M307.2,290.5 307.6,289.9 308.4,289.9 308.8,290.5 308.4,291.1 307.6,291.1Z" fill="#081d58" stroke="#76819f" stroke-width="0.35" stroke-linejoin="round"/>
<path d="M378.4,326 378.7,325.4 379.3,325.4 379.6,326 379.3,326.6 378.7,326.6Z" fill="#c7e9b4" stroke="#8f937c" stroke-width="0.35" stroke-linejoin="round"/>
<path d="M461.2,361 461.6,360.4 462.4,360.4 462.8,361 462.4,361.6 461.6,361.6Z" fill="#081d58" stroke="#76819f" stroke-width="0.35" stroke-linejoin="round"/>
<path d="M463.8,362.5 464.1,361.9 464.9,361.9 465.2,362.5 464.9,363.1 464.1,363.1Z" fill="#081d58" stroke="#76819f" stroke-width="0.35" stroke-linejoin="round"/>
<path d="M491.7,382.5 492.1,381.7 492.9,381.7 493.3,382.5 492.9,383.3 492.1,383.3Z" fill="#081d58" stroke="#76819f" stroke-width="0.35" stroke-linejoin="round"/>
<path d="M764.4,376 765.2,375 766.8,375 767.6,376 766.8,377 765.2,377Z" fill="#081d58" stroke="#76819f" stroke-width="0.35" stroke-linejoin="round"/>
<path d="M769.2,373 770.1,372.1 771.9,372.1 772.8,373 771.9,373.9 770.1,373.9Z" fill="#081d58" stroke="#76819f" stroke-width="0.35" stroke-linejoin="round"/>
<path d="M717.2,342.8 719.2,343 720.5,344.8 718.8,344.5Z" fill="#c7e9b4" stroke="#8f937c" stroke-width="0.35" stroke-linejoin="round"/>
<path d="M720.5,345.5 722.5,345.8 723.8,347.5 722,347.2Z" fill="#c7e9b4" stroke="#8f937c" stroke-width="0.35" stroke-linejoin="round"/>
<path d="M724.2,348.5 726.2,348.8 727.5,350.5 725.8,350.2Z" fill="#c7e9b4" stroke="#8f937c" stroke-width="0.35" stroke-linejoin="round"/>
<path d="M728.5,351.8 730.5,352 731.8,353.8 730,353.5Z" fill="#c7e9b4" stroke="#8f937c" stroke-width="0.35" stroke-linejoin="round"/>
<path d="M732.2,355.5 734.2,355.8 735.5,357.5 733.8,357.2Z" fill="#c7e9b4" stroke="#8f937c" stroke-width="0.35" stroke-linejoin="round"/>
<path d="M711.2,336.2 713.8,337.5 715.5,340.5 713.8,341 711.8,338.5Z" fill="#edf8b1" stroke="#8f937c" stroke-width="0.35" stroke-linejoin="round"/>
<path d="M405.7,218.1 407.1,217.6 408,218.8 406.8,219.8 405.9,219.1Z" fill="#fff"/>
<path d="M648.3,296.2 651.3,296.9 652.5,300.9 651.3,304.5 649.5,302.7 649,299.2Z" fill="#1b2a78" stroke="#76819f" stroke-width="0.35" stroke-linejoin="round"/>
<path d="M643,300.1 646,299.2 647.8,301.8 648.6,305.7 646.5,306.8 644.8,303.6Z" fill="#1b2a78" stroke="#76819f" stroke-width="0.35" stroke-linejoin="round"/>
<path d="M639.5,296.9 641.6,296.5 641.9,299.7 640.2,300.1Z" fill="#1b2a78" stroke="#76819f" stroke-width="0.35" stroke-linejoin="round"/>
<path d="M433.4,371.2 434.2,369.8 435.8,369.8 436.6,371.2 435.8,372.6 434.2,372.6Z" fill="#7fcdbb" stroke="#8f937c" stroke-width="0.35" stroke-linejoin="round"/>
</g>
<g id="legend">
<rect x="98.500" y="517.500" width="48" height="11" fill="url(#h)" stroke="#c4c4c4" stroke-width="1"/>
<rect x="166" y="517" width="58.500" height="12" fill="#ffffd9"/>
<rect x="224.500" y="517" width="58.500" height="12" fill="#edf8b1"/>
<rect x="283" y="517" width="58.500" height="12" fill="#c7e9b4"/>
<rect x="341.500" y="517" width="58.500" height="12" fill="#7fcdbb"/>
<rect x="400" y="517" width="58.500" height="12" fill="#41b6c4"/>
<rect x="458.500" y="517" width="58.500" height="12" fill="#1d91c0"/>
<rect x="517" y="517" width="58.500" height="12" fill="#225ea8"/>
<rect x="575.500" y="517" width="58.500" height="12" fill="#253494"/>
<rect x="634" y="517" width="58.500" height="12" fill="#1b2a78"/>
<rect x="692.500" y="517" width="58.500" height="12" fill="#081d58"/>
<rect x="166.250" y="517.250" width="584.500" height="11.500" fill="none" stroke="#9a9a9a" stroke-width="0.5"/>
<g stroke="#8a8a8a" stroke-width="0.6">
<line x1="122.500" y1="514.500" x2="122.500" y2="517"/>
<line x1="166.250" y1="514.500" x2="166.250" y2="517"/><line x1="224.500" y1="514.500" x2="224.500" y2="529"/><line x1="283" y1="514.500" x2="283" y2="529"/><line x1="341.500" y1="514.500" x2="341.500" y2="529"/><line x1="400" y1="514.500" x2="400" y2="529"/><line x1="458.500" y1="514.500" x2="458.500" y2="529"/><line x1="517" y1="514.500" x2="517" y2="529"/><line x1="575.500" y1="514.500" x2="575.500" y2="529"/><line x1="634" y1="514.500" x2="634" y2="529"/><line x1="692.500" y1="514.500" x2="692.500" y2="529"/>
</g>
</g>
</svg>
<div class="lg" style="left:99.400px;font-size:13px">No data</div>
<div class="lg" style="left:166.200px;transform:translateX(-50%)">0%</div>
<div class="lg" style="left:224.500px;transform:translateX(-50%)">10%</div>
<div class="lg" style="left:283px;transform:translateX(-50%)">20%</div>
<div class="lg" style="left:341.500px;transform:translateX(-50%)">30%</div>
<div class="lg" style="left:400px;transform:translateX(-50%)">40%</div>
<div class="lg" style="left:458.500px;transform:translateX(-50%)">50%</div>
<div class="lg" style="left:517px;transform:translateX(-50%)">60%</div>
<div class="lg" style="left:575.500px;transform:translateX(-50%)">70%</div>
<div class="lg" style="left:634px;transform:translateX(-50%)">80%</div>
<div class="lg" style="left:692.500px;transform:translateX(-50%)">90%</div>
<div class="lg" style="left:751px;transform:translateX(-50%)">100%</div>
<div class="ft" style="top:548.300px;font-size:12.95px"><b style="font-size:12.2px">Data source:</b> WHO/UNICEF Joint Monitoring Programme for Water Supply, Sanitation and Hygiene (2025)</div>
<div class="ft" style="top:569px;letter-spacing:0.05px">OurWorldinData.org/sanitation | CC BY</div>
</body></html>
